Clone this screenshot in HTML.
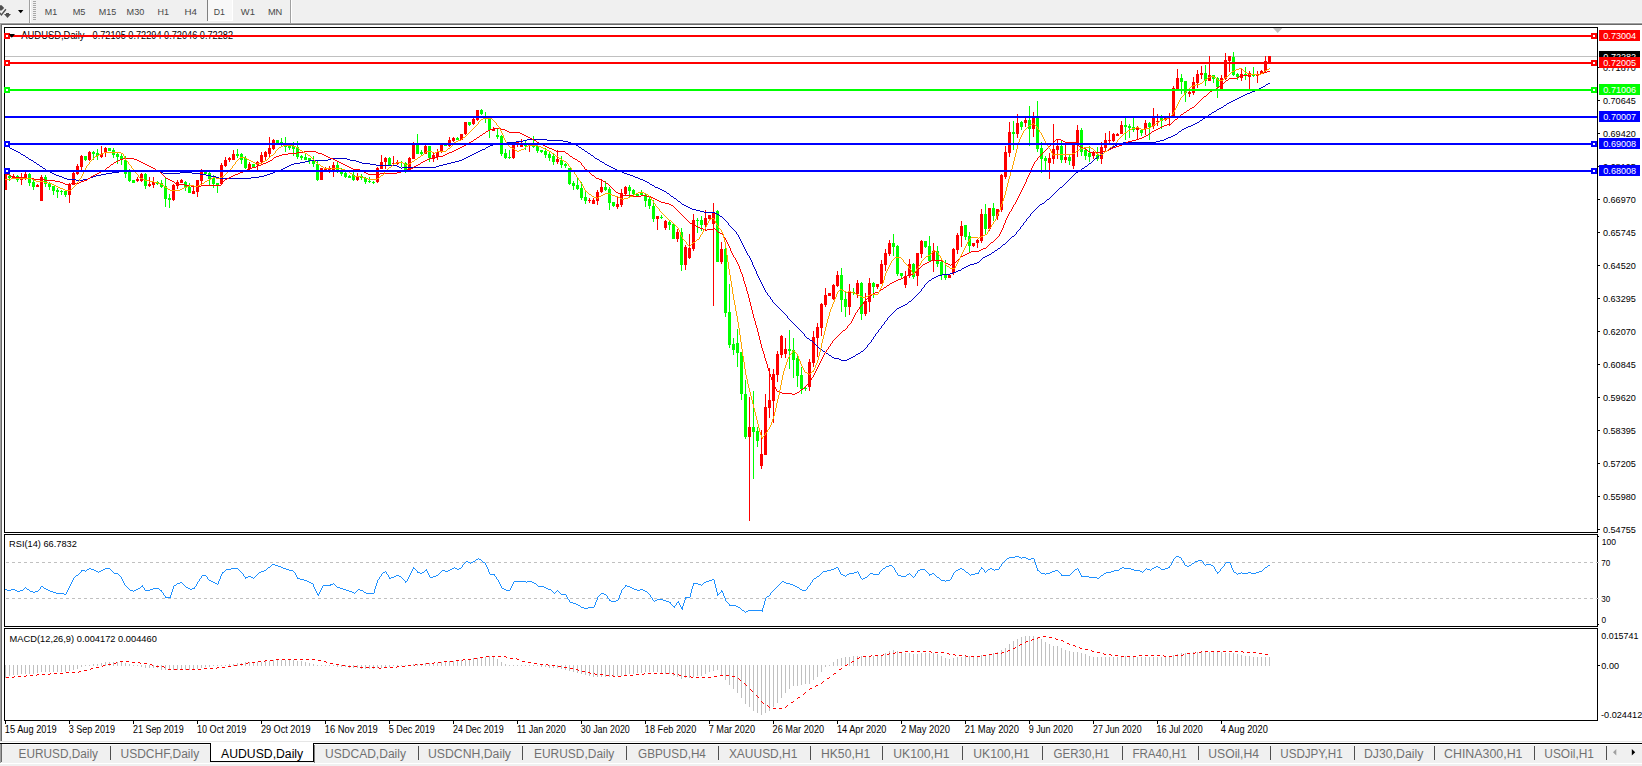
<!DOCTYPE html>
<html><head><meta charset="utf-8"><title>AUDUSD,Daily</title>
<style>html,body{margin:0;padding:0;background:#fff;overflow:hidden}svg{display:block}text{font-family:"Liberation Sans",sans-serif}</style></head>
<body>
<svg width="1642" height="766" viewBox="0 0 1642 766" shape-rendering="crispEdges" font-family="Liberation Sans, sans-serif">
<rect x="0" y="0" width="1642" height="766" fill="#ffffff"/>
<rect x="0" y="0" width="1642" height="23" fill="#f0f0f0"/>
<rect x="0" y="22" width="1642" height="1" fill="#f8f8f8"/>
<rect x="0" y="23" width="1642" height="1" fill="#a0a0a0"/>
<rect x="0" y="24" width="1642" height="1" fill="#696969"/>
<rect x="0" y="24" width="1" height="718" fill="#a0a0a0"/>
<rect x="1" y="25" width="1" height="717" fill="#696969"/>
<rect x="0" y="741" width="1642" height="1" fill="#e6e6e6"/>
<rect x="0" y="742" width="1642" height="1" fill="#ffffff"/>
<rect x="0" y="743" width="1642" height="1" fill="#000000"/>
<rect x="0" y="744" width="1642" height="1" fill="#fbfbfb"/>
<rect x="0" y="745" width="1642" height="18" fill="#f0f0f0"/>
<rect x="0" y="763" width="1642" height="1" fill="#ffffff"/>
<rect x="0" y="764" width="1642" height="2" fill="#f0f0f0"/>
<rect x="0" y="744" width="1" height="19" fill="#a0a0a0"/>
<rect x="1" y="744" width="1" height="18" fill="#696969"/>
<g fill="#505050" shape-rendering="auto">
<path d="M0 5.2 L1.6 5.2 L4.2 8.1 L1.6 10.4 L0 10.4 Z"/>
<path d="M-0.5 12.6 L1.4 14.9 L5.9 9.2" fill="none" stroke="#505050" stroke-width="1.4"/>
<path d="M4 14 L6 14 L6 13 L9 13 L9 14 L11 14 L7.5 18 Z"/>
</g>
<path d="M18 10 L23.4 10 L20.7 13.2 Z" fill="#000" shape-rendering="auto"/>
<rect x="29" y="0" width="1" height="23" fill="#a0a0a0"/>
<rect x="30" y="0" width="1" height="23" fill="#ffffff"/>
<rect x="33" y="1" width="3" height="1" fill="#a8a8a8"/>
<rect x="33" y="3" width="3" height="1" fill="#a8a8a8"/>
<rect x="33" y="5" width="3" height="1" fill="#a8a8a8"/>
<rect x="33" y="7" width="3" height="1" fill="#a8a8a8"/>
<rect x="33" y="9" width="3" height="1" fill="#a8a8a8"/>
<rect x="33" y="11" width="3" height="1" fill="#a8a8a8"/>
<rect x="33" y="13" width="3" height="1" fill="#a8a8a8"/>
<rect x="33" y="15" width="3" height="1" fill="#a8a8a8"/>
<rect x="33" y="17" width="3" height="1" fill="#a8a8a8"/>
<rect x="33" y="19" width="3" height="1" fill="#a8a8a8"/>
<rect x="208" y="0" width="25" height="21" fill="#f8f8f8"/>
<rect x="207" y="0" width="1" height="21" fill="#808080"/>
<rect x="208" y="20" width="25" height="1" fill="#ffffff"/>
<rect x="232" y="0" width="1" height="21" fill="#ffffff"/>
<rect x="290" y="0" width="1" height="23" fill="#a0a0a0"/>
<rect x="291" y="0" width="1" height="23" fill="#ffffff"/>
<text x="44.80" y="14.9" font-size="9.8" textLength="12.40" lengthAdjust="spacingAndGlyphs" fill="#484848">M1</text>
<text x="72.70" y="14.9" font-size="9.8" textLength="12.80" lengthAdjust="spacingAndGlyphs" fill="#484848">M5</text>
<text x="98.70" y="14.9" font-size="9.8" textLength="17.50" lengthAdjust="spacingAndGlyphs" fill="#484848">M15</text>
<text x="126.60" y="14.9" font-size="9.8" textLength="17.70" lengthAdjust="spacingAndGlyphs" fill="#484848">M30</text>
<text x="157.50" y="14.9" font-size="9.8" textLength="11.49" lengthAdjust="spacingAndGlyphs" fill="#484848">H1</text>
<text x="184.50" y="14.9" font-size="9.8" textLength="12.49" lengthAdjust="spacingAndGlyphs" fill="#484848">H4</text>
<text x="213.80" y="14.9" font-size="9.8" textLength="11.19" lengthAdjust="spacingAndGlyphs" fill="#484848">D1</text>
<text x="240.80" y="14.9" font-size="9.8" textLength="14.09" lengthAdjust="spacingAndGlyphs" fill="#484848">W1</text>
<text x="267.90" y="14.9" font-size="9.8" textLength="14.40" lengthAdjust="spacingAndGlyphs" fill="#484848">MN</text>
<g id="main">
<rect x="5" y="56" width="1592" height="1" fill="#c0c0c0"/>
<path d="M5 174h1v16h-1zM4 174h3v16h-3zM13 174h1v5h-1zM12 176h3v2h-3zM21 173h1v12h-1zM20 178h3v2h-3zM25 172h1v8h-1zM24 174h3v5h-3zM37 184h1v3h-1zM36 185h3v2h-3zM41 175h1v26h-1zM40 177h3v24h-3zM69 183h1v20h-1zM68 184h3v11h-3zM73 172h1v13h-1zM72 173h3v12h-3zM77 164h1v11h-1zM76 166h3v8h-3zM81 155h1v15h-1zM80 156h3v11h-3zM89 151h1v10h-1zM88 152h3v8h-3zM101 146h1v12h-1zM100 154h3v3h-3zM105 147h1v10h-1zM104 148h3v4h-3zM137 177h1v5h-1zM136 179h3v2h-3zM141 173h1v9h-1zM140 174h3v7h-3zM149 177h1v10h-1zM148 184h3v2h-3zM153 177h1v11h-1zM152 182h3v3h-3zM173 184h1v17h-1zM172 185h3v15h-3zM177 180h1v9h-1zM176 182h3v4h-3zM181 179h1v4h-1zM180 180h3v3h-3zM193 185h1v9h-1zM192 191h3v3h-3zM197 180h1v17h-1zM196 180h3v12h-3zM201 169h1v15h-1zM200 172h3v9h-3zM221 163h1v22h-1zM220 165h3v19h-3zM225 157h1v10h-1zM224 160h3v6h-3zM229 157h1v5h-1zM228 158h3v2h-3zM233 150h1v10h-1zM232 154h3v6h-3zM249 162h1v8h-1zM248 164h3v5h-3zM257 161h1v9h-1zM256 162h3v3h-3zM261 152h1v11h-1zM260 155h3v7h-3zM265 151h1v9h-1zM264 152h3v5h-3zM269 137h1v21h-1zM268 148h3v6h-3zM273 139h1v11h-1zM272 140h3v9h-3zM321 168h1v12h-1zM320 168h3v12h-3zM325 167h1v3h-1zM324 168h3v2h-3zM329 166h1v7h-1zM328 168h3v2h-3zM333 162h1v15h-1zM332 165h3v5h-3zM357 173h1v8h-1zM356 176h3v4h-3zM377 167h1v16h-1zM376 168h3v14h-3zM381 155h1v14h-1zM380 162h3v7h-3zM385 157h1v12h-1zM384 158h3v4h-3zM393 156h1v9h-1zM392 163h3v1h-3zM397 160h1v5h-1zM396 162h3v2h-3zM409 157h1v13h-1zM408 158h3v12h-3zM413 142h1v17h-1zM412 145h3v14h-3zM425 145h1v9h-1zM424 146h3v8h-3zM433 153h1v9h-1zM432 155h3v4h-3zM437 149h1v11h-1zM436 152h3v5h-3zM441 145h1v8h-1zM440 145h3v6h-3zM449 137h1v10h-1zM448 140h3v6h-3zM453 137h1v5h-1zM452 138h3v3h-3zM461 134h1v6h-1zM460 134h3v6h-3zM465 122h1v13h-1zM464 122h3v12h-3zM473 118h1v7h-1zM472 119h3v5h-3zM477 110h1v11h-1zM476 110h3v10h-3zM493 127h1v4h-1zM492 129h3v2h-3zM513 142h1v17h-1zM512 142h3v16h-3zM517 142h1v5h-1zM516 142h3v2h-3zM521 139h1v8h-1zM520 145h3v2h-3zM529 144h1v8h-1zM528 144h3v2h-3zM557 150h1v14h-1zM556 159h3v3h-3zM589 198h1v5h-1zM588 200h3v1h-3zM593 198h1v6h-1zM592 200h3v4h-3zM597 190h1v15h-1zM596 192h3v9h-3zM601 179h1v14h-1zM600 187h3v5h-3zM617 197h1v12h-1zM616 204h3v3h-3zM621 189h1v18h-1zM620 193h3v12h-3zM625 186h1v9h-1zM624 187h3v7h-3zM657 216h1v14h-1zM656 216h3v3h-3zM665 220h1v10h-1zM664 221h3v7h-3zM677 229h1v13h-1zM676 232h3v7h-3zM685 245h1v25h-1zM684 247h3v18h-3zM689 234h1v25h-1zM688 248h3v10h-3zM693 214h1v37h-1zM692 220h3v29h-3zM705 210h1v21h-1zM704 218h3v7h-3zM709 215h1v4h-1zM708 215h3v4h-3zM713 203h1v103h-1zM712 212h3v12h-3zM721 242h1v22h-1zM720 249h3v13h-3zM749 397h1v124h-1zM748 427h3v10h-3zM761 430h1v39h-1zM760 454h3v12h-3zM765 394h1v61h-1zM764 407h3v48h-3zM769 368h1v50h-1zM768 400h3v8h-3zM773 369h1v54h-1zM772 374h3v27h-3zM777 351h1v31h-1zM776 354h3v21h-3zM781 335h1v23h-1zM780 336h3v19h-3zM785 338h1v20h-1zM784 349h3v5h-3zM809 359h1v32h-1zM808 362h3v25h-3zM813 331h1v36h-1zM812 337h3v26h-3zM817 323h1v34h-1zM816 327h3v11h-3zM821 303h1v33h-1zM820 304h3v24h-3zM825 288h1v19h-1zM824 295h3v10h-3zM829 293h1v3h-1zM828 293h3v3h-3zM833 284h1v16h-1zM832 285h3v14h-3zM837 271h1v16h-1zM836 275h3v11h-3zM849 284h1v31h-1zM848 292h3v15h-3zM857 280h1v18h-1zM856 283h3v11h-3zM865 293h1v23h-1zM864 301h3v13h-3zM869 278h1v34h-1zM868 283h3v19h-3zM877 284h1v5h-1zM876 284h3v3h-3zM881 260h1v24h-1zM880 264h3v20h-3zM885 249h1v22h-1zM884 253h3v12h-3zM889 240h1v16h-1zM888 243h3v11h-3zM905 271h1v17h-1zM904 276h3v9h-3zM909 259h1v19h-1zM908 264h3v12h-3zM917 253h1v33h-1zM916 253h3v23h-3zM921 240h1v18h-1zM920 241h3v13h-3zM933 243h1v29h-1zM932 251h3v10h-3zM949 275h1v3h-1zM948 275h3v3h-3zM953 248h1v27h-1zM952 249h3v24h-3zM957 233h1v21h-1zM956 235h3v15h-3zM961 221h1v26h-1zM960 226h3v10h-3zM973 243h1v4h-1zM972 243h3v3h-3zM977 239h1v9h-1zM976 240h3v3h-3zM981 209h1v34h-1zM980 214h3v27h-3zM989 208h1v23h-1zM988 208h3v21h-3zM997 209h1v11h-1zM996 209h3v7h-3zM1001 174h1v38h-1zM1000 175h3v35h-3zM1005 146h1v33h-1zM1004 152h3v25h-3zM1009 122h1v35h-1zM1008 132h3v21h-3zM1017 114h1v24h-1zM1016 123h3v11h-3zM1025 117h1v10h-1zM1024 120h3v3h-3zM1033 112h1v25h-1zM1032 118h3v11h-3zM1049 153h1v26h-1zM1048 158h3v5h-3zM1053 124h1v40h-1zM1052 149h3v10h-3zM1057 139h1v20h-1zM1056 146h3v4h-3zM1065 142h1v21h-1zM1064 157h3v3h-3zM1073 142h1v27h-1zM1072 145h3v21h-3zM1077 125h1v32h-1zM1076 130h3v13h-3zM1093 151h1v8h-1zM1092 153h3v3h-3zM1101 142h1v22h-1zM1100 147h3v12h-3zM1105 133h1v18h-1zM1104 140h3v8h-3zM1109 131h1v12h-1zM1108 140h3v1h-3zM1113 133h1v9h-1zM1112 134h3v7h-3zM1117 133h1v3h-1zM1116 134h3v2h-3zM1121 121h1v13h-1zM1120 125h3v9h-3zM1137 126h1v14h-1zM1136 128h3v2h-3zM1145 120h1v15h-1zM1144 123h3v6h-3zM1153 108h1v21h-1zM1152 117h3v9h-3zM1157 114h1v12h-1zM1156 121h3v1h-3zM1165 118h1v3h-1zM1164 118h3v2h-3zM1169 113h1v13h-1zM1168 117h3v1h-3zM1173 86h1v30h-1zM1172 88h3v28h-3zM1177 69h1v20h-1zM1176 78h3v11h-3zM1189 91h1v6h-1zM1188 92h3v2h-3zM1193 77h1v18h-1zM1192 82h3v11h-3zM1197 70h1v18h-1zM1196 74h3v9h-3zM1201 66h1v13h-1zM1200 73h3v2h-3zM1209 56h1v25h-1zM1208 75h3v6h-3zM1221 75h1v14h-1zM1220 78h3v11h-3zM1225 53h1v27h-1zM1224 60h3v19h-3zM1229 56h1v16h-1zM1228 56h3v5h-3zM1241 69h1v12h-1zM1240 74h3v4h-3zM1249 71h1v18h-1zM1248 73h3v4h-3zM1257 71h1v12h-1zM1256 74h3v2h-3zM1261 70h1v4h-1zM1260 71h3v2h-3zM1265 56h1v16h-1zM1264 61h3v10h-3zM1269 56h1v7h-1zM1268 56h3v7h-3z" fill="#ff0000"/>
<path d="M9 174h1v7h-1zM8 176h3v2h-3zM17 175h1v7h-1zM16 176h3v4h-3zM29 173h1v13h-1zM28 174h3v9h-3zM33 180h1v10h-1zM32 182h3v5h-3zM45 175h1v12h-1zM44 177h3v7h-3zM49 182h1v8h-1zM48 184h3v3h-3zM53 186h1v9h-1zM52 186h3v5h-3zM57 188h1v10h-1zM56 190h3v2h-3zM61 190h1v5h-1zM60 191h3v1h-3zM65 190h1v7h-1zM64 191h3v4h-3zM85 156h1v5h-1zM84 156h3v4h-3zM93 151h1v9h-1zM92 152h3v2h-3zM97 149h1v11h-1zM96 153h3v3h-3zM109 148h1v3h-1zM108 148h3v3h-3zM113 148h1v10h-1zM112 150h3v5h-3zM117 152h1v12h-1zM116 154h3v3h-3zM121 153h1v12h-1zM120 156h3v4h-3zM125 156h1v22h-1zM124 160h3v14h-3zM129 169h1v13h-1zM128 172h3v9h-3zM133 180h1v3h-1zM132 180h3v3h-3zM145 173h1v16h-1zM144 174h3v12h-3zM157 181h1v4h-1zM156 182h3v2h-3zM161 180h1v8h-1zM160 183h3v4h-3zM165 178h1v29h-1zM164 186h3v13h-3zM169 194h1v14h-1zM168 198h3v2h-3zM185 181h1v10h-1zM184 182h3v5h-3zM189 183h1v10h-1zM188 187h3v6h-3zM205 171h1v3h-1zM204 172h3v2h-3zM209 172h1v13h-1zM208 173h3v6h-3zM213 175h1v13h-1zM212 178h3v6h-3zM217 183h1v10h-1zM216 183h3v2h-3zM237 149h1v9h-1zM236 154h3v2h-3zM241 153h1v11h-1zM240 154h3v6h-3zM245 156h1v13h-1zM244 158h3v10h-3zM253 164h1v3h-1zM252 164h3v3h-3zM277 140h1v3h-1zM276 140h3v3h-3zM281 138h1v8h-1zM280 142h3v1h-3zM285 137h1v15h-1zM284 145h3v2h-3zM289 145h1v5h-1zM288 146h3v2h-3zM293 142h1v14h-1zM292 146h3v3h-3zM297 141h1v18h-1zM296 147h3v10h-3zM301 155h1v5h-1zM300 156h3v2h-3zM305 154h1v6h-1zM304 157h3v3h-3zM309 158h1v6h-1zM308 158h3v3h-3zM313 156h1v11h-1zM312 161h3v3h-3zM317 161h1v20h-1zM316 164h3v16h-3zM337 162h1v11h-1zM336 165h3v5h-3zM341 168h1v8h-1zM340 172h3v2h-3zM345 172h1v6h-1zM344 173h3v4h-3zM349 175h1v3h-1zM348 176h3v2h-3zM353 172h1v9h-1zM352 175h3v5h-3zM361 174h1v6h-1zM360 176h3v2h-3zM365 177h1v7h-1zM364 178h3v4h-3zM369 177h1v6h-1zM368 181h3v1h-3zM373 181h1v3h-1zM372 182h3v1h-3zM389 157h1v9h-1zM388 158h3v7h-3zM401 161h1v6h-1zM400 162h3v1h-3zM405 162h1v11h-1zM404 163h3v7h-3zM417 134h1v20h-1zM416 145h3v9h-3zM421 150h1v5h-1zM420 152h3v2h-3zM429 146h1v16h-1zM428 146h3v12h-3zM445 144h1v2h-1zM444 145h3v1h-3zM457 137h1v3h-1zM456 138h3v2h-3zM469 122h1v4h-1zM468 122h3v3h-3zM481 109h1v6h-1zM480 110h3v4h-3zM485 112h1v11h-1zM484 116h3v2h-3zM489 118h1v20h-1zM488 118h3v12h-3zM497 129h1v10h-1zM496 135h3v2h-3zM501 135h1v21h-1zM500 136h3v18h-3zM505 149h1v10h-1zM504 153h3v5h-3zM509 150h1v9h-1zM508 157h3v1h-3zM525 141h1v9h-1zM524 145h3v1h-3zM533 136h1v12h-1zM532 145h3v2h-3zM537 145h1v8h-1zM536 146h3v5h-3zM541 150h1v3h-1zM540 150h3v2h-3zM545 148h1v10h-1zM544 151h3v4h-3zM549 151h1v10h-1zM548 154h3v4h-3zM553 154h1v11h-1zM552 156h3v6h-3zM561 156h1v12h-1zM560 160h3v5h-3zM565 163h1v5h-1zM564 164h3v2h-3zM569 168h1v17h-1zM568 168h3v16h-3zM573 181h1v9h-1zM572 183h3v3h-3zM577 178h1v12h-1zM576 185h3v4h-3zM581 182h1v18h-1zM580 188h3v10h-3zM585 192h1v12h-1zM584 197h3v4h-3zM605 181h1v10h-1zM604 187h3v3h-3zM609 187h1v23h-1zM608 189h3v14h-3zM613 202h1v5h-1zM612 202h3v4h-3zM629 185h1v13h-1zM628 187h3v4h-3zM633 189h1v7h-1zM632 190h3v4h-3zM637 193h1v4h-1zM636 194h3v2h-3zM641 190h1v5h-1zM640 193h3v2h-3zM645 193h1v14h-1zM644 195h3v6h-3zM649 196h1v13h-1zM648 199h3v7h-3zM653 200h1v22h-1zM652 206h3v13h-3zM661 215h1v4h-1zM660 217h3v1h-3zM669 221h1v9h-1zM668 222h3v3h-3zM673 223h1v16h-1zM672 224h3v15h-3zM681 228h1v43h-1zM680 232h3v33h-3zM697 218h1v15h-1zM696 220h3v1h-3zM701 216h1v15h-1zM700 220h3v5h-3zM717 210h1v52h-1zM716 211h3v51h-3zM725 247h1v70h-1zM724 249h3v64h-3zM729 284h1v64h-1zM728 312h3v33h-3zM733 338h1v17h-1zM732 344h3v6h-3zM737 329h1v38h-1zM736 343h3v10h-3zM741 352h1v48h-1zM740 352h3v42h-3zM745 380h1v59h-1zM744 394h3v43h-3zM753 391h1v88h-1zM752 427h3v5h-3zM757 427h1v20h-1zM756 431h3v10h-3zM789 330h1v39h-1zM788 349h3v2h-3zM793 338h1v40h-1zM792 350h3v10h-3zM797 356h1v31h-1zM796 358h3v18h-3zM801 367h1v27h-1zM800 375h3v14h-3zM805 387h1v4h-1zM804 388h3v1h-3zM841 268h1v44h-1zM840 275h3v25h-3zM845 292h1v25h-1zM844 299h3v8h-3zM853 288h1v7h-1zM852 292h3v1h-3zM861 282h1v38h-1zM860 283h3v31h-3zM873 282h1v16h-1zM872 283h3v4h-3zM893 234h1v22h-1zM892 243h3v4h-3zM897 245h1v31h-1zM896 246h3v28h-3zM901 273h1v5h-1zM900 273h3v3h-3zM913 263h1v16h-1zM912 264h3v13h-3zM925 241h1v7h-1zM924 241h3v6h-3zM929 236h1v25h-1zM928 246h3v15h-3zM937 246h1v21h-1zM936 251h3v13h-3zM941 261h1v19h-1zM940 262h3v13h-3zM945 260h1v20h-1zM944 275h3v3h-3zM965 225h1v15h-1zM964 225h3v12h-3zM969 232h1v20h-1zM968 236h3v10h-3zM985 204h1v30h-1zM984 214h3v15h-3zM993 203h1v18h-1zM992 208h3v8h-3zM1013 121h1v29h-1zM1012 132h3v2h-3zM1021 121h1v9h-1zM1020 122h3v5h-3zM1029 106h1v40h-1zM1028 120h3v9h-3zM1037 101h1v51h-1zM1036 118h3v31h-3zM1041 142h1v31h-1zM1040 148h3v11h-3zM1045 156h1v14h-1zM1044 158h3v3h-3zM1061 141h1v22h-1zM1060 146h3v14h-3zM1069 155h1v10h-1zM1068 157h3v4h-3zM1081 128h1v28h-1zM1080 130h3v22h-3zM1085 147h1v13h-1zM1084 150h3v6h-3zM1089 146h1v16h-1zM1088 153h3v4h-3zM1097 147h1v14h-1zM1096 155h3v4h-3zM1125 118h1v22h-1zM1124 125h3v2h-3zM1129 124h1v14h-1zM1128 126h3v2h-3zM1133 118h1v14h-1zM1132 127h3v3h-3zM1141 129h1v7h-1zM1140 130h3v3h-3zM1149 122h1v18h-1zM1148 123h3v4h-3zM1161 115h1v14h-1zM1160 118h3v3h-3zM1181 74h1v20h-1zM1180 78h3v4h-3zM1185 81h1v21h-1zM1184 81h3v12h-3zM1205 65h1v21h-1zM1204 73h3v8h-3zM1213 75h1v8h-1zM1212 75h3v4h-3zM1217 77h1v21h-1zM1216 78h3v9h-3zM1233 52h1v24h-1zM1232 57h3v18h-3zM1237 73h1v7h-1zM1236 74h3v3h-3zM1245 67h1v13h-1zM1244 74h3v2h-3zM1253 67h1v10h-1zM1252 74h3v2h-3z" fill="#00ff00"/>
<path d="M7 144h1v1h-1zM8 145h1v1h-1zM9 146h1v2h-1zM10 148h1v1h-1zM11 148h1v1h-1zM12 149h1v1h-1zM13 149h1v1h-1zM14 150h1v1h-1zM15 150h1v1h-1zM16 151h1v1h-1zM17 151h1v1h-1zM18 152h1v1h-1zM19 152h1v1h-1zM20 153h1v1h-1zM21 154h1v1h-1zM22 154h1v1h-1zM23 155h1v1h-1zM24 155h1v1h-1zM25 156h1v1h-1zM26 157h1v1h-1zM27 157h1v1h-1zM28 158h1v1h-1zM29 159h1v1h-1zM30 159h1v1h-1zM31 160h1v1h-1zM32 160h1v1h-1zM33 161h1v1h-1zM34 162h1v1h-1zM35 162h1v1h-1zM36 163h1v1h-1zM37 164h1v1h-1zM38 164h1v1h-1zM39 165h1v1h-1zM40 166h1v1h-1zM41 166h1v1h-1zM42 167h1v1h-1zM43 168h1v1h-1zM44 168h1v1h-1zM45 169h1v1h-1zM46 170h1v1h-1zM47 170h1v1h-1zM48 171h1v1h-1zM49 171h1v1h-1zM50 172h1v1h-1zM51 172h1v1h-1zM52 173h1v1h-1zM53 173h1v1h-1zM54 174h1v1h-1zM55 174h1v1h-1zM56 175h1v1h-1zM57 175h1v1h-1zM58 175h1v1h-1zM59 176h1v1h-1zM60 176h1v1h-1zM61 176h1v1h-1zM62 177h1v1h-1zM63 177h1v1h-1zM64 178h1v1h-1zM65 178h1v1h-1zM66 178h1v1h-1zM67 179h1v1h-1zM68 179h1v1h-1zM69 179h1v1h-1zM70 179h1v1h-1zM71 179h1v1h-1zM72 179h1v1h-1zM73 179h1v1h-1zM74 179h1v1h-1zM75 179h1v1h-1zM76 180h1v1h-1zM77 180h1v1h-1zM78 180h1v1h-1zM79 180h1v1h-1zM80 180h1v1h-1zM81 180h1v1h-1zM82 180h1v1h-1zM83 179h1v1h-1zM84 179h1v1h-1zM85 179h1v1h-1zM86 179h1v1h-1zM87 179h1v1h-1zM88 178h1v1h-1zM89 178h1v1h-1zM90 177h1v1h-1zM91 177h1v1h-1zM92 177h1v1h-1zM93 176h1v1h-1zM94 176h1v1h-1zM95 176h1v1h-1zM96 175h1v1h-1zM97 175h1v1h-1zM98 175h1v1h-1zM99 175h1v1h-1zM100 175h1v1h-1zM101 174h1v1h-1zM102 174h1v1h-1zM103 174h1v1h-1zM104 174h1v1h-1zM105 174h1v1h-1zM106 173h1v1h-1zM107 173h1v1h-1zM108 173h1v1h-1zM109 173h1v1h-1zM110 173h1v1h-1zM111 173h1v1h-1zM112 172h1v1h-1zM113 172h1v1h-1zM114 172h1v1h-1zM115 172h1v1h-1zM116 172h1v1h-1zM117 172h1v1h-1zM118 172h1v1h-1zM119 171h1v1h-1zM120 171h1v1h-1zM121 171h1v1h-1zM122 171h1v1h-1zM123 171h1v1h-1zM124 171h1v1h-1zM125 171h1v1h-1zM126 171h1v1h-1zM127 171h1v1h-1zM128 171h1v1h-1zM129 171h1v1h-1zM130 171h1v1h-1zM131 171h1v1h-1zM132 171h1v1h-1zM133 171h1v1h-1zM134 171h1v1h-1zM135 171h1v1h-1zM136 171h1v1h-1zM137 171h1v1h-1zM138 171h1v1h-1zM139 171h1v1h-1zM140 171h1v1h-1zM141 171h1v1h-1zM142 171h1v1h-1zM143 171h1v1h-1zM144 171h1v1h-1zM145 171h1v1h-1zM146 171h1v1h-1zM147 171h1v1h-1zM148 171h1v1h-1zM149 171h1v1h-1zM150 171h1v1h-1zM151 171h1v1h-1zM152 171h1v1h-1zM153 171h1v1h-1zM154 171h1v1h-1zM155 171h1v1h-1zM156 171h1v1h-1zM157 171h1v1h-1zM158 171h1v1h-1zM159 171h1v1h-1zM160 171h1v1h-1zM161 172h1v1h-1zM162 172h1v1h-1zM163 173h1v1h-1zM164 173h1v1h-1zM165 173h1v1h-1zM166 173h1v1h-1zM167 173h1v1h-1zM168 173h1v1h-1zM169 173h1v1h-1zM170 173h1v1h-1zM171 173h1v1h-1zM172 173h1v1h-1zM173 173h1v1h-1zM174 173h1v1h-1zM175 173h1v1h-1zM176 173h1v1h-1zM177 173h1v1h-1zM178 173h1v1h-1zM179 173h1v1h-1zM180 172h1v1h-1zM181 172h1v1h-1zM182 172h1v1h-1zM183 172h1v1h-1zM184 172h1v1h-1zM185 172h1v1h-1zM186 172h1v1h-1zM187 172h1v1h-1zM188 172h1v1h-1zM189 172h1v1h-1zM190 172h1v1h-1zM191 172h1v1h-1zM192 173h1v1h-1zM193 173h1v1h-1zM194 173h1v1h-1zM195 173h1v1h-1zM196 173h1v1h-1zM197 173h1v1h-1zM198 173h1v1h-1zM199 173h1v1h-1zM200 174h1v1h-1zM201 174h1v1h-1zM202 174h1v1h-1zM203 174h1v1h-1zM204 174h1v1h-1zM205 174h1v1h-1zM206 175h1v1h-1zM207 175h1v1h-1zM208 175h1v1h-1zM209 175h1v1h-1zM210 175h1v1h-1zM211 176h1v1h-1zM212 176h1v1h-1zM213 176h1v1h-1zM214 176h1v1h-1zM215 176h1v1h-1zM216 177h1v1h-1zM217 177h1v1h-1zM218 177h1v1h-1zM219 178h1v1h-1zM220 178h1v1h-1zM221 178h1v1h-1zM222 178h1v1h-1zM223 178h1v1h-1zM224 178h1v1h-1zM225 178h1v1h-1zM226 178h1v1h-1zM227 178h1v1h-1zM228 178h1v1h-1zM229 178h1v1h-1zM230 178h1v1h-1zM231 178h1v1h-1zM232 178h1v1h-1zM233 178h1v1h-1zM234 178h1v1h-1zM235 178h1v1h-1zM236 178h1v1h-1zM237 178h1v1h-1zM238 178h1v1h-1zM239 178h1v1h-1zM240 178h1v1h-1zM241 178h1v1h-1zM242 178h1v1h-1zM243 178h1v1h-1zM244 178h1v1h-1zM245 178h1v1h-1zM246 178h1v1h-1zM247 178h1v1h-1zM248 178h1v1h-1zM249 178h1v1h-1zM250 178h1v1h-1zM251 177h1v1h-1zM252 177h1v1h-1zM253 177h1v1h-1zM254 177h1v1h-1zM255 177h1v1h-1zM256 177h1v1h-1zM257 177h1v1h-1zM258 177h1v1h-1zM259 176h1v1h-1zM260 176h1v1h-1zM261 176h1v1h-1zM262 176h1v1h-1zM263 176h1v1h-1zM264 175h1v1h-1zM265 175h1v1h-1zM266 175h1v1h-1zM267 174h1v1h-1zM268 174h1v1h-1zM269 174h1v1h-1zM270 173h1v1h-1zM271 173h1v1h-1zM272 173h1v1h-1zM273 172h1v1h-1zM274 172h1v1h-1zM275 171h1v1h-1zM276 171h1v1h-1zM277 171h1v1h-1zM278 170h1v1h-1zM279 170h1v1h-1zM280 170h1v1h-1zM281 169h1v1h-1zM282 169h1v1h-1zM283 168h1v1h-1zM284 168h1v1h-1zM285 167h1v1h-1zM286 167h1v1h-1zM287 166h1v1h-1zM288 166h1v1h-1zM289 165h1v1h-1zM290 165h1v1h-1zM291 164h1v1h-1zM292 164h1v1h-1zM293 164h1v1h-1zM294 163h1v1h-1zM295 163h1v1h-1zM296 163h1v1h-1zM297 163h1v1h-1zM298 163h1v1h-1zM299 163h1v1h-1zM300 162h1v1h-1zM301 162h1v1h-1zM302 162h1v1h-1zM303 162h1v1h-1zM304 162h1v1h-1zM305 161h1v1h-1zM306 161h1v1h-1zM307 161h1v1h-1zM308 161h1v1h-1zM309 160h1v1h-1zM310 160h1v1h-1zM311 160h1v1h-1zM312 160h1v1h-1zM313 160h1v1h-1zM314 160h1v1h-1zM315 160h1v1h-1zM316 160h1v1h-1zM317 160h1v1h-1zM318 160h1v1h-1zM319 160h1v1h-1zM320 160h1v1h-1zM321 160h1v1h-1zM322 160h1v1h-1zM323 160h1v1h-1zM324 160h1v1h-1zM325 160h1v1h-1zM326 160h1v1h-1zM327 160h1v1h-1zM328 159h1v1h-1zM329 159h1v1h-1zM330 159h1v1h-1zM331 158h1v1h-1zM332 158h1v1h-1zM333 158h1v1h-1zM334 158h1v1h-1zM335 158h1v1h-1zM336 158h1v1h-1zM337 158h1v1h-1zM338 158h1v1h-1zM339 158h1v1h-1zM340 158h1v1h-1zM341 158h1v1h-1zM342 158h1v1h-1zM343 158h1v1h-1zM344 158h1v1h-1zM345 158h1v1h-1zM346 158h1v1h-1zM347 159h1v1h-1zM348 159h1v1h-1zM349 159h1v1h-1zM350 160h1v1h-1zM351 160h1v1h-1zM352 160h1v1h-1zM353 160h1v1h-1zM354 160h1v1h-1zM355 160h1v1h-1zM356 161h1v1h-1zM357 161h1v1h-1zM358 161h1v1h-1zM359 162h1v1h-1zM360 162h1v1h-1zM361 162h1v1h-1zM362 163h1v1h-1zM363 163h1v1h-1zM364 163h1v1h-1zM365 163h1v1h-1zM366 163h1v1h-1zM367 163h1v1h-1zM368 163h1v1h-1zM369 163h1v1h-1zM370 164h1v1h-1zM371 164h1v1h-1zM372 164h1v1h-1zM373 164h1v1h-1zM374 164h1v1h-1zM375 164h1v1h-1zM376 165h1v1h-1zM377 165h1v1h-1zM378 165h1v1h-1zM379 165h1v1h-1zM380 165h1v1h-1zM381 165h1v1h-1zM382 165h1v1h-1zM383 165h1v1h-1zM384 165h1v1h-1zM385 165h1v1h-1zM386 165h1v1h-1zM387 165h1v1h-1zM388 165h1v1h-1zM389 165h1v1h-1zM390 165h1v1h-1zM391 165h1v1h-1zM392 165h1v1h-1zM393 165h1v1h-1zM394 165h1v1h-1zM395 165h1v1h-1zM396 165h1v1h-1zM397 166h1v1h-1zM398 166h1v1h-1zM399 167h1v1h-1zM400 167h1v1h-1zM401 168h1v1h-1zM402 167h1v1h-1zM403 167h1v1h-1zM404 167h1v1h-1zM405 167h1v1h-1zM406 167h1v1h-1zM407 167h1v1h-1zM408 167h1v1h-1zM409 167h1v1h-1zM410 167h1v1h-1zM411 167h1v1h-1zM412 167h1v1h-1zM413 167h1v1h-1zM414 167h1v1h-1zM415 167h1v1h-1zM416 167h1v1h-1zM417 167h1v1h-1zM418 167h1v1h-1zM419 167h1v1h-1zM420 167h1v1h-1zM421 167h1v1h-1zM422 167h1v1h-1zM423 167h1v1h-1zM424 167h1v1h-1zM425 167h1v1h-1zM426 167h1v1h-1zM427 167h1v1h-1zM428 167h1v1h-1zM429 167h1v1h-1zM430 167h1v1h-1zM431 167h1v1h-1zM432 167h1v1h-1zM433 167h1v1h-1zM434 167h1v1h-1zM435 167h1v1h-1zM436 166h1v1h-1zM437 166h1v1h-1zM438 166h1v1h-1zM439 165h1v1h-1zM440 165h1v1h-1zM441 165h1v1h-1zM442 165h1v1h-1zM443 164h1v1h-1zM444 164h1v1h-1zM445 164h1v1h-1zM446 164h1v1h-1zM447 163h1v1h-1zM448 163h1v1h-1zM449 163h1v1h-1zM450 163h1v1h-1zM451 162h1v1h-1zM452 162h1v1h-1zM453 162h1v1h-1zM454 162h1v1h-1zM455 161h1v1h-1zM456 161h1v1h-1zM457 161h1v1h-1zM458 161h1v1h-1zM459 160h1v1h-1zM460 160h1v1h-1zM461 160h1v1h-1zM462 159h1v1h-1zM463 159h1v1h-1zM464 158h1v1h-1zM465 158h1v1h-1zM466 157h1v1h-1zM467 157h1v1h-1zM468 156h1v1h-1zM469 156h1v1h-1zM470 155h1v1h-1zM471 155h1v1h-1zM472 154h1v1h-1zM473 154h1v1h-1zM474 153h1v1h-1zM475 153h1v1h-1zM476 152h1v1h-1zM477 152h1v1h-1zM478 151h1v1h-1zM479 151h1v1h-1zM480 150h1v1h-1zM481 150h1v1h-1zM482 149h1v1h-1zM483 149h1v1h-1zM484 149h1v1h-1zM485 148h1v1h-1zM486 147h1v1h-1zM487 147h1v1h-1zM488 146h1v1h-1zM489 146h1v1h-1zM490 145h1v1h-1zM491 145h1v1h-1zM492 145h1v1h-1zM493 144h1v1h-1zM494 144h1v1h-1zM495 144h1v1h-1zM496 144h1v1h-1zM497 144h1v1h-1zM498 143h1v1h-1zM499 143h1v1h-1zM500 143h1v1h-1zM501 143h1v1h-1zM502 143h1v1h-1zM503 143h1v1h-1zM504 143h1v1h-1zM505 143h1v1h-1zM506 142h1v1h-1zM507 142h1v1h-1zM508 142h1v1h-1zM509 142h1v1h-1zM510 142h1v1h-1zM511 142h1v1h-1zM512 142h1v1h-1zM513 142h1v1h-1zM514 142h1v1h-1zM515 142h1v1h-1zM516 141h1v1h-1zM517 141h1v1h-1zM518 141h1v1h-1zM519 141h1v1h-1zM520 141h1v1h-1zM521 141h1v1h-1zM522 141h1v1h-1zM523 140h1v1h-1zM524 140h1v1h-1zM525 140h1v1h-1zM526 140h1v1h-1zM527 139h1v1h-1zM528 139h1v1h-1zM529 139h1v1h-1zM530 139h1v1h-1zM531 139h1v1h-1zM532 139h1v1h-1zM533 139h1v1h-1zM534 139h1v1h-1zM535 139h1v1h-1zM536 139h1v1h-1zM537 139h1v1h-1zM538 139h1v1h-1zM539 139h1v1h-1zM540 139h1v1h-1zM541 139h1v1h-1zM542 139h1v1h-1zM543 139h1v1h-1zM544 139h1v1h-1zM545 139h1v1h-1zM546 139h1v1h-1zM547 140h1v1h-1zM548 140h1v1h-1zM549 140h1v1h-1zM550 140h1v1h-1zM551 140h1v1h-1zM552 140h1v1h-1zM553 140h1v1h-1zM554 140h1v1h-1zM555 140h1v1h-1zM556 140h1v1h-1zM557 140h1v1h-1zM558 140h1v1h-1zM559 140h1v1h-1zM560 140h1v1h-1zM561 140h1v1h-1zM562 140h1v1h-1zM563 141h1v1h-1zM564 141h1v1h-1zM565 141h1v1h-1zM566 141h1v1h-1zM567 141h1v1h-1zM568 142h1v1h-1zM569 142h1v1h-1zM570 142h1v1h-1zM571 143h1v1h-1zM572 143h1v1h-1zM573 143h1v1h-1zM574 144h1v1h-1zM575 144h1v1h-1zM576 145h1v1h-1zM577 145h1v1h-1zM578 146h1v1h-1zM579 147h1v1h-1zM580 147h1v1h-1zM581 148h1v1h-1zM582 149h1v1h-1zM583 149h1v1h-1zM584 150h1v1h-1zM585 151h1v1h-1zM586 151h1v1h-1zM587 152h1v1h-1zM588 153h1v1h-1zM589 153h1v1h-1zM590 154h1v1h-1zM591 155h1v1h-1zM592 155h1v1h-1zM593 156h1v1h-1zM594 157h1v1h-1zM595 158h1v1h-1zM596 158h1v1h-1zM597 159h1v1h-1zM598 159h1v1h-1zM599 160h1v1h-1zM600 161h1v1h-1zM601 161h1v1h-1zM602 162h1v1h-1zM603 162h1v1h-1zM604 163h1v1h-1zM605 164h1v1h-1zM606 164h1v1h-1zM607 165h1v1h-1zM608 165h1v1h-1zM609 166h1v1h-1zM610 166h1v1h-1zM611 167h1v1h-1zM612 167h1v1h-1zM613 168h1v1h-1zM614 168h1v1h-1zM615 169h1v1h-1zM616 169h1v1h-1zM617 170h1v1h-1zM618 170h1v1h-1zM619 171h1v1h-1zM620 171h1v1h-1zM621 171h1v1h-1zM622 172h1v1h-1zM623 172h1v1h-1zM624 173h1v1h-1zM625 173h1v1h-1zM626 173h1v1h-1zM627 174h1v1h-1zM628 174h1v1h-1zM629 174h1v1h-1zM630 175h1v1h-1zM631 175h1v1h-1zM632 175h1v1h-1zM633 176h1v1h-1zM634 176h1v1h-1zM635 177h1v1h-1zM636 177h1v1h-1zM637 177h1v1h-1zM638 178h1v1h-1zM639 178h1v1h-1zM640 179h1v1h-1zM641 179h1v1h-1zM642 179h1v1h-1zM643 180h1v1h-1zM644 180h1v1h-1zM645 181h1v1h-1zM646 181h1v1h-1zM647 182h1v1h-1zM648 182h1v1h-1zM649 183h1v1h-1zM650 184h1v1h-1zM651 184h1v1h-1zM652 185h1v1h-1zM653 185h1v1h-1zM654 186h1v1h-1zM655 187h1v1h-1zM656 187h1v1h-1zM657 187h1v1h-1zM658 188h1v1h-1zM659 188h1v1h-1zM660 189h1v1h-1zM661 189h1v1h-1zM662 190h1v1h-1zM663 190h1v1h-1zM664 191h1v1h-1zM665 191h1v1h-1zM666 192h1v1h-1zM667 193h1v1h-1zM668 193h1v1h-1zM669 194h1v1h-1zM670 195h1v1h-1zM671 196h1v1h-1zM672 196h1v1h-1zM673 197h1v1h-1zM674 198h1v1h-1zM675 198h1v1h-1zM676 199h1v1h-1zM677 200h1v1h-1zM678 201h1v1h-1zM679 201h1v1h-1zM680 202h1v1h-1zM681 203h1v1h-1zM682 204h1v1h-1zM683 204h1v1h-1zM684 205h1v1h-1zM685 205h1v1h-1zM686 206h1v1h-1zM687 206h1v1h-1zM688 207h1v1h-1zM689 207h1v1h-1zM690 208h1v1h-1zM691 208h1v1h-1zM692 209h1v1h-1zM693 209h1v1h-1zM694 209h1v1h-1zM695 209h1v1h-1zM696 210h1v1h-1zM697 210h1v1h-1zM698 210h1v1h-1zM699 210h1v1h-1zM700 211h1v1h-1zM701 211h1v1h-1zM702 211h1v1h-1zM703 211h1v1h-1zM704 212h1v1h-1zM705 212h1v1h-1zM706 212h1v1h-1zM707 212h1v1h-1zM708 212h1v1h-1zM709 212h1v1h-1zM710 212h1v1h-1zM711 212h1v1h-1zM712 212h1v1h-1zM713 212h1v1h-1zM714 212h1v1h-1zM715 213h1v1h-1zM716 213h1v1h-1zM717 214h1v1h-1zM718 214h1v1h-1zM719 215h1v1h-1zM720 216h1v1h-1zM721 216h1v1h-1zM722 217h1v1h-1zM723 218h1v1h-1zM724 219h1v1h-1zM725 220h1v1h-1zM726 221h1v1h-1zM727 222h1v1h-1zM728 223h1v2h-1zM729 225h1v1h-1zM730 226h1v1h-1zM731 227h1v1h-1zM732 228h1v1h-1zM733 229h1v1h-1zM734 230h1v1h-1zM735 231h1v1h-1zM736 232h1v2h-1zM737 234h1v1h-1zM738 235h1v2h-1zM739 237h1v2h-1zM740 239h1v2h-1zM741 241h1v2h-1zM742 243h1v2h-1zM743 245h1v2h-1zM744 247h1v2h-1zM745 249h1v2h-1zM746 251h1v2h-1zM747 253h1v2h-1zM748 255h1v1h-1zM749 256h1v2h-1zM750 258h1v2h-1zM751 260h1v2h-1zM752 262h1v3h-1zM753 265h1v2h-1zM754 267h1v2h-1zM755 269h1v2h-1zM756 271h1v3h-1zM757 274h1v2h-1zM758 276h1v2h-1zM759 278h1v2h-1zM760 280h1v2h-1zM761 282h1v2h-1zM762 284h1v2h-1zM763 286h1v2h-1zM764 288h1v2h-1zM765 290h1v2h-1zM766 292h1v1h-1zM767 293h1v2h-1zM768 295h1v1h-1zM769 296h1v1h-1zM770 297h1v2h-1zM771 299h1v1h-1zM772 300h1v2h-1zM773 302h1v1h-1zM774 303h1v1h-1zM775 304h1v1h-1zM776 305h1v1h-1zM777 306h1v1h-1zM778 307h1v1h-1zM779 308h1v1h-1zM780 309h1v1h-1zM781 310h1v1h-1zM782 311h1v1h-1zM783 312h1v1h-1zM784 313h1v1h-1zM785 314h1v1h-1zM786 315h1v1h-1zM787 316h1v2h-1zM788 318h1v1h-1zM789 319h1v1h-1zM790 320h1v1h-1zM791 321h1v1h-1zM792 322h1v1h-1zM793 323h1v1h-1zM794 324h1v1h-1zM795 325h1v1h-1zM796 326h1v1h-1zM797 327h1v1h-1zM798 328h1v1h-1zM799 329h1v1h-1zM800 330h1v1h-1zM801 331h1v1h-1zM802 332h1v1h-1zM803 333h1v1h-1zM804 334h1v2h-1zM805 336h1v1h-1zM806 337h1v1h-1zM807 338h1v1h-1zM808 338h1v1h-1zM809 339h1v1h-1zM810 340h1v1h-1zM811 340h1v1h-1zM812 341h1v1h-1zM813 342h1v1h-1zM814 343h1v1h-1zM815 344h1v1h-1zM816 345h1v1h-1zM817 346h1v1h-1zM818 347h1v1h-1zM819 348h1v1h-1zM820 349h1v1h-1zM821 349h1v1h-1zM822 350h1v1h-1zM823 351h1v1h-1zM824 351h1v1h-1zM825 352h1v1h-1zM826 353h1v1h-1zM827 353h1v1h-1zM828 354h1v1h-1zM829 355h1v1h-1zM830 355h1v1h-1zM831 356h1v1h-1zM832 357h1v1h-1zM833 357h1v1h-1zM834 358h1v1h-1zM835 358h1v1h-1zM836 358h1v1h-1zM837 358h1v1h-1zM838 358h1v1h-1zM839 359h1v1h-1zM840 359h1v1h-1zM841 360h1v1h-1zM842 360h1v1h-1zM843 360h1v1h-1zM844 360h1v1h-1zM845 360h1v1h-1zM846 360h1v1h-1zM847 359h1v1h-1zM848 359h1v1h-1zM849 358h1v1h-1zM850 358h1v1h-1zM851 357h1v1h-1zM852 357h1v1h-1zM853 356h1v1h-1zM854 356h1v1h-1zM855 355h1v1h-1zM856 354h1v1h-1zM857 354h1v1h-1zM858 353h1v1h-1zM859 353h1v1h-1zM860 352h1v1h-1zM861 351h1v1h-1zM862 351h1v1h-1zM863 350h1v1h-1zM864 349h1v1h-1zM865 348h1v1h-1zM866 347h1v1h-1zM867 345h1v2h-1zM868 344h1v1h-1zM869 343h1v1h-1zM870 342h1v1h-1zM871 340h1v2h-1zM872 339h1v1h-1zM873 337h1v2h-1zM874 336h1v1h-1zM875 334h1v2h-1zM876 333h1v1h-1zM877 332h1v1h-1zM878 330h1v2h-1zM879 329h1v1h-1zM880 328h1v1h-1zM881 326h1v2h-1zM882 325h1v1h-1zM883 324h1v1h-1zM884 322h1v2h-1zM885 321h1v1h-1zM886 320h1v1h-1zM887 318h1v2h-1zM888 317h1v1h-1zM889 316h1v1h-1zM890 315h1v1h-1zM891 314h1v1h-1zM892 313h1v1h-1zM893 312h1v1h-1zM894 311h1v1h-1zM895 310h1v1h-1zM896 309h1v1h-1zM897 308h1v1h-1zM898 308h1v1h-1zM899 307h1v1h-1zM900 307h1v1h-1zM901 306h1v1h-1zM902 306h1v1h-1zM903 305h1v1h-1zM904 305h1v1h-1zM905 304h1v1h-1zM906 304h1v1h-1zM907 303h1v1h-1zM908 302h1v1h-1zM909 301h1v1h-1zM910 301h1v1h-1zM911 300h1v1h-1zM912 299h1v1h-1zM913 298h1v1h-1zM914 297h1v1h-1zM915 296h1v1h-1zM916 295h1v1h-1zM917 294h1v1h-1zM918 293h1v1h-1zM919 292h1v1h-1zM920 291h1v1h-1zM921 289h1v2h-1zM922 288h1v1h-1zM923 287h1v1h-1zM924 285h1v2h-1zM925 284h1v1h-1zM926 283h1v1h-1zM927 282h1v1h-1zM928 281h1v1h-1zM929 280h1v1h-1zM930 280h1v1h-1zM931 279h1v1h-1zM932 278h1v1h-1zM933 278h1v1h-1zM934 277h1v1h-1zM935 277h1v1h-1zM936 276h1v1h-1zM937 276h1v1h-1zM938 275h1v1h-1zM939 275h1v1h-1zM940 275h1v1h-1zM941 275h1v1h-1zM942 274h1v1h-1zM943 274h1v1h-1zM944 274h1v1h-1zM945 274h1v1h-1zM946 274h1v1h-1zM947 274h1v1h-1zM948 274h1v1h-1zM949 274h1v1h-1zM950 273h1v1h-1zM951 273h1v1h-1zM952 273h1v1h-1zM953 272h1v1h-1zM954 272h1v1h-1zM955 272h1v1h-1zM956 271h1v1h-1zM957 271h1v1h-1zM958 270h1v1h-1zM959 270h1v1h-1zM960 270h1v1h-1zM961 269h1v1h-1zM962 268h1v1h-1zM963 268h1v1h-1zM964 267h1v1h-1zM965 267h1v1h-1zM966 266h1v1h-1zM967 266h1v1h-1zM968 265h1v1h-1zM969 265h1v1h-1zM970 264h1v1h-1zM971 264h1v1h-1zM972 264h1v1h-1zM973 264h1v1h-1zM974 263h1v1h-1zM975 263h1v1h-1zM976 263h1v1h-1zM977 262h1v1h-1zM978 262h1v1h-1zM979 261h1v1h-1zM980 260h1v1h-1zM981 259h1v1h-1zM982 258h1v1h-1zM983 257h1v1h-1zM984 257h1v1h-1zM985 256h1v1h-1zM986 256h1v1h-1zM987 255h1v1h-1zM988 255h1v1h-1zM989 254h1v1h-1zM990 254h1v1h-1zM991 253h1v1h-1zM992 252h1v1h-1zM993 252h1v1h-1zM994 251h1v1h-1zM995 250h1v1h-1zM996 250h1v1h-1zM997 249h1v1h-1zM998 248h1v1h-1zM999 248h1v1h-1zM1000 247h1v1h-1zM1001 246h1v1h-1zM1002 245h1v1h-1zM1003 244h1v1h-1zM1004 244h1v1h-1zM1005 243h1v1h-1zM1006 242h1v1h-1zM1007 241h1v1h-1zM1008 240h1v1h-1zM1009 239h1v1h-1zM1010 238h1v1h-1zM1011 237h1v1h-1zM1012 236h1v1h-1zM1013 236h1v1h-1zM1014 235h1v1h-1zM1015 234h1v1h-1zM1016 232h1v2h-1zM1017 231h1v1h-1zM1018 230h1v1h-1zM1019 229h1v1h-1zM1020 227h1v2h-1zM1021 226h1v1h-1zM1022 225h1v1h-1zM1023 223h1v2h-1zM1024 222h1v1h-1zM1025 221h1v1h-1zM1026 219h1v2h-1zM1027 218h1v1h-1zM1028 217h1v1h-1zM1029 216h1v1h-1zM1030 214h1v2h-1zM1031 213h1v1h-1zM1032 212h1v1h-1zM1033 211h1v1h-1zM1034 210h1v1h-1zM1035 209h1v1h-1zM1036 208h1v1h-1zM1037 207h1v1h-1zM1038 206h1v1h-1zM1039 205h1v1h-1zM1040 204h1v1h-1zM1041 204h1v1h-1zM1042 203h1v1h-1zM1043 203h1v1h-1zM1044 202h1v1h-1zM1045 201h1v1h-1zM1046 200h1v1h-1zM1047 199h1v1h-1zM1048 199h1v1h-1zM1049 198h1v1h-1zM1050 197h1v1h-1zM1051 196h1v1h-1zM1052 195h1v1h-1zM1053 194h1v1h-1zM1054 193h1v1h-1zM1055 192h1v1h-1zM1056 191h1v1h-1zM1057 190h1v1h-1zM1058 189h1v1h-1zM1059 188h1v1h-1zM1060 187h1v1h-1zM1061 187h1v1h-1zM1062 186h1v1h-1zM1063 185h1v1h-1zM1064 184h1v1h-1zM1065 183h1v1h-1zM1066 182h1v1h-1zM1067 181h1v1h-1zM1068 180h1v1h-1zM1069 179h1v1h-1zM1070 178h1v1h-1zM1071 177h1v1h-1zM1072 176h1v1h-1zM1073 175h1v1h-1zM1074 174h1v1h-1zM1075 173h1v1h-1zM1076 172h1v1h-1zM1077 172h1v1h-1zM1078 171h1v1h-1zM1079 170h1v1h-1zM1080 170h1v1h-1zM1081 169h1v1h-1zM1082 168h1v1h-1zM1083 168h1v1h-1zM1084 167h1v1h-1zM1085 166h1v1h-1zM1086 166h1v1h-1zM1087 165h1v1h-1zM1088 164h1v1h-1zM1089 163h1v1h-1zM1090 163h1v1h-1zM1091 162h1v1h-1zM1092 161h1v1h-1zM1093 160h1v1h-1zM1094 159h1v1h-1zM1095 158h1v1h-1zM1096 158h1v1h-1zM1097 157h1v1h-1zM1098 156h1v1h-1zM1099 155h1v1h-1zM1100 155h1v1h-1zM1101 154h1v1h-1zM1102 153h1v1h-1zM1103 153h1v1h-1zM1104 152h1v1h-1zM1105 151h1v1h-1zM1106 151h1v1h-1zM1107 150h1v1h-1zM1108 149h1v1h-1zM1109 149h1v1h-1zM1110 148h1v1h-1zM1111 148h1v1h-1zM1112 147h1v1h-1zM1113 146h1v1h-1zM1114 146h1v1h-1zM1115 145h1v1h-1zM1116 145h1v1h-1zM1117 144h1v1h-1zM1118 144h1v1h-1zM1119 144h1v1h-1zM1120 143h1v1h-1zM1121 143h1v1h-1zM1122 143h1v1h-1zM1123 142h1v1h-1zM1124 142h1v1h-1zM1125 142h1v1h-1zM1126 142h1v1h-1zM1127 142h1v1h-1zM1128 142h1v1h-1zM1129 142h1v1h-1zM1130 142h1v1h-1zM1131 142h1v1h-1zM1132 142h1v1h-1zM1133 142h1v1h-1zM1134 142h1v1h-1zM1135 142h1v1h-1zM1136 142h1v1h-1zM1137 142h1v1h-1zM1138 142h1v1h-1zM1139 142h1v1h-1zM1140 142h1v1h-1zM1141 142h1v1h-1zM1142 142h1v1h-1zM1143 142h1v1h-1zM1144 142h1v1h-1zM1145 142h1v1h-1zM1146 142h1v1h-1zM1147 142h1v1h-1zM1148 142h1v1h-1zM1149 142h1v1h-1zM1150 142h1v1h-1zM1151 142h1v1h-1zM1152 142h1v1h-1zM1153 142h1v1h-1zM1154 142h1v1h-1zM1155 142h1v1h-1zM1156 141h1v1h-1zM1157 141h1v1h-1zM1158 141h1v1h-1zM1159 141h1v1h-1zM1160 140h1v1h-1zM1161 140h1v1h-1zM1162 140h1v1h-1zM1163 140h1v1h-1zM1164 139h1v1h-1zM1165 139h1v1h-1zM1166 138h1v1h-1zM1167 138h1v1h-1zM1168 137h1v1h-1zM1169 137h1v1h-1zM1170 137h1v1h-1zM1171 136h1v1h-1zM1172 136h1v1h-1zM1173 135h1v1h-1zM1174 135h1v1h-1zM1175 134h1v1h-1zM1176 134h1v1h-1zM1177 133h1v1h-1zM1178 132h1v1h-1zM1179 131h1v1h-1zM1180 131h1v1h-1zM1181 130h1v1h-1zM1182 129h1v1h-1zM1183 129h1v1h-1zM1184 128h1v1h-1zM1185 128h1v1h-1zM1186 127h1v1h-1zM1187 127h1v1h-1zM1188 126h1v1h-1zM1189 126h1v1h-1zM1190 126h1v1h-1zM1191 125h1v1h-1zM1192 125h1v1h-1zM1193 124h1v1h-1zM1194 124h1v1h-1zM1195 123h1v1h-1zM1196 123h1v1h-1zM1197 122h1v1h-1zM1198 122h1v1h-1zM1199 121h1v1h-1zM1200 120h1v1h-1zM1201 120h1v1h-1zM1202 119h1v1h-1zM1203 118h1v1h-1zM1204 118h1v1h-1zM1205 117h1v1h-1zM1206 116h1v1h-1zM1207 116h1v1h-1zM1208 115h1v1h-1zM1209 114h1v1h-1zM1210 114h1v1h-1zM1211 113h1v1h-1zM1212 112h1v1h-1zM1213 112h1v1h-1zM1214 111h1v1h-1zM1215 111h1v1h-1zM1216 110h1v1h-1zM1217 109h1v1h-1zM1218 109h1v1h-1zM1219 108h1v1h-1zM1220 108h1v1h-1zM1221 107h1v1h-1zM1222 107h1v1h-1zM1223 106h1v1h-1zM1224 105h1v1h-1zM1225 105h1v1h-1zM1226 104h1v1h-1zM1227 103h1v1h-1zM1228 103h1v1h-1zM1229 102h1v1h-1zM1230 102h1v1h-1zM1231 101h1v1h-1zM1232 101h1v1h-1zM1233 100h1v1h-1zM1234 100h1v1h-1zM1235 99h1v1h-1zM1236 99h1v1h-1zM1237 98h1v1h-1zM1238 98h1v1h-1zM1239 97h1v1h-1zM1240 97h1v1h-1zM1241 96h1v1h-1zM1242 96h1v1h-1zM1243 95h1v1h-1zM1244 95h1v1h-1zM1245 94h1v1h-1zM1246 94h1v1h-1zM1247 93h1v1h-1zM1248 93h1v1h-1zM1249 93h1v1h-1zM1250 92h1v1h-1zM1251 92h1v1h-1zM1252 91h1v1h-1zM1253 91h1v1h-1zM1254 91h1v1h-1zM1255 90h1v1h-1zM1256 90h1v1h-1zM1257 89h1v1h-1zM1258 89h1v1h-1zM1259 88h1v1h-1zM1260 88h1v1h-1zM1261 87h1v1h-1zM1262 87h1v1h-1zM1263 86h1v1h-1zM1264 86h1v1h-1zM1265 85h1v1h-1zM1266 84h1v1h-1zM1267 84h1v1h-1zM1268 83h1v1h-1zM1269 83h1v1h-1z" fill="#0000c8"/>
<path d="M5 173h1v1h-1zM6 173h1v1h-1zM7 174h1v1h-1zM8 174h1v1h-1zM9 175h1v1h-1zM10 175h1v1h-1zM11 176h1v1h-1zM12 176h1v1h-1zM13 177h1v1h-1zM14 177h1v1h-1zM15 177h1v1h-1zM16 177h1v1h-1zM17 177h1v1h-1zM18 177h1v1h-1zM19 177h1v1h-1zM20 177h1v1h-1zM21 177h1v1h-1zM22 177h1v1h-1zM23 177h1v1h-1zM24 177h1v1h-1zM25 178h1v1h-1zM26 178h1v1h-1zM27 178h1v1h-1zM28 178h1v1h-1zM29 178h1v1h-1zM30 178h1v1h-1zM31 178h1v1h-1zM32 178h1v1h-1zM33 178h1v1h-1zM34 179h1v1h-1zM35 179h1v1h-1zM36 179h1v1h-1zM37 179h1v1h-1zM38 179h1v1h-1zM39 179h1v1h-1zM40 179h1v1h-1zM41 179h1v1h-1zM42 179h1v1h-1zM43 179h1v1h-1zM44 179h1v1h-1zM45 180h1v1h-1zM46 180h1v1h-1zM47 180h1v1h-1zM48 180h1v1h-1zM49 180h1v1h-1zM50 180h1v1h-1zM51 180h1v1h-1zM52 180h1v1h-1zM53 180h1v1h-1zM54 180h1v1h-1zM55 181h1v1h-1zM56 181h1v1h-1zM57 181h1v1h-1zM58 181h1v1h-1zM59 181h1v1h-1zM60 182h1v1h-1zM61 182h1v1h-1zM62 182h1v1h-1zM63 183h1v1h-1zM64 183h1v1h-1zM65 184h1v1h-1zM66 184h1v1h-1zM67 184h1v1h-1zM68 184h1v1h-1zM69 184h1v1h-1zM70 184h1v1h-1zM71 183h1v1h-1zM72 183h1v1h-1zM73 183h1v1h-1zM74 183h1v1h-1zM75 183h1v1h-1zM76 183h1v1h-1zM77 183h1v1h-1zM78 183h1v1h-1zM79 182h1v1h-1zM80 182h1v1h-1zM81 181h1v1h-1zM82 181h1v1h-1zM83 181h1v1h-1zM84 180h1v1h-1zM85 180h1v1h-1zM86 180h1v1h-1zM87 179h1v1h-1zM88 178h1v1h-1zM89 178h1v1h-1zM90 177h1v1h-1zM91 176h1v1h-1zM92 176h1v1h-1zM93 175h1v1h-1zM94 175h1v1h-1zM95 174h1v1h-1zM96 174h1v1h-1zM97 173h1v1h-1zM98 173h1v1h-1zM99 172h1v1h-1zM100 172h1v1h-1zM101 171h1v1h-1zM102 171h1v1h-1zM103 170h1v1h-1zM104 170h1v1h-1zM105 169h1v1h-1zM106 168h1v1h-1zM107 167h1v1h-1zM108 167h1v1h-1zM109 166h1v1h-1zM110 165h1v1h-1zM111 164h1v1h-1zM112 164h1v1h-1zM113 163h1v1h-1zM114 162h1v1h-1zM115 162h1v1h-1zM116 161h1v1h-1zM117 161h1v1h-1zM118 160h1v1h-1zM119 160h1v1h-1zM120 159h1v1h-1zM121 159h1v1h-1zM122 159h1v1h-1zM123 158h1v1h-1zM124 158h1v1h-1zM125 158h1v1h-1zM126 158h1v1h-1zM127 158h1v1h-1zM128 158h1v1h-1zM129 158h1v1h-1zM130 158h1v1h-1zM131 158h1v1h-1zM132 158h1v1h-1zM133 158h1v1h-1zM134 159h1v1h-1zM135 159h1v1h-1zM136 159h1v1h-1zM137 160h1v1h-1zM138 160h1v1h-1zM139 161h1v1h-1zM140 161h1v1h-1zM141 162h1v1h-1zM142 162h1v1h-1zM143 163h1v1h-1zM144 163h1v1h-1zM145 164h1v1h-1zM146 164h1v1h-1zM147 165h1v1h-1zM148 165h1v1h-1zM149 166h1v1h-1zM150 166h1v1h-1zM151 167h1v1h-1zM152 167h1v1h-1zM153 168h1v1h-1zM154 168h1v1h-1zM155 169h1v1h-1zM156 170h1v1h-1zM157 170h1v1h-1zM158 171h1v1h-1zM159 171h1v1h-1zM160 172h1v1h-1zM161 173h1v1h-1zM162 174h1v1h-1zM163 175h1v1h-1zM164 176h1v1h-1zM165 177h1v1h-1zM166 178h1v1h-1zM167 178h1v1h-1zM168 179h1v1h-1zM169 179h1v1h-1zM170 180h1v1h-1zM171 180h1v1h-1zM172 181h1v1h-1zM173 181h1v1h-1zM174 182h1v1h-1zM175 183h1v1h-1zM176 183h1v1h-1zM177 184h1v1h-1zM178 184h1v1h-1zM179 184h1v1h-1zM180 184h1v1h-1zM181 184h1v1h-1zM182 184h1v1h-1zM183 184h1v1h-1zM184 184h1v1h-1zM185 185h1v1h-1zM186 185h1v1h-1zM187 185h1v1h-1zM188 185h1v1h-1zM189 185h1v1h-1zM190 185h1v1h-1zM191 186h1v1h-1zM192 186h1v1h-1zM193 186h1v1h-1zM194 186h1v1h-1zM195 186h1v1h-1zM196 186h1v1h-1zM197 186h1v1h-1zM198 186h1v1h-1zM199 186h1v1h-1zM200 186h1v1h-1zM201 185h1v1h-1zM202 185h1v1h-1zM203 185h1v1h-1zM204 185h1v1h-1zM205 185h1v1h-1zM206 185h1v1h-1zM207 185h1v1h-1zM208 185h1v1h-1zM209 185h1v1h-1zM210 185h1v1h-1zM211 185h1v1h-1zM212 185h1v1h-1zM213 185h1v1h-1zM214 185h1v1h-1zM215 185h1v1h-1zM216 185h1v1h-1zM217 185h1v1h-1zM218 185h1v1h-1zM219 185h1v1h-1zM220 185h1v1h-1zM221 184h1v1h-1zM222 182h1v2h-1zM223 181h1v1h-1zM224 180h1v1h-1zM225 179h1v1h-1zM226 179h1v1h-1zM227 178h1v1h-1zM228 178h1v1h-1zM229 177h1v1h-1zM230 177h1v1h-1zM231 176h1v1h-1zM232 176h1v1h-1zM233 175h1v1h-1zM234 175h1v1h-1zM235 174h1v1h-1zM236 174h1v1h-1zM237 174h1v1h-1zM238 173h1v1h-1zM239 173h1v1h-1zM240 172h1v1h-1zM241 172h1v1h-1zM242 172h1v1h-1zM243 171h1v1h-1zM244 171h1v1h-1zM245 170h1v1h-1zM246 170h1v1h-1zM247 169h1v1h-1zM248 169h1v1h-1zM249 168h1v1h-1zM250 168h1v1h-1zM251 168h1v1h-1zM252 167h1v1h-1zM253 167h1v1h-1zM254 167h1v1h-1zM255 167h1v1h-1zM256 166h1v1h-1zM257 166h1v1h-1zM258 165h1v1h-1zM259 165h1v1h-1zM260 165h1v1h-1zM261 164h1v1h-1zM262 164h1v1h-1zM263 163h1v1h-1zM264 163h1v1h-1zM265 163h1v1h-1zM266 162h1v1h-1zM267 162h1v1h-1zM268 161h1v1h-1zM269 161h1v1h-1zM270 160h1v1h-1zM271 160h1v1h-1zM272 159h1v1h-1zM273 158h1v1h-1zM274 157h1v1h-1zM275 157h1v1h-1zM276 156h1v1h-1zM277 156h1v1h-1zM278 156h1v1h-1zM279 155h1v1h-1zM280 155h1v1h-1zM281 155h1v1h-1zM282 154h1v1h-1zM283 154h1v1h-1zM284 154h1v1h-1zM285 154h1v1h-1zM286 154h1v1h-1zM287 154h1v1h-1zM288 153h1v1h-1zM289 153h1v1h-1zM290 153h1v1h-1zM291 153h1v1h-1zM292 153h1v1h-1zM293 153h1v1h-1zM294 153h1v1h-1zM295 153h1v1h-1zM296 153h1v1h-1zM297 152h1v1h-1zM298 152h1v1h-1zM299 152h1v1h-1zM300 152h1v1h-1zM301 152h1v1h-1zM302 152h1v1h-1zM303 152h1v1h-1zM304 151h1v1h-1zM305 151h1v1h-1zM306 151h1v1h-1zM307 151h1v1h-1zM308 151h1v1h-1zM309 151h1v1h-1zM310 151h1v1h-1zM311 151h1v1h-1zM312 151h1v1h-1zM313 151h1v1h-1zM314 151h1v1h-1zM315 151h1v1h-1zM316 152h1v1h-1zM317 152h1v1h-1zM318 153h1v1h-1zM319 153h1v1h-1zM320 153h1v1h-1zM321 153h1v1h-1zM322 154h1v1h-1zM323 154h1v1h-1zM324 155h1v1h-1zM325 155h1v1h-1zM326 156h1v1h-1zM327 156h1v1h-1zM328 157h1v1h-1zM329 157h1v1h-1zM330 158h1v1h-1zM331 158h1v1h-1zM332 158h1v1h-1zM333 159h1v1h-1zM334 159h1v1h-1zM335 160h1v1h-1zM336 160h1v1h-1zM337 161h1v1h-1zM338 161h1v1h-1zM339 162h1v1h-1zM340 162h1v1h-1zM341 163h1v1h-1zM342 163h1v1h-1zM343 164h1v1h-1zM344 164h1v1h-1zM345 165h1v1h-1zM346 165h1v1h-1zM347 166h1v1h-1zM348 166h1v1h-1zM349 167h1v1h-1zM350 167h1v1h-1zM351 168h1v1h-1zM352 168h1v1h-1zM353 169h1v1h-1zM354 169h1v1h-1zM355 169h1v1h-1zM356 169h1v1h-1zM357 169h1v1h-1zM358 169h1v1h-1zM359 169h1v1h-1zM360 170h1v1h-1zM361 170h1v1h-1zM362 171h1v1h-1zM363 171h1v1h-1zM364 172h1v1h-1zM365 172h1v1h-1zM366 173h1v1h-1zM367 173h1v1h-1zM368 174h1v1h-1zM369 174h1v1h-1zM370 174h1v1h-1zM371 174h1v1h-1zM372 174h1v1h-1zM373 174h1v1h-1zM374 174h1v1h-1zM375 174h1v1h-1zM376 174h1v1h-1zM377 174h1v1h-1zM378 174h1v1h-1zM379 174h1v1h-1zM380 173h1v1h-1zM381 173h1v1h-1zM382 173h1v1h-1zM383 173h1v1h-1zM384 173h1v1h-1zM385 173h1v1h-1zM386 173h1v1h-1zM387 173h1v1h-1zM388 173h1v1h-1zM389 173h1v1h-1zM390 173h1v1h-1zM391 173h1v1h-1zM392 173h1v1h-1zM393 173h1v1h-1zM394 173h1v1h-1zM395 173h1v1h-1zM396 173h1v1h-1zM397 172h1v1h-1zM398 172h1v1h-1zM399 172h1v1h-1zM400 172h1v1h-1zM401 171h1v1h-1zM402 171h1v1h-1zM403 171h1v1h-1zM404 170h1v1h-1zM405 170h1v1h-1zM406 170h1v1h-1zM407 169h1v1h-1zM408 169h1v1h-1zM409 169h1v1h-1zM410 168h1v1h-1zM411 168h1v1h-1zM412 168h1v1h-1zM413 167h1v1h-1zM414 166h1v1h-1zM415 166h1v1h-1zM416 165h1v1h-1zM417 165h1v1h-1zM418 164h1v1h-1zM419 164h1v1h-1zM420 163h1v1h-1zM421 162h1v1h-1zM422 162h1v1h-1zM423 161h1v1h-1zM424 161h1v1h-1zM425 160h1v1h-1zM426 160h1v1h-1zM427 159h1v1h-1zM428 159h1v1h-1zM429 158h1v1h-1zM430 158h1v1h-1zM431 158h1v1h-1zM432 158h1v1h-1zM433 157h1v1h-1zM434 157h1v1h-1zM435 157h1v1h-1zM436 157h1v1h-1zM437 157h1v1h-1zM438 156h1v1h-1zM439 156h1v1h-1zM440 156h1v1h-1zM441 156h1v1h-1zM442 156h1v1h-1zM443 155h1v1h-1zM444 155h1v1h-1zM445 154h1v1h-1zM446 154h1v1h-1zM447 153h1v1h-1zM448 153h1v1h-1zM449 152h1v1h-1zM450 152h1v1h-1zM451 152h1v1h-1zM452 151h1v1h-1zM453 151h1v1h-1zM454 150h1v1h-1zM455 150h1v1h-1zM456 149h1v1h-1zM457 149h1v1h-1zM458 148h1v1h-1zM459 148h1v1h-1zM460 147h1v1h-1zM461 147h1v1h-1zM462 146h1v1h-1zM463 146h1v1h-1zM464 145h1v1h-1zM465 145h1v1h-1zM466 144h1v1h-1zM467 143h1v1h-1zM468 143h1v1h-1zM469 142h1v1h-1zM470 142h1v1h-1zM471 141h1v1h-1zM472 141h1v1h-1zM473 140h1v1h-1zM474 139h1v1h-1zM475 139h1v1h-1zM476 138h1v1h-1zM477 137h1v1h-1zM478 137h1v1h-1zM479 136h1v1h-1zM480 135h1v1h-1zM481 135h1v1h-1zM482 134h1v1h-1zM483 133h1v1h-1zM484 133h1v1h-1zM485 132h1v1h-1zM486 131h1v1h-1zM487 131h1v1h-1zM488 130h1v1h-1zM489 130h1v1h-1zM490 129h1v1h-1zM491 129h1v1h-1zM492 129h1v1h-1zM493 128h1v1h-1zM494 128h1v1h-1zM495 128h1v1h-1zM496 128h1v1h-1zM497 128h1v1h-1zM498 128h1v1h-1zM499 128h1v1h-1zM500 128h1v1h-1zM501 129h1v1h-1zM502 129h1v1h-1zM503 129h1v1h-1zM504 129h1v1h-1zM505 130h1v1h-1zM506 130h1v1h-1zM507 131h1v1h-1zM508 131h1v1h-1zM509 132h1v1h-1zM510 132h1v1h-1zM511 132h1v1h-1zM512 132h1v1h-1zM513 132h1v1h-1zM514 132h1v1h-1zM515 132h1v1h-1zM516 132h1v1h-1zM517 132h1v1h-1zM518 132h1v1h-1zM519 132h1v1h-1zM520 133h1v1h-1zM521 133h1v1h-1zM522 134h1v1h-1zM523 134h1v1h-1zM524 135h1v1h-1zM525 135h1v1h-1zM526 136h1v1h-1zM527 136h1v1h-1zM528 137h1v1h-1zM529 137h1v1h-1zM530 138h1v1h-1zM531 138h1v1h-1zM532 139h1v1h-1zM533 139h1v1h-1zM534 140h1v1h-1zM535 140h1v1h-1zM536 141h1v1h-1zM537 142h1v1h-1zM538 142h1v1h-1zM539 143h1v1h-1zM540 143h1v1h-1zM541 144h1v1h-1zM542 144h1v1h-1zM543 145h1v1h-1zM544 145h1v1h-1zM545 146h1v1h-1zM546 146h1v1h-1zM547 147h1v1h-1zM548 147h1v1h-1zM549 148h1v1h-1zM550 148h1v1h-1zM551 148h1v1h-1zM552 149h1v1h-1zM553 149h1v1h-1zM554 150h1v1h-1zM555 150h1v1h-1zM556 151h1v1h-1zM557 151h1v1h-1zM558 151h1v1h-1zM559 151h1v1h-1zM560 151h1v1h-1zM561 151h1v1h-1zM562 151h1v1h-1zM563 151h1v1h-1zM564 151h1v1h-1zM565 152h1v1h-1zM566 153h1v1h-1zM567 153h1v1h-1zM568 154h1v1h-1zM569 155h1v1h-1zM570 156h1v1h-1zM571 156h1v1h-1zM572 157h1v1h-1zM573 158h1v1h-1zM574 158h1v1h-1zM575 159h1v1h-1zM576 159h1v1h-1zM577 160h1v1h-1zM578 161h1v1h-1zM579 161h1v1h-1zM580 162h1v1h-1zM581 163h1v2h-1zM582 165h1v1h-1zM583 166h1v1h-1zM584 167h1v2h-1zM585 169h1v1h-1zM586 169h1v1h-1zM587 170h1v1h-1zM588 171h1v1h-1zM589 172h1v1h-1zM590 173h1v1h-1zM591 174h1v1h-1zM592 175h1v1h-1zM593 175h1v1h-1zM594 176h1v1h-1zM595 177h1v1h-1zM596 178h1v1h-1zM597 178h1v1h-1zM598 178h1v1h-1zM599 179h1v1h-1zM600 179h1v1h-1zM601 180h1v1h-1zM602 180h1v1h-1zM603 181h1v1h-1zM604 181h1v1h-1zM605 182h1v1h-1zM606 183h1v1h-1zM607 183h1v1h-1zM608 184h1v1h-1zM609 185h1v1h-1zM610 186h1v1h-1zM611 187h1v1h-1zM612 188h1v1h-1zM613 189h1v1h-1zM614 190h1v1h-1zM615 191h1v1h-1zM616 192h1v1h-1zM617 192h1v1h-1zM618 193h1v1h-1zM619 193h1v1h-1zM620 194h1v1h-1zM621 194h1v1h-1zM622 195h1v1h-1zM623 195h1v1h-1zM624 195h1v1h-1zM625 195h1v1h-1zM626 195h1v1h-1zM627 195h1v1h-1zM628 195h1v1h-1zM629 195h1v1h-1zM630 195h1v1h-1zM631 195h1v1h-1zM632 195h1v1h-1zM633 196h1v1h-1zM634 196h1v1h-1zM635 196h1v1h-1zM636 196h1v1h-1zM637 196h1v1h-1zM638 196h1v1h-1zM639 196h1v1h-1zM640 196h1v1h-1zM641 195h1v1h-1zM642 195h1v1h-1zM643 195h1v1h-1zM644 195h1v1h-1zM645 195h1v1h-1zM646 196h1v1h-1zM647 196h1v1h-1zM648 196h1v1h-1zM649 196h1v1h-1zM650 196h1v1h-1zM651 197h1v1h-1zM652 197h1v1h-1zM653 198h1v1h-1zM654 198h1v1h-1zM655 199h1v1h-1zM656 199h1v1h-1zM657 200h1v1h-1zM658 200h1v1h-1zM659 201h1v1h-1zM660 201h1v1h-1zM661 202h1v1h-1zM662 202h1v1h-1zM663 202h1v1h-1zM664 202h1v1h-1zM665 203h1v1h-1zM666 203h1v1h-1zM667 203h1v1h-1zM668 203h1v1h-1zM669 204h1v1h-1zM670 204h1v1h-1zM671 205h1v1h-1zM672 205h1v1h-1zM673 206h1v1h-1zM674 207h1v1h-1zM675 208h1v1h-1zM676 209h1v1h-1zM677 210h1v1h-1zM678 211h1v1h-1zM679 212h1v1h-1zM680 213h1v1h-1zM681 214h1v1h-1zM682 215h1v1h-1zM683 216h1v1h-1zM684 217h1v1h-1zM685 218h1v1h-1zM686 219h1v1h-1zM687 220h1v1h-1zM688 221h1v1h-1zM689 222h1v1h-1zM690 223h1v1h-1zM691 223h1v1h-1zM692 224h1v1h-1zM693 224h1v1h-1zM694 225h1v1h-1zM695 225h1v1h-1zM696 226h1v1h-1zM697 226h1v1h-1zM698 227h1v1h-1zM699 227h1v1h-1zM700 228h1v1h-1zM701 228h1v1h-1zM702 228h1v1h-1zM703 229h1v1h-1zM704 229h1v1h-1zM705 229h1v1h-1zM706 230h1v1h-1zM707 229h1v1h-1zM708 229h1v1h-1zM709 229h1v1h-1zM710 229h1v1h-1zM711 229h1v1h-1zM712 229h1v1h-1zM713 228h1v1h-1zM714 228h1v1h-1zM715 229h1v1h-1zM716 230h1v1h-1zM717 231h1v1h-1zM718 232h1v1h-1zM719 232h1v1h-1zM720 233h1v1h-1zM721 233h1v1h-1zM722 234h1v1h-1zM723 235h1v2h-1zM724 237h1v1h-1zM725 238h1v2h-1zM726 240h1v2h-1zM727 242h1v2h-1zM728 244h1v2h-1zM729 246h1v2h-1zM730 248h1v3h-1zM731 251h1v2h-1zM732 253h1v2h-1zM733 255h1v2h-1zM734 257h1v1h-1zM735 258h1v2h-1zM736 260h1v2h-1zM737 262h1v2h-1zM738 264h1v2h-1zM739 266h1v3h-1zM740 269h1v3h-1zM741 272h1v2h-1zM742 274h1v3h-1zM743 277h1v4h-1zM744 281h1v3h-1zM745 284h1v3h-1zM746 287h1v4h-1zM747 291h1v3h-1zM748 294h1v4h-1zM749 298h1v4h-1zM750 302h1v4h-1zM751 306h1v4h-1zM752 310h1v4h-1zM753 314h1v4h-1zM754 318h1v3h-1zM755 321h1v4h-1zM756 325h1v3h-1zM757 328h1v4h-1zM758 332h1v4h-1zM759 336h1v4h-1zM760 340h1v4h-1zM761 344h1v4h-1zM762 348h1v3h-1zM763 351h1v3h-1zM764 354h1v4h-1zM765 358h1v3h-1zM766 361h1v3h-1zM767 364h1v4h-1zM768 368h1v3h-1zM769 371h1v3h-1zM770 374h1v3h-1zM771 377h1v3h-1zM772 380h1v3h-1zM773 383h1v2h-1zM774 385h1v2h-1zM775 387h1v2h-1zM776 389h1v2h-1zM777 391h1v1h-1zM778 391h1v1h-1zM779 391h1v1h-1zM780 392h1v1h-1zM781 392h1v1h-1zM782 393h1v1h-1zM783 393h1v1h-1zM784 393h1v1h-1zM785 393h1v1h-1zM786 393h1v1h-1zM787 393h1v1h-1zM788 393h1v1h-1zM789 393h1v1h-1zM790 393h1v1h-1zM791 393h1v1h-1zM792 394h1v1h-1zM793 394h1v1h-1zM794 394h1v1h-1zM795 393h1v1h-1zM796 393h1v1h-1zM797 392h1v1h-1zM798 392h1v1h-1zM799 391h1v1h-1zM800 390h1v1h-1zM801 389h1v1h-1zM802 389h1v1h-1zM803 388h1v1h-1zM804 387h1v1h-1zM805 386h1v1h-1zM806 385h1v1h-1zM807 384h1v1h-1zM808 384h1v1h-1zM809 382h1v2h-1zM810 380h1v2h-1zM811 378h1v2h-1zM812 377h1v1h-1zM813 375h1v2h-1zM814 373h1v2h-1zM815 371h1v2h-1zM816 369h1v2h-1zM817 367h1v2h-1zM818 365h1v2h-1zM819 363h1v2h-1zM820 361h1v2h-1zM821 359h1v2h-1zM822 357h1v2h-1zM823 355h1v2h-1zM824 353h1v2h-1zM825 352h1v1h-1zM826 350h1v2h-1zM827 349h1v1h-1zM828 347h1v2h-1zM829 346h1v1h-1zM830 344h1v2h-1zM831 343h1v1h-1zM832 341h1v2h-1zM833 340h1v1h-1zM834 339h1v1h-1zM835 338h1v1h-1zM836 337h1v1h-1zM837 336h1v1h-1zM838 335h1v1h-1zM839 334h1v1h-1zM840 333h1v1h-1zM841 332h1v1h-1zM842 331h1v1h-1zM843 330h1v1h-1zM844 330h1v1h-1zM845 329h1v1h-1zM846 328h1v1h-1zM847 326h1v2h-1zM848 325h1v1h-1zM849 324h1v1h-1zM850 323h1v1h-1zM851 321h1v2h-1zM852 319h1v2h-1zM853 317h1v2h-1zM854 315h1v2h-1zM855 313h1v2h-1zM856 312h1v1h-1zM857 310h1v2h-1zM858 309h1v1h-1zM859 307h1v2h-1zM860 306h1v1h-1zM861 305h1v1h-1zM862 304h1v1h-1zM863 302h1v2h-1zM864 301h1v1h-1zM865 300h1v1h-1zM866 299h1v1h-1zM867 298h1v1h-1zM868 297h1v1h-1zM869 296h1v1h-1zM870 295h1v1h-1zM871 295h1v1h-1zM872 294h1v1h-1zM873 293h1v1h-1zM874 293h1v1h-1zM875 292h1v1h-1zM876 292h1v1h-1zM877 292h1v1h-1zM878 292h1v1h-1zM879 291h1v1h-1zM880 290h1v1h-1zM881 289h1v1h-1zM882 289h1v1h-1zM883 288h1v1h-1zM884 287h1v1h-1zM885 287h1v1h-1zM886 286h1v1h-1zM887 285h1v1h-1zM888 285h1v1h-1zM889 284h1v1h-1zM890 283h1v1h-1zM891 283h1v1h-1zM892 282h1v1h-1zM893 282h1v1h-1zM894 281h1v1h-1zM895 281h1v1h-1zM896 280h1v1h-1zM897 280h1v1h-1zM898 279h1v1h-1zM899 279h1v1h-1zM900 279h1v1h-1zM901 278h1v1h-1zM902 278h1v1h-1zM903 277h1v1h-1zM904 277h1v1h-1zM905 276h1v1h-1zM906 276h1v1h-1zM907 275h1v1h-1zM908 275h1v1h-1zM909 275h1v1h-1zM910 274h1v1h-1zM911 274h1v1h-1zM912 274h1v1h-1zM913 274h1v1h-1zM914 273h1v1h-1zM915 272h1v1h-1zM916 271h1v1h-1zM917 270h1v1h-1zM918 269h1v1h-1zM919 268h1v1h-1zM920 267h1v1h-1zM921 266h1v1h-1zM922 265h1v1h-1zM923 264h1v1h-1zM924 264h1v1h-1zM925 263h1v1h-1zM926 263h1v1h-1zM927 262h1v1h-1zM928 262h1v1h-1zM929 261h1v1h-1zM930 261h1v1h-1zM931 260h1v1h-1zM932 260h1v1h-1zM933 260h1v1h-1zM934 260h1v1h-1zM935 260h1v1h-1zM936 260h1v1h-1zM937 260h1v1h-1zM938 260h1v1h-1zM939 260h1v1h-1zM940 260h1v1h-1zM941 260h1v1h-1zM942 261h1v1h-1zM943 261h1v1h-1zM944 262h1v1h-1zM945 263h1v1h-1zM946 263h1v1h-1zM947 263h1v1h-1zM948 264h1v1h-1zM949 264h1v1h-1zM950 265h1v1h-1zM951 264h1v1h-1zM952 264h1v1h-1zM953 263h1v1h-1zM954 263h1v1h-1zM955 262h1v1h-1zM956 261h1v1h-1zM957 260h1v1h-1zM958 259h1v1h-1zM959 258h1v1h-1zM960 257h1v1h-1zM961 256h1v1h-1zM962 256h1v1h-1zM963 255h1v1h-1zM964 255h1v1h-1zM965 254h1v1h-1zM966 254h1v1h-1zM967 253h1v1h-1zM968 253h1v1h-1zM969 252h1v1h-1zM970 252h1v1h-1zM971 251h1v1h-1zM972 251h1v1h-1zM973 251h1v1h-1zM974 251h1v1h-1zM975 251h1v1h-1zM976 251h1v1h-1zM977 251h1v1h-1zM978 251h1v1h-1zM979 250h1v1h-1zM980 250h1v1h-1zM981 249h1v1h-1zM982 249h1v1h-1zM983 248h1v1h-1zM984 248h1v1h-1zM985 248h1v1h-1zM986 247h1v1h-1zM987 246h1v1h-1zM988 245h1v1h-1zM989 244h1v1h-1zM990 243h1v1h-1zM991 242h1v1h-1zM992 242h1v1h-1zM993 241h1v1h-1zM994 240h1v1h-1zM995 239h1v1h-1zM996 238h1v1h-1zM997 237h1v1h-1zM998 236h1v1h-1zM999 234h1v2h-1zM1000 232h1v2h-1zM1001 230h1v2h-1zM1002 228h1v2h-1zM1003 225h1v3h-1zM1004 223h1v2h-1zM1005 220h1v3h-1zM1006 218h1v2h-1zM1007 216h1v2h-1zM1008 214h1v2h-1zM1009 212h1v2h-1zM1010 211h1v1h-1zM1011 209h1v2h-1zM1012 207h1v2h-1zM1013 205h1v2h-1zM1014 204h1v1h-1zM1015 202h1v2h-1zM1016 200h1v2h-1zM1017 198h1v2h-1zM1018 196h1v2h-1zM1019 194h1v2h-1zM1020 192h1v2h-1zM1021 190h1v2h-1zM1022 188h1v2h-1zM1023 186h1v2h-1zM1024 184h1v2h-1zM1025 182h1v2h-1zM1026 179h1v3h-1zM1027 177h1v2h-1zM1028 175h1v2h-1zM1029 173h1v2h-1zM1030 170h1v3h-1zM1031 168h1v2h-1zM1032 166h1v2h-1zM1033 164h1v2h-1zM1034 162h1v2h-1zM1035 161h1v1h-1zM1036 160h1v1h-1zM1037 158h1v2h-1zM1038 157h1v1h-1zM1039 156h1v1h-1zM1040 155h1v1h-1zM1041 154h1v1h-1zM1042 153h1v1h-1zM1043 152h1v1h-1zM1044 151h1v1h-1zM1045 150h1v1h-1zM1046 149h1v1h-1zM1047 148h1v1h-1zM1048 147h1v1h-1zM1049 146h1v1h-1zM1050 145h1v1h-1zM1051 144h1v1h-1zM1052 143h1v1h-1zM1053 142h1v1h-1zM1054 141h1v1h-1zM1055 140h1v1h-1zM1056 139h1v1h-1zM1057 139h1v1h-1zM1058 139h1v1h-1zM1059 139h1v1h-1zM1060 139h1v1h-1zM1061 140h1v1h-1zM1062 140h1v1h-1zM1063 141h1v1h-1zM1064 141h1v1h-1zM1065 142h1v1h-1zM1066 142h1v1h-1zM1067 142h1v1h-1zM1068 142h1v1h-1zM1069 142h1v1h-1zM1070 142h1v1h-1zM1071 142h1v1h-1zM1072 142h1v1h-1zM1073 142h1v1h-1zM1074 142h1v1h-1zM1075 142h1v1h-1zM1076 143h1v1h-1zM1077 144h1v1h-1zM1078 145h1v1h-1zM1079 146h1v1h-1zM1080 146h1v1h-1zM1081 147h1v1h-1zM1082 147h1v1h-1zM1083 148h1v1h-1zM1084 148h1v1h-1zM1085 149h1v1h-1zM1086 149h1v1h-1zM1087 150h1v1h-1zM1088 151h1v1h-1zM1089 151h1v1h-1zM1090 152h1v1h-1zM1091 152h1v1h-1zM1092 152h1v1h-1zM1093 152h1v1h-1zM1094 152h1v1h-1zM1095 152h1v1h-1zM1096 152h1v1h-1zM1097 152h1v1h-1zM1098 152h1v1h-1zM1099 152h1v1h-1zM1100 152h1v1h-1zM1101 152h1v1h-1zM1102 152h1v1h-1zM1103 151h1v1h-1zM1104 151h1v1h-1zM1105 151h1v1h-1zM1106 151h1v1h-1zM1107 150h1v1h-1zM1108 150h1v1h-1zM1109 149h1v1h-1zM1110 149h1v1h-1zM1111 148h1v1h-1zM1112 148h1v1h-1zM1113 147h1v1h-1zM1114 147h1v1h-1zM1115 147h1v1h-1zM1116 146h1v1h-1zM1117 146h1v1h-1zM1118 146h1v1h-1zM1119 145h1v1h-1zM1120 145h1v1h-1zM1121 145h1v1h-1zM1122 144h1v1h-1zM1123 144h1v1h-1zM1124 143h1v1h-1zM1125 143h1v1h-1zM1126 142h1v1h-1zM1127 142h1v1h-1zM1128 141h1v1h-1zM1129 141h1v1h-1zM1130 141h1v1h-1zM1131 141h1v1h-1zM1132 140h1v1h-1zM1133 140h1v1h-1zM1134 140h1v1h-1zM1135 140h1v1h-1zM1136 139h1v1h-1zM1137 139h1v1h-1zM1138 139h1v1h-1zM1139 138h1v1h-1zM1140 138h1v1h-1zM1141 138h1v1h-1zM1142 137h1v1h-1zM1143 137h1v1h-1zM1144 136h1v1h-1zM1145 136h1v1h-1zM1146 135h1v1h-1zM1147 135h1v1h-1zM1148 134h1v1h-1zM1149 133h1v1h-1zM1150 133h1v1h-1zM1151 132h1v1h-1zM1152 131h1v1h-1zM1153 131h1v1h-1zM1154 130h1v1h-1zM1155 130h1v1h-1zM1156 129h1v1h-1zM1157 129h1v1h-1zM1158 128h1v1h-1zM1159 128h1v1h-1zM1160 127h1v1h-1zM1161 127h1v1h-1zM1162 126h1v1h-1zM1163 126h1v1h-1zM1164 125h1v1h-1zM1165 125h1v1h-1zM1166 125h1v1h-1zM1167 124h1v1h-1zM1168 124h1v1h-1zM1169 124h1v1h-1zM1170 124h1v1h-1zM1171 123h1v1h-1zM1172 122h1v1h-1zM1173 121h1v1h-1zM1174 120h1v1h-1zM1175 119h1v1h-1zM1176 119h1v1h-1zM1177 118h1v1h-1zM1178 117h1v1h-1zM1179 116h1v1h-1zM1180 115h1v1h-1zM1181 114h1v1h-1zM1182 114h1v1h-1zM1183 113h1v1h-1zM1184 112h1v1h-1zM1185 112h1v1h-1zM1186 111h1v1h-1zM1187 110h1v1h-1zM1188 110h1v1h-1zM1189 109h1v1h-1zM1190 108h1v1h-1zM1191 108h1v1h-1zM1192 107h1v1h-1zM1193 107h1v1h-1zM1194 106h1v1h-1zM1195 105h1v1h-1zM1196 104h1v1h-1zM1197 103h1v1h-1zM1198 102h1v1h-1zM1199 101h1v1h-1zM1200 100h1v1h-1zM1201 99h1v1h-1zM1202 98h1v1h-1zM1203 97h1v1h-1zM1204 96h1v1h-1zM1205 96h1v1h-1zM1206 95h1v1h-1zM1207 94h1v1h-1zM1208 93h1v1h-1zM1209 92h1v1h-1zM1210 91h1v1h-1zM1211 91h1v1h-1zM1212 90h1v1h-1zM1213 90h1v1h-1zM1214 89h1v1h-1zM1215 89h1v1h-1zM1216 88h1v1h-1zM1217 87h1v1h-1zM1218 87h1v1h-1zM1219 86h1v1h-1zM1220 85h1v1h-1zM1221 84h1v1h-1zM1222 83h1v1h-1zM1223 83h1v1h-1zM1224 82h1v1h-1zM1225 81h1v1h-1zM1226 80h1v1h-1zM1227 80h1v1h-1zM1228 79h1v1h-1zM1229 78h1v1h-1zM1230 78h1v1h-1zM1231 78h1v1h-1zM1232 78h1v1h-1zM1233 78h1v1h-1zM1234 78h1v1h-1zM1235 78h1v1h-1zM1236 78h1v1h-1zM1237 77h1v1h-1zM1238 77h1v1h-1zM1239 76h1v1h-1zM1240 76h1v1h-1zM1241 75h1v1h-1zM1242 75h1v1h-1zM1243 75h1v1h-1zM1244 75h1v1h-1zM1245 75h1v1h-1zM1246 75h1v1h-1zM1247 75h1v1h-1zM1248 75h1v1h-1zM1249 75h1v1h-1zM1250 75h1v1h-1zM1251 74h1v1h-1zM1252 74h1v1h-1zM1253 74h1v1h-1zM1254 74h1v1h-1zM1255 74h1v1h-1zM1256 74h1v1h-1zM1257 74h1v1h-1zM1258 74h1v1h-1zM1259 74h1v1h-1zM1260 73h1v1h-1zM1261 73h1v1h-1zM1262 73h1v1h-1zM1263 73h1v1h-1zM1264 72h1v1h-1zM1265 72h1v1h-1zM1266 72h1v1h-1zM1267 71h1v1h-1zM1268 71h1v1h-1zM1269 71h1v1h-1z" fill="#ff0000"/>
<path d="M5 179h1v1h-1zM6 179h1v1h-1zM7 179h1v1h-1zM8 179h1v1h-1zM9 179h1v1h-1zM10 179h1v1h-1zM11 178h1v1h-1zM12 178h1v1h-1zM13 178h1v1h-1zM14 178h1v1h-1zM15 178h1v1h-1zM16 178h1v1h-1zM17 178h1v1h-1zM18 178h1v1h-1zM19 178h1v1h-1zM20 178h1v1h-1zM21 178h1v1h-1zM22 178h1v1h-1zM23 178h1v1h-1zM24 178h1v1h-1zM25 178h1v1h-1zM26 178h1v1h-1zM27 178h1v1h-1zM28 178h1v1h-1zM29 178h1v1h-1zM30 178h1v1h-1zM31 178h1v1h-1zM32 179h1v1h-1zM33 179h1v1h-1zM34 180h1v1h-1zM35 180h1v1h-1zM36 181h1v1h-1zM37 181h1v1h-1zM38 181h1v1h-1zM39 181h1v1h-1zM40 181h1v1h-1zM41 181h1v1h-1zM42 181h1v1h-1zM43 181h1v1h-1zM44 182h1v1h-1zM45 182h1v1h-1zM46 182h1v1h-1zM47 182h1v1h-1zM48 183h1v1h-1zM49 183h1v1h-1zM50 183h1v1h-1zM51 183h1v1h-1zM52 184h1v1h-1zM53 184h1v1h-1zM54 185h1v1h-1zM55 185h1v1h-1zM56 186h1v1h-1zM57 186h1v1h-1zM58 187h1v1h-1zM59 187h1v1h-1zM60 188h1v1h-1zM61 188h1v1h-1zM62 188h1v1h-1zM63 189h1v1h-1zM64 189h1v1h-1zM65 190h1v1h-1zM66 190h1v1h-1zM67 190h1v1h-1zM68 190h1v1h-1zM69 190h1v1h-1zM70 190h1v1h-1zM71 189h1v1h-1zM72 188h1v1h-1zM73 187h1v1h-1zM74 186h1v1h-1zM75 185h1v1h-1zM76 183h1v2h-1zM77 182h1v1h-1zM78 181h1v1h-1zM79 179h1v2h-1zM80 178h1v1h-1zM81 176h1v2h-1zM82 174h1v2h-1zM83 172h1v2h-1zM84 170h1v2h-1zM85 168h1v2h-1zM86 166h1v2h-1zM87 165h1v1h-1zM88 164h1v1h-1zM89 162h1v2h-1zM90 161h1v1h-1zM91 160h1v1h-1zM92 159h1v1h-1zM93 158h1v1h-1zM94 157h1v1h-1zM95 156h1v1h-1zM96 156h1v1h-1zM97 155h1v1h-1zM98 155h1v1h-1zM99 154h1v1h-1zM100 154h1v1h-1zM101 154h1v1h-1zM102 153h1v1h-1zM103 153h1v1h-1zM104 152h1v1h-1zM105 152h1v1h-1zM106 152h1v1h-1zM107 152h1v1h-1zM108 152h1v1h-1zM109 152h1v1h-1zM110 152h1v1h-1zM111 152h1v1h-1zM112 152h1v1h-1zM113 152h1v1h-1zM114 152h1v1h-1zM115 152h1v1h-1zM116 152h1v1h-1zM117 152h1v1h-1zM118 152h1v1h-1zM119 152h1v1h-1zM120 152h1v1h-1zM121 153h1v1h-1zM122 153h1v1h-1zM123 154h1v2h-1zM124 156h1v2h-1zM125 158h1v2h-1zM126 160h1v1h-1zM127 161h1v1h-1zM128 162h1v2h-1zM129 164h1v1h-1zM130 165h1v1h-1zM131 166h1v2h-1zM132 168h1v1h-1zM133 169h1v1h-1zM134 170h1v1h-1zM135 171h1v2h-1zM136 173h1v1h-1zM137 174h1v1h-1zM138 175h1v2h-1zM139 177h1v1h-1zM140 178h1v1h-1zM141 178h1v1h-1zM142 178h1v1h-1zM143 179h1v1h-1zM144 179h1v1h-1zM145 180h1v1h-1zM146 180h1v1h-1zM147 180h1v1h-1zM148 180h1v1h-1zM149 181h1v1h-1zM150 181h1v1h-1zM151 181h1v1h-1zM152 181h1v1h-1zM153 181h1v1h-1zM154 182h1v1h-1zM155 182h1v1h-1zM156 182h1v1h-1zM157 182h1v1h-1zM158 183h1v1h-1zM159 183h1v1h-1zM160 183h1v1h-1zM161 184h1v1h-1zM162 184h1v1h-1zM163 185h1v1h-1zM164 186h1v1h-1zM165 187h1v1h-1zM166 187h1v1h-1zM167 188h1v1h-1zM168 189h1v1h-1zM169 189h1v1h-1zM170 190h1v1h-1zM171 190h1v1h-1zM172 190h1v1h-1zM173 190h1v1h-1zM174 190h1v1h-1zM175 190h1v1h-1zM176 190h1v1h-1zM177 190h1v1h-1zM178 190h1v1h-1zM179 190h1v1h-1zM180 189h1v1h-1zM181 189h1v1h-1zM182 188h1v1h-1zM183 188h1v1h-1zM184 187h1v1h-1zM185 187h1v1h-1zM186 187h1v1h-1zM187 186h1v1h-1zM188 186h1v1h-1zM189 185h1v1h-1zM190 185h1v1h-1zM191 185h1v1h-1zM192 185h1v1h-1zM193 185h1v1h-1zM194 186h1v1h-1zM195 186h1v1h-1zM196 186h1v1h-1zM197 186h1v1h-1zM198 185h1v1h-1zM199 185h1v1h-1zM200 184h1v1h-1zM201 184h1v1h-1zM202 183h1v1h-1zM203 183h1v1h-1zM204 182h1v1h-1zM205 181h1v1h-1zM206 181h1v1h-1zM207 180h1v1h-1zM208 180h1v1h-1zM209 179h1v1h-1zM210 179h1v1h-1zM211 178h1v1h-1zM212 178h1v1h-1zM213 177h1v1h-1zM214 177h1v1h-1zM215 177h1v1h-1zM216 178h1v1h-1zM217 178h1v1h-1zM218 178h1v1h-1zM219 178h1v1h-1zM220 177h1v1h-1zM221 177h1v1h-1zM222 176h1v1h-1zM223 176h1v1h-1zM224 175h1v1h-1zM225 174h1v1h-1zM226 173h1v1h-1zM227 172h1v1h-1zM228 171h1v1h-1zM229 170h1v1h-1zM230 169h1v1h-1zM231 168h1v1h-1zM232 166h1v2h-1zM233 165h1v1h-1zM234 164h1v1h-1zM235 162h1v2h-1zM236 161h1v1h-1zM237 160h1v1h-1zM238 159h1v1h-1zM239 158h1v1h-1zM240 157h1v1h-1zM241 157h1v1h-1zM242 157h1v1h-1zM243 157h1v1h-1zM244 157h1v1h-1zM245 158h1v1h-1zM246 158h1v1h-1zM247 159h1v1h-1zM248 159h1v1h-1zM249 160h1v1h-1zM250 160h1v1h-1zM251 161h1v1h-1zM252 161h1v1h-1zM253 162h1v1h-1zM254 162h1v1h-1zM255 163h1v1h-1zM256 164h1v1h-1zM257 163h1v1h-1zM258 163h1v1h-1zM259 163h1v1h-1zM260 163h1v1h-1zM261 163h1v1h-1zM262 162h1v1h-1zM263 161h1v1h-1zM264 161h1v1h-1zM265 160h1v1h-1zM266 160h1v1h-1zM267 159h1v1h-1zM268 158h1v1h-1zM269 157h1v1h-1zM270 156h1v1h-1zM271 155h1v1h-1zM272 155h1v1h-1zM273 154h1v1h-1zM274 153h1v1h-1zM275 151h1v2h-1zM276 150h1v1h-1zM277 149h1v1h-1zM278 148h1v1h-1zM279 147h1v1h-1zM280 147h1v1h-1zM281 146h1v1h-1zM282 146h1v1h-1zM283 145h1v1h-1zM284 145h1v1h-1zM285 145h1v1h-1zM286 145h1v1h-1zM287 145h1v1h-1zM288 145h1v1h-1zM289 145h1v1h-1zM290 145h1v1h-1zM291 145h1v1h-1zM292 145h1v1h-1zM293 146h1v1h-1zM294 146h1v1h-1zM295 146h1v1h-1zM296 147h1v1h-1zM297 147h1v1h-1zM298 148h1v1h-1zM299 149h1v1h-1zM300 150h1v1h-1zM301 150h1v1h-1zM302 151h1v1h-1zM303 152h1v1h-1zM304 152h1v1h-1zM305 153h1v1h-1zM306 153h1v1h-1zM307 154h1v1h-1zM308 155h1v1h-1zM309 155h1v1h-1zM310 156h1v1h-1zM311 157h1v1h-1zM312 158h1v1h-1zM313 159h1v1h-1zM314 160h1v1h-1zM315 161h1v1h-1zM316 162h1v1h-1zM317 163h1v1h-1zM318 164h1v1h-1zM319 164h1v1h-1zM320 165h1v1h-1zM321 166h1v1h-1zM322 166h1v1h-1zM323 167h1v1h-1zM324 168h1v1h-1zM325 168h1v1h-1zM326 168h1v1h-1zM327 168h1v1h-1zM328 168h1v1h-1zM329 168h1v1h-1zM330 169h1v1h-1zM331 168h1v1h-1zM332 168h1v1h-1zM333 168h1v1h-1zM334 168h1v1h-1zM335 168h1v1h-1zM336 168h1v1h-1zM337 168h1v1h-1zM338 168h1v1h-1zM339 168h1v1h-1zM340 168h1v1h-1zM341 169h1v1h-1zM342 169h1v1h-1zM343 169h1v1h-1zM344 169h1v1h-1zM345 170h1v1h-1zM346 170h1v1h-1zM347 171h1v1h-1zM348 171h1v1h-1zM349 172h1v1h-1zM350 173h1v1h-1zM351 173h1v1h-1zM352 174h1v1h-1zM353 175h1v1h-1zM354 176h1v1h-1zM355 176h1v1h-1zM356 176h1v1h-1zM357 176h1v1h-1zM358 176h1v1h-1zM359 176h1v1h-1zM360 176h1v1h-1zM361 176h1v1h-1zM362 177h1v1h-1zM363 177h1v1h-1zM364 177h1v1h-1zM365 178h1v1h-1zM366 178h1v1h-1zM367 178h1v1h-1zM368 179h1v1h-1zM369 179h1v1h-1zM370 179h1v1h-1zM371 179h1v1h-1zM372 179h1v1h-1zM373 179h1v1h-1zM374 179h1v1h-1zM375 179h1v1h-1zM376 179h1v1h-1zM377 178h1v1h-1zM378 178h1v1h-1zM379 177h1v1h-1zM380 176h1v1h-1zM381 175h1v1h-1zM382 175h1v1h-1zM383 174h1v1h-1zM384 172h1v2h-1zM385 171h1v1h-1zM386 170h1v1h-1zM387 169h1v1h-1zM388 168h1v1h-1zM389 167h1v1h-1zM390 167h1v1h-1zM391 166h1v1h-1zM392 165h1v1h-1zM393 164h1v1h-1zM394 163h1v1h-1zM395 163h1v1h-1zM396 163h1v1h-1zM397 162h1v1h-1zM398 162h1v1h-1zM399 162h1v1h-1zM400 162h1v1h-1zM401 162h1v1h-1zM402 162h1v1h-1zM403 163h1v1h-1zM404 163h1v1h-1zM405 164h1v1h-1zM406 165h1v1h-1zM407 164h1v1h-1zM408 164h1v1h-1zM409 163h1v1h-1zM410 163h1v1h-1zM411 162h1v1h-1zM412 161h1v1h-1zM413 161h1v1h-1zM414 160h1v1h-1zM415 159h1v1h-1zM416 159h1v1h-1zM417 158h1v1h-1zM418 157h1v1h-1zM419 157h1v1h-1zM420 156h1v1h-1zM421 155h1v1h-1zM422 155h1v1h-1zM423 154h1v1h-1zM424 153h1v1h-1zM425 152h1v1h-1zM426 151h1v1h-1zM427 151h1v1h-1zM428 151h1v1h-1zM429 151h1v1h-1zM430 151h1v1h-1zM431 151h1v1h-1zM432 152h1v1h-1zM433 152h1v1h-1zM434 153h1v1h-1zM435 152h1v1h-1zM436 152h1v1h-1zM437 151h1v1h-1zM438 151h1v1h-1zM439 151h1v1h-1zM440 151h1v1h-1zM441 151h1v1h-1zM442 151h1v1h-1zM443 151h1v1h-1zM444 151h1v1h-1zM445 151h1v1h-1zM446 150h1v1h-1zM447 149h1v1h-1zM448 148h1v1h-1zM449 148h1v1h-1zM450 147h1v1h-1zM451 146h1v1h-1zM452 144h1v2h-1zM453 143h1v1h-1zM454 142h1v1h-1zM455 142h1v1h-1zM456 141h1v1h-1zM457 141h1v1h-1zM458 140h1v1h-1zM459 140h1v1h-1zM460 140h1v1h-1zM461 139h1v1h-1zM462 138h1v1h-1zM463 137h1v1h-1zM464 137h1v1h-1zM465 136h1v1h-1zM466 135h1v1h-1zM467 134h1v1h-1zM468 133h1v1h-1zM469 132h1v1h-1zM470 131h1v1h-1zM471 130h1v1h-1zM472 129h1v1h-1zM473 128h1v1h-1zM474 127h1v1h-1zM475 126h1v1h-1zM476 125h1v1h-1zM477 124h1v1h-1zM478 122h1v2h-1zM479 121h1v1h-1zM480 120h1v1h-1zM481 119h1v1h-1zM482 119h1v1h-1zM483 118h1v1h-1zM484 118h1v1h-1zM485 118h1v1h-1zM486 118h1v1h-1zM487 118h1v1h-1zM488 118h1v1h-1zM489 118h1v1h-1zM490 118h1v1h-1zM491 118h1v1h-1zM492 119h1v1h-1zM493 120h1v1h-1zM494 121h1v1h-1zM495 122h1v1h-1zM496 123h1v2h-1zM497 125h1v1h-1zM498 126h1v1h-1zM499 127h1v2h-1zM500 129h1v2h-1zM501 131h1v2h-1zM502 133h1v2h-1zM503 135h1v3h-1zM504 138h1v2h-1zM505 140h1v2h-1zM506 142h1v1h-1zM507 143h1v1h-1zM508 144h1v2h-1zM509 146h1v1h-1zM510 147h1v1h-1zM511 147h1v1h-1zM512 148h1v1h-1zM513 148h1v1h-1zM514 149h1v1h-1zM515 150h1v1h-1zM516 150h1v1h-1zM517 151h1v1h-1zM518 151h1v1h-1zM519 150h1v1h-1zM520 150h1v1h-1zM521 149h1v1h-1zM522 149h1v1h-1zM523 149h1v1h-1zM524 148h1v1h-1zM525 147h1v1h-1zM526 146h1v1h-1zM527 146h1v1h-1zM528 145h1v1h-1zM529 145h1v1h-1zM530 145h1v1h-1zM531 145h1v1h-1zM532 145h1v1h-1zM533 145h1v1h-1zM534 145h1v1h-1zM535 145h1v1h-1zM536 145h1v1h-1zM537 145h1v1h-1zM538 146h1v1h-1zM539 146h1v1h-1zM540 146h1v1h-1zM541 147h1v1h-1zM542 147h1v1h-1zM543 148h1v1h-1zM544 148h1v1h-1zM545 149h1v1h-1zM546 149h1v1h-1zM547 150h1v1h-1zM548 150h1v1h-1zM549 151h1v1h-1zM550 151h1v1h-1zM551 152h1v1h-1zM552 153h1v1h-1zM553 153h1v1h-1zM554 154h1v1h-1zM555 155h1v1h-1zM556 156h1v1h-1zM557 156h1v1h-1zM558 157h1v1h-1zM559 158h1v1h-1zM560 158h1v1h-1zM561 159h1v1h-1zM562 160h1v1h-1zM563 160h1v1h-1zM564 161h1v1h-1zM565 161h1v1h-1zM566 162h1v1h-1zM567 163h1v1h-1zM568 164h1v2h-1zM569 166h1v1h-1zM570 167h1v1h-1zM571 168h1v2h-1zM572 170h1v1h-1zM573 171h1v1h-1zM574 172h1v2h-1zM575 174h1v1h-1zM576 175h1v2h-1zM577 177h1v1h-1zM578 178h1v2h-1zM579 180h1v1h-1zM580 181h1v2h-1zM581 183h1v1h-1zM582 184h1v2h-1zM583 186h1v2h-1zM584 188h1v2h-1zM585 190h1v2h-1zM586 191h1v1h-1zM587 192h1v1h-1zM588 193h1v1h-1zM589 194h1v1h-1zM590 194h1v1h-1zM591 195h1v1h-1zM592 196h1v1h-1zM593 196h1v1h-1zM594 197h1v1h-1zM595 197h1v1h-1zM596 197h1v1h-1zM597 198h1v1h-1zM598 197h1v1h-1zM599 196h1v1h-1zM600 196h1v1h-1zM601 195h1v1h-1zM602 195h1v1h-1zM603 194h1v1h-1zM604 194h1v1h-1zM605 193h1v1h-1zM606 193h1v1h-1zM607 193h1v1h-1zM608 193h1v1h-1zM609 193h1v1h-1zM610 194h1v1h-1zM611 194h1v1h-1zM612 195h1v1h-1zM613 195h1v1h-1zM614 195h1v1h-1zM615 196h1v1h-1zM616 196h1v1h-1zM617 196h1v1h-1zM618 197h1v1h-1zM619 197h1v1h-1zM620 198h1v1h-1zM621 198h1v1h-1zM622 199h1v1h-1zM623 199h1v1h-1zM624 198h1v1h-1zM625 198h1v1h-1zM626 198h1v1h-1zM627 198h1v1h-1zM628 197h1v1h-1zM629 197h1v1h-1zM630 196h1v1h-1zM631 196h1v1h-1zM632 196h1v1h-1zM633 195h1v1h-1zM634 194h1v1h-1zM635 194h1v1h-1zM636 193h1v1h-1zM637 193h1v1h-1zM638 192h1v1h-1zM639 192h1v1h-1zM640 192h1v1h-1zM641 192h1v1h-1zM642 192h1v1h-1zM643 192h1v1h-1zM644 193h1v1h-1zM645 193h1v1h-1zM646 194h1v1h-1zM647 194h1v1h-1zM648 195h1v1h-1zM649 196h1v1h-1zM650 197h1v1h-1zM651 198h1v2h-1zM652 200h1v1h-1zM653 201h1v2h-1zM654 203h1v1h-1zM655 204h1v2h-1zM656 206h1v1h-1zM657 207h1v1h-1zM658 208h1v1h-1zM659 209h1v2h-1zM660 211h1v1h-1zM661 212h1v1h-1zM662 213h1v1h-1zM663 214h1v1h-1zM664 215h1v1h-1zM665 216h1v1h-1zM666 217h1v1h-1zM667 218h1v1h-1zM668 219h1v1h-1zM669 220h1v1h-1zM670 220h1v1h-1zM671 221h1v1h-1zM672 222h1v1h-1zM673 223h1v1h-1zM674 224h1v1h-1zM675 225h1v1h-1zM676 226h1v1h-1zM677 227h1v1h-1zM678 228h1v2h-1zM679 230h1v2h-1zM680 232h1v3h-1zM681 235h1v2h-1zM682 237h1v2h-1zM683 239h1v1h-1zM684 240h1v1h-1zM685 241h1v1h-1zM686 242h1v2h-1zM687 244h1v1h-1zM688 245h1v1h-1zM689 246h1v1h-1zM690 245h1v1h-1zM691 244h1v1h-1zM692 243h1v1h-1zM693 242h1v1h-1zM694 242h1v1h-1zM695 241h1v1h-1zM696 240h1v1h-1zM697 239h1v1h-1zM698 239h1v1h-1zM699 237h1v2h-1zM700 235h1v2h-1zM701 234h1v1h-1zM702 232h1v2h-1zM703 230h1v2h-1zM704 229h1v1h-1zM705 227h1v2h-1zM706 225h1v2h-1zM707 223h1v2h-1zM708 221h1v2h-1zM709 219h1v2h-1zM710 219h1v1h-1zM711 218h1v1h-1zM712 218h1v1h-1zM713 218h1v1h-1zM714 219h1v2h-1zM715 221h1v2h-1zM716 223h1v2h-1zM717 225h1v1h-1zM718 226h1v2h-1zM719 228h1v1h-1zM720 229h1v1h-1zM721 230h1v2h-1zM722 232h1v2h-1zM723 234h1v4h-1zM724 238h1v4h-1zM725 242h1v6h-1zM726 248h1v7h-1zM727 255h1v7h-1zM728 262h1v7h-1zM729 269h1v6h-1zM730 275h1v6h-1zM731 281h1v6h-1zM732 287h1v7h-1zM733 294h1v6h-1zM734 300h1v5h-1zM735 305h1v6h-1zM736 311h1v5h-1zM737 316h1v6h-1zM738 322h1v6h-1zM739 328h1v7h-1zM740 335h1v7h-1zM741 342h1v7h-1zM742 349h1v7h-1zM743 356h1v6h-1zM744 362h1v7h-1zM745 369h1v6h-1zM746 375h1v4h-1zM747 379h1v5h-1zM748 384h1v4h-1zM749 388h1v4h-1zM750 392h1v4h-1zM751 396h1v4h-1zM752 400h1v4h-1zM753 404h1v4h-1zM754 408h1v4h-1zM755 412h1v4h-1zM756 416h1v4h-1zM757 420h1v4h-1zM758 424h1v4h-1zM759 428h1v4h-1zM760 432h1v3h-1zM761 435h1v3h-1zM762 437h1v2h-1zM763 436h1v1h-1zM764 435h1v1h-1zM765 433h1v2h-1zM766 432h1v1h-1zM767 430h1v2h-1zM768 429h1v1h-1zM769 427h1v2h-1zM770 425h1v2h-1zM771 422h1v3h-1zM772 419h1v3h-1zM773 416h1v3h-1zM774 412h1v4h-1zM775 408h1v4h-1zM776 403h1v5h-1zM777 399h1v4h-1zM778 395h1v4h-1zM779 390h1v5h-1zM780 385h1v5h-1zM781 380h1v5h-1zM782 375h1v5h-1zM783 371h1v4h-1zM784 368h1v3h-1zM785 365h1v3h-1zM786 362h1v3h-1zM787 359h1v3h-1zM788 357h1v2h-1zM789 355h1v2h-1zM790 354h1v1h-1zM791 353h1v1h-1zM792 351h1v2h-1zM793 350h1v1h-1zM794 351h1v1h-1zM795 352h1v1h-1zM796 353h1v1h-1zM797 354h1v2h-1zM798 356h1v3h-1zM799 359h1v2h-1zM800 361h1v3h-1zM801 364h1v2h-1zM802 366h1v2h-1zM803 368h1v2h-1zM804 370h1v2h-1zM805 372h1v1h-1zM806 372h1v1h-1zM807 373h1v1h-1zM808 373h1v1h-1zM809 374h1v1h-1zM810 373h1v1h-1zM811 372h1v1h-1zM812 371h1v1h-1zM813 370h1v2h-1zM814 368h1v2h-1zM815 365h1v3h-1zM816 363h1v2h-1zM817 360h1v3h-1zM818 356h1v4h-1zM819 352h1v4h-1zM820 348h1v4h-1zM821 343h1v5h-1zM822 339h1v4h-1zM823 335h1v4h-1zM824 331h1v4h-1zM825 327h1v4h-1zM826 323h1v4h-1zM827 319h1v4h-1zM828 316h1v3h-1zM829 312h1v4h-1zM830 309h1v3h-1zM831 307h1v2h-1zM832 304h1v3h-1zM833 302h1v2h-1zM834 299h1v3h-1zM835 297h1v2h-1zM836 294h1v3h-1zM837 292h1v2h-1zM838 291h1v1h-1zM839 290h1v1h-1zM840 289h1v1h-1zM841 289h1v1h-1zM842 290h1v1h-1zM843 290h1v1h-1zM844 291h1v1h-1zM845 291h1v1h-1zM846 292h1v1h-1zM847 292h1v1h-1zM848 291h1v1h-1zM849 291h1v1h-1zM850 291h1v1h-1zM851 292h1v1h-1zM852 292h1v1h-1zM853 292h1v1h-1zM854 293h1v1h-1zM855 293h1v1h-1zM856 294h1v1h-1zM857 294h1v1h-1zM858 295h1v1h-1zM859 295h1v1h-1zM860 296h1v1h-1zM861 296h1v1h-1zM862 297h1v1h-1zM863 297h1v1h-1zM864 297h1v1h-1zM865 297h1v1h-1zM866 296h1v1h-1zM867 296h1v1h-1zM868 295h1v1h-1zM869 295h1v1h-1zM870 294h1v1h-1zM871 294h1v1h-1zM872 294h1v1h-1zM873 294h1v1h-1zM874 294h1v1h-1zM875 294h1v1h-1zM876 294h1v1h-1zM877 294h1v1h-1zM878 292h1v2h-1zM879 290h1v2h-1zM880 288h1v2h-1zM881 286h1v2h-1zM882 283h1v3h-1zM883 280h1v3h-1zM884 276h1v4h-1zM885 273h1v3h-1zM886 271h1v2h-1zM887 269h1v2h-1zM888 267h1v2h-1zM889 265h1v2h-1zM890 263h1v2h-1zM891 261h1v2h-1zM892 260h1v1h-1zM893 259h1v1h-1zM894 258h1v1h-1zM895 257h1v1h-1zM896 257h1v1h-1zM897 257h1v1h-1zM898 257h1v1h-1zM899 257h1v1h-1zM900 257h1v1h-1zM901 258h1v1h-1zM902 259h1v1h-1zM903 260h1v2h-1zM904 262h1v1h-1zM905 263h1v1h-1zM906 264h1v1h-1zM907 265h1v1h-1zM908 266h1v2h-1zM909 268h1v1h-1zM910 269h1v1h-1zM911 270h1v2h-1zM912 272h1v2h-1zM913 274h1v1h-1zM914 272h1v2h-1zM915 271h1v1h-1zM916 269h1v2h-1zM917 268h1v1h-1zM918 266h1v2h-1zM919 265h1v1h-1zM920 263h1v2h-1zM921 261h1v2h-1zM922 260h1v1h-1zM923 259h1v1h-1zM924 258h1v1h-1zM925 257h1v1h-1zM926 256h1v1h-1zM927 256h1v1h-1zM928 255h1v1h-1zM929 255h1v1h-1zM930 254h1v1h-1zM931 253h1v1h-1zM932 252h1v1h-1zM933 251h1v1h-1zM934 250h1v1h-1zM935 251h1v1h-1zM936 251h1v1h-1zM937 252h1v1h-1zM938 253h1v2h-1zM939 255h1v1h-1zM940 256h1v2h-1zM941 258h1v2h-1zM942 260h1v1h-1zM943 261h1v1h-1zM944 262h1v1h-1zM945 263h1v2h-1zM946 265h1v1h-1zM947 266h1v1h-1zM948 266h1v1h-1zM949 267h1v1h-1zM950 268h1v1h-1zM951 268h1v1h-1zM952 268h1v1h-1zM953 268h1v1h-1zM954 268h1v1h-1zM955 266h1v2h-1zM956 264h1v2h-1zM957 262h1v2h-1zM958 260h1v2h-1zM959 258h1v2h-1zM960 256h1v2h-1zM961 254h1v2h-1zM962 252h1v2h-1zM963 250h1v2h-1zM964 248h1v2h-1zM965 246h1v2h-1zM966 244h1v2h-1zM967 242h1v2h-1zM968 241h1v1h-1zM969 239h1v2h-1zM970 238h1v1h-1zM971 237h1v1h-1zM972 237h1v1h-1zM973 237h1v1h-1zM974 237h1v1h-1zM975 237h1v1h-1zM976 237h1v1h-1zM977 237h1v1h-1zM978 238h1v1h-1zM979 237h1v1h-1zM980 237h1v1h-1zM981 236h1v1h-1zM982 236h1v1h-1zM983 235h1v1h-1zM984 235h1v1h-1zM985 234h1v1h-1zM986 234h1v1h-1zM987 232h1v2h-1zM988 230h1v2h-1zM989 228h1v2h-1zM990 227h1v1h-1zM991 225h1v2h-1zM992 224h1v1h-1zM993 222h1v2h-1zM994 221h1v1h-1zM995 219h1v2h-1zM996 216h1v3h-1zM997 214h1v2h-1zM998 212h1v2h-1zM999 210h1v2h-1zM1000 207h1v3h-1zM1001 204h1v3h-1zM1002 201h1v3h-1zM1003 198h1v3h-1zM1004 195h1v3h-1zM1005 191h1v4h-1zM1006 187h1v4h-1zM1007 183h1v4h-1zM1008 179h1v4h-1zM1009 176h1v3h-1zM1010 172h1v4h-1zM1011 169h1v3h-1zM1012 165h1v4h-1zM1013 161h1v4h-1zM1014 157h1v4h-1zM1015 153h1v4h-1zM1016 149h1v4h-1zM1017 145h1v4h-1zM1018 142h1v3h-1zM1019 139h1v3h-1zM1020 137h1v2h-1zM1021 135h1v2h-1zM1022 133h1v2h-1zM1023 131h1v2h-1zM1024 130h1v1h-1zM1025 129h1v1h-1zM1026 128h1v1h-1zM1027 127h1v1h-1zM1028 126h1v1h-1zM1029 125h1v1h-1zM1030 125h1v1h-1zM1031 124h1v1h-1zM1032 124h1v1h-1zM1033 123h1v1h-1zM1034 124h1v1h-1zM1035 125h1v1h-1zM1036 126h1v1h-1zM1037 127h1v2h-1zM1038 129h1v1h-1zM1039 130h1v2h-1zM1040 132h1v1h-1zM1041 133h1v2h-1zM1042 135h1v2h-1zM1043 137h1v2h-1zM1044 139h1v2h-1zM1045 141h1v2h-1zM1046 143h1v1h-1zM1047 144h1v2h-1zM1048 146h1v2h-1zM1049 148h1v1h-1zM1050 149h1v2h-1zM1051 151h1v2h-1zM1052 153h1v2h-1zM1053 155h1v1h-1zM1054 154h1v1h-1zM1055 154h1v1h-1zM1056 154h1v1h-1zM1057 154h1v1h-1zM1058 154h1v1h-1zM1059 154h1v1h-1zM1060 154h1v1h-1zM1061 154h1v1h-1zM1062 154h1v1h-1zM1063 154h1v1h-1zM1064 154h1v1h-1zM1065 154h1v1h-1zM1066 154h1v1h-1zM1067 154h1v1h-1zM1068 154h1v1h-1zM1069 154h1v1h-1zM1070 154h1v1h-1zM1071 154h1v1h-1zM1072 153h1v1h-1zM1073 153h1v1h-1zM1074 153h1v1h-1zM1075 152h1v1h-1zM1076 151h1v1h-1zM1077 150h1v1h-1zM1078 150h1v1h-1zM1079 149h1v1h-1zM1080 149h1v1h-1zM1081 148h1v1h-1zM1082 148h1v1h-1zM1083 148h1v1h-1zM1084 147h1v1h-1zM1085 147h1v1h-1zM1086 147h1v1h-1zM1087 147h1v1h-1zM1088 147h1v1h-1zM1089 147h1v1h-1zM1090 147h1v1h-1zM1091 148h1v1h-1zM1092 148h1v1h-1zM1093 149h1v1h-1zM1094 150h1v1h-1zM1095 151h1v2h-1zM1096 153h1v1h-1zM1097 153h1v1h-1zM1098 154h1v1h-1zM1099 155h1v1h-1zM1100 154h1v1h-1zM1101 154h1v1h-1zM1102 154h1v1h-1zM1103 153h1v1h-1zM1104 152h1v1h-1zM1105 151h1v1h-1zM1106 151h1v1h-1zM1107 150h1v1h-1zM1108 149h1v1h-1zM1109 148h1v1h-1zM1110 147h1v1h-1zM1111 147h1v1h-1zM1112 146h1v1h-1zM1113 145h1v1h-1zM1114 144h1v1h-1zM1115 143h1v1h-1zM1116 142h1v1h-1zM1117 140h1v2h-1zM1118 139h1v1h-1zM1119 138h1v1h-1zM1120 137h1v1h-1zM1121 136h1v1h-1zM1122 135h1v1h-1zM1123 134h1v1h-1zM1124 133h1v1h-1zM1125 132h1v1h-1zM1126 132h1v1h-1zM1127 131h1v1h-1zM1128 130h1v1h-1zM1129 130h1v1h-1zM1130 129h1v1h-1zM1131 129h1v1h-1zM1132 128h1v1h-1zM1133 128h1v1h-1zM1134 128h1v1h-1zM1135 128h1v1h-1zM1136 127h1v1h-1zM1137 127h1v1h-1zM1138 127h1v1h-1zM1139 128h1v1h-1zM1140 128h1v1h-1zM1141 129h1v1h-1zM1142 129h1v1h-1zM1143 129h1v1h-1zM1144 129h1v1h-1zM1145 128h1v1h-1zM1146 128h1v1h-1zM1147 128h1v1h-1zM1148 128h1v1h-1zM1149 128h1v1h-1zM1150 127h1v1h-1zM1151 126h1v1h-1zM1152 126h1v1h-1zM1153 125h1v1h-1zM1154 124h1v1h-1zM1155 124h1v1h-1zM1156 123h1v1h-1zM1157 122h1v1h-1zM1158 122h1v1h-1zM1159 121h1v1h-1zM1160 120h1v1h-1zM1161 120h1v1h-1zM1162 119h1v1h-1zM1163 119h1v1h-1zM1164 119h1v1h-1zM1165 119h1v1h-1zM1166 118h1v1h-1zM1167 118h1v1h-1zM1168 118h1v1h-1zM1169 117h1v1h-1zM1170 116h1v1h-1zM1171 115h1v1h-1zM1172 114h1v1h-1zM1173 112h1v2h-1zM1174 110h1v2h-1zM1175 108h1v2h-1zM1176 106h1v2h-1zM1177 104h1v2h-1zM1178 102h1v2h-1zM1179 100h1v2h-1zM1180 98h1v2h-1zM1181 97h1v1h-1zM1182 96h1v1h-1zM1183 95h1v1h-1zM1184 93h1v2h-1zM1185 92h1v1h-1zM1186 91h1v1h-1zM1187 90h1v1h-1zM1188 89h1v1h-1zM1189 88h1v1h-1zM1190 87h1v1h-1zM1191 86h1v1h-1zM1192 86h1v1h-1zM1193 85h1v1h-1zM1194 85h1v1h-1zM1195 85h1v1h-1zM1196 84h1v1h-1zM1197 84h1v1h-1zM1198 84h1v1h-1zM1199 84h1v1h-1zM1200 83h1v1h-1zM1201 83h1v1h-1zM1202 82h1v1h-1zM1203 81h1v1h-1zM1204 80h1v1h-1zM1205 79h1v1h-1zM1206 79h1v1h-1zM1207 78h1v1h-1zM1208 77h1v1h-1zM1209 77h1v1h-1zM1210 76h1v1h-1zM1211 76h1v1h-1zM1212 76h1v1h-1zM1213 76h1v1h-1zM1214 77h1v1h-1zM1215 77h1v1h-1zM1216 78h1v1h-1zM1217 79h1v1h-1zM1218 80h1v1h-1zM1219 80h1v1h-1zM1220 80h1v1h-1zM1221 80h1v1h-1zM1222 80h1v1h-1zM1223 79h1v1h-1zM1224 78h1v1h-1zM1225 77h1v1h-1zM1226 77h1v1h-1zM1227 76h1v1h-1zM1228 75h1v1h-1zM1229 74h1v1h-1zM1230 73h1v1h-1zM1231 72h1v1h-1zM1232 71h1v1h-1zM1233 71h1v1h-1zM1234 70h1v1h-1zM1235 70h1v1h-1zM1236 69h1v1h-1zM1237 69h1v1h-1zM1238 69h1v1h-1zM1239 68h1v1h-1zM1240 68h1v1h-1zM1241 68h1v1h-1zM1242 69h1v1h-1zM1243 70h1v1h-1zM1244 71h1v1h-1zM1245 72h1v1h-1zM1246 72h1v1h-1zM1247 73h1v1h-1zM1248 73h1v1h-1zM1249 74h1v1h-1zM1250 74h1v1h-1zM1251 74h1v1h-1zM1252 74h1v1h-1zM1253 74h1v1h-1zM1254 74h1v1h-1zM1255 74h1v1h-1zM1256 74h1v1h-1zM1257 74h1v1h-1zM1258 75h1v1h-1zM1259 74h1v1h-1zM1260 74h1v1h-1zM1261 73h1v1h-1zM1262 73h1v1h-1zM1263 72h1v1h-1zM1264 71h1v1h-1zM1265 70h1v1h-1zM1266 70h1v1h-1zM1267 69h1v1h-1zM1268 69h1v1h-1zM1269 68h1v1h-1z" fill="#ffa500"/>
<text x="21.30" y="39.1" font-size="10" textLength="63.20" lengthAdjust="spacingAndGlyphs" fill="#000">AUDUSD,Daily</text>
<text x="92.60" y="39.1" font-size="10" textLength="140.40" lengthAdjust="spacingAndGlyphs" fill="#000">0.72105 0.72294 0.72046 0.72282</text>
<rect x="5" y="35" width="1592" height="2" fill="#ff0000"/>
<rect x="4" y="33" width="6" height="6" fill="#ff0000"/>
<rect x="6" y="35" width="2" height="2" fill="#ffffff"/>
<rect x="1591" y="33" width="6" height="6" fill="#ff0000"/>
<rect x="1593" y="35" width="2" height="2" fill="#ffffff"/>
<rect x="5" y="62" width="1592" height="2" fill="#ff0000"/>
<rect x="4" y="60" width="6" height="6" fill="#ff0000"/>
<rect x="6" y="62" width="2" height="2" fill="#ffffff"/>
<rect x="1591" y="60" width="6" height="6" fill="#ff0000"/>
<rect x="1593" y="62" width="2" height="2" fill="#ffffff"/>
<rect x="5" y="89" width="1592" height="2" fill="#00ff00"/>
<rect x="4" y="87" width="6" height="6" fill="#00ff00"/>
<rect x="6" y="89" width="2" height="2" fill="#ffffff"/>
<rect x="1591" y="87" width="6" height="6" fill="#00ff00"/>
<rect x="1593" y="89" width="2" height="2" fill="#ffffff"/>
<rect x="5" y="116" width="1592" height="2" fill="#0000ff"/>
<rect x="5" y="143" width="1592" height="2" fill="#0000ff"/>
<rect x="4" y="141" width="6" height="6" fill="#0000ff"/>
<rect x="6" y="143" width="2" height="2" fill="#ffffff"/>
<rect x="1591" y="141" width="6" height="6" fill="#0000ff"/>
<rect x="1593" y="143" width="2" height="2" fill="#ffffff"/>
<rect x="5" y="170" width="1592" height="2" fill="#0000ff"/>
<rect x="4" y="168" width="6" height="6" fill="#0000ff"/>
<rect x="6" y="170" width="2" height="2" fill="#ffffff"/>
<rect x="1591" y="168" width="6" height="6" fill="#0000ff"/>
<rect x="1593" y="170" width="2" height="2" fill="#ffffff"/>
<path d="M1273 28 L1282.4 28 L1277.7 33 Z" fill="#c0c0c0" shape-rendering="auto"/>
</g>
<rect x="4" y="27" width="1594" height="1" fill="#000"/>
<rect x="4" y="532" width="1594" height="1" fill="#000"/>
<rect x="4" y="27" width="1" height="506" fill="#000"/>
<rect x="1597" y="27" width="1" height="506" fill="#000"/>
<rect x="4" y="534" width="1594" height="1" fill="#000"/>
<rect x="4" y="626" width="1594" height="1" fill="#000"/>
<rect x="4" y="534" width="1" height="93" fill="#000"/>
<rect x="1597" y="534" width="1" height="93" fill="#000"/>
<rect x="4" y="628" width="1594" height="1" fill="#000"/>
<rect x="4" y="720" width="1594" height="1" fill="#000"/>
<rect x="4" y="628" width="1" height="93" fill="#000"/>
<rect x="1597" y="628" width="1" height="93" fill="#000"/>
<rect x="4" y="33" width="6" height="6" fill="#ff0000"/>
<rect x="6" y="35" width="2" height="2" fill="#ffffff"/>
<rect x="4" y="60" width="6" height="6" fill="#ff0000"/>
<rect x="6" y="62" width="2" height="2" fill="#ffffff"/>
<rect x="4" y="87" width="6" height="6" fill="#00ff00"/>
<rect x="6" y="89" width="2" height="2" fill="#ffffff"/>
<rect x="4" y="141" width="6" height="6" fill="#0000ff"/>
<rect x="6" y="143" width="2" height="2" fill="#ffffff"/>
<rect x="4" y="168" width="6" height="6" fill="#0000ff"/>
<rect x="6" y="170" width="2" height="2" fill="#ffffff"/>
<path d="M8.6 34 L15 34 L11.8 37.8 Z" fill="#000" shape-rendering="auto"/>
<rect x="1598" y="67" width="2" height="1" fill="#000"/>
<text x="1603.00" y="70.8" font-size="9.7" textLength="32.80" lengthAdjust="spacingAndGlyphs" fill="#000">0.71870</text>
<rect x="1598" y="100" width="2" height="1" fill="#000"/>
<text x="1603.00" y="103.8" font-size="9.7" textLength="32.80" lengthAdjust="spacingAndGlyphs" fill="#000">0.70645</text>
<rect x="1598" y="133" width="2" height="1" fill="#000"/>
<text x="1603.00" y="136.8" font-size="9.7" textLength="32.80" lengthAdjust="spacingAndGlyphs" fill="#000">0.69420</text>
<rect x="1598" y="166" width="2" height="1" fill="#000"/>
<text x="1603.00" y="169.9" font-size="9.7" textLength="32.80" lengthAdjust="spacingAndGlyphs" fill="#000">0.68195</text>
<rect x="1598" y="199" width="2" height="1" fill="#000"/>
<text x="1603.00" y="202.9" font-size="9.7" textLength="32.80" lengthAdjust="spacingAndGlyphs" fill="#000">0.66970</text>
<rect x="1598" y="232" width="2" height="1" fill="#000"/>
<text x="1603.00" y="236" font-size="9.7" textLength="32.80" lengthAdjust="spacingAndGlyphs" fill="#000">0.65745</text>
<rect x="1598" y="265" width="2" height="1" fill="#000"/>
<text x="1603.00" y="269" font-size="9.7" textLength="32.80" lengthAdjust="spacingAndGlyphs" fill="#000">0.64520</text>
<rect x="1598" y="298" width="2" height="1" fill="#000"/>
<text x="1603.00" y="302" font-size="9.7" textLength="32.80" lengthAdjust="spacingAndGlyphs" fill="#000">0.63295</text>
<rect x="1598" y="331" width="2" height="1" fill="#000"/>
<text x="1603.00" y="335.1" font-size="9.7" textLength="32.80" lengthAdjust="spacingAndGlyphs" fill="#000">0.62070</text>
<rect x="1598" y="364" width="2" height="1" fill="#000"/>
<text x="1603.00" y="368.1" font-size="9.7" textLength="32.80" lengthAdjust="spacingAndGlyphs" fill="#000">0.60845</text>
<rect x="1598" y="397" width="2" height="1" fill="#000"/>
<text x="1603.00" y="401.2" font-size="9.7" textLength="32.80" lengthAdjust="spacingAndGlyphs" fill="#000">0.59620</text>
<rect x="1598" y="430" width="2" height="1" fill="#000"/>
<text x="1603.00" y="434.2" font-size="9.7" textLength="32.80" lengthAdjust="spacingAndGlyphs" fill="#000">0.58395</text>
<rect x="1598" y="463" width="2" height="1" fill="#000"/>
<text x="1603.00" y="467.2" font-size="9.7" textLength="32.80" lengthAdjust="spacingAndGlyphs" fill="#000">0.57205</text>
<rect x="1598" y="496" width="2" height="1" fill="#000"/>
<text x="1603.00" y="500.3" font-size="9.7" textLength="32.80" lengthAdjust="spacingAndGlyphs" fill="#000">0.55980</text>
<rect x="1598" y="529" width="2" height="1" fill="#000"/>
<text x="1603.00" y="533.3" font-size="9.7" textLength="32.80" lengthAdjust="spacingAndGlyphs" fill="#000">0.54755</text>
<rect x="1599" y="51" width="41" height="11" fill="#000"/>
<text x="1603.30" y="60.2" font-size="9.7" textLength="32.90" lengthAdjust="spacingAndGlyphs" fill="#fff">0.72282</text>
<rect x="1599" y="30" width="41" height="11" fill="#ff0000"/>
<text x="1603.30" y="39.2" font-size="9.7" textLength="32.90" lengthAdjust="spacingAndGlyphs" fill="#fff">0.73004</text>
<rect x="1599" y="57" width="41" height="11" fill="#ff0000"/>
<text x="1603.30" y="66.2" font-size="9.7" textLength="32.90" lengthAdjust="spacingAndGlyphs" fill="#fff">0.72005</text>
<rect x="1599" y="84" width="41" height="11" fill="#00ff00"/>
<text x="1603.30" y="93.2" font-size="9.7" textLength="32.90" lengthAdjust="spacingAndGlyphs" fill="#fff">0.71006</text>
<rect x="1599" y="111" width="41" height="11" fill="#0000ff"/>
<text x="1603.30" y="120.2" font-size="9.7" textLength="32.90" lengthAdjust="spacingAndGlyphs" fill="#fff">0.70007</text>
<rect x="1599" y="138" width="41" height="11" fill="#0000ff"/>
<text x="1603.30" y="147.2" font-size="9.7" textLength="32.90" lengthAdjust="spacingAndGlyphs" fill="#fff">0.69008</text>
<rect x="1599" y="165" width="41" height="11" fill="#0000ff"/>
<text x="1603.30" y="174.2" font-size="9.7" textLength="32.90" lengthAdjust="spacingAndGlyphs" fill="#fff">0.68008</text>
<path d="M6 562h3M12 562h3M18 562h3M24 562h3M30 562h3M36 562h3M42 562h3M48 562h3M54 562h3M60 562h3M66 562h3M72 562h3M78 562h3M84 562h3M90 562h3M96 562h3M102 562h3M108 562h3M114 562h3M120 562h3M126 562h3M132 562h3M138 562h3M144 562h3M150 562h3M156 562h3M162 562h3M168 562h3M174 562h3M180 562h3M186 562h3M192 562h3M198 562h3M204 562h3M210 562h3M216 562h3M222 562h3M228 562h3M234 562h3M240 562h3M246 562h3M252 562h3M258 562h3M264 562h3M270 562h3M276 562h3M282 562h3M288 562h3M294 562h3M300 562h3M306 562h3M312 562h3M318 562h3M324 562h3M330 562h3M336 562h3M342 562h3M348 562h3M354 562h3M360 562h3M366 562h3M372 562h3M378 562h3M384 562h3M390 562h3M396 562h3M402 562h3M408 562h3M414 562h3M420 562h3M426 562h3M432 562h3M438 562h3M444 562h3M450 562h3M456 562h3M462 562h3M468 562h3M474 562h3M480 562h3M486 562h3M492 562h3M498 562h3M504 562h3M510 562h3M516 562h3M522 562h3M528 562h3M534 562h3M540 562h3M546 562h3M552 562h3M558 562h3M564 562h3M570 562h3M576 562h3M582 562h3M588 562h3M594 562h3M600 562h3M606 562h3M612 562h3M618 562h3M624 562h3M630 562h3M636 562h3M642 562h3M648 562h3M654 562h3M660 562h3M666 562h3M672 562h3M678 562h3M684 562h3M690 562h3M696 562h3M702 562h3M708 562h3M714 562h3M720 562h3M726 562h3M732 562h3M738 562h3M744 562h3M750 562h3M756 562h3M762 562h3M768 562h3M774 562h3M780 562h3M786 562h3M792 562h3M798 562h3M804 562h3M810 562h3M816 562h3M822 562h3M828 562h3M834 562h3M840 562h3M846 562h3M852 562h3M858 562h3M864 562h3M870 562h3M876 562h3M882 562h3M888 562h3M894 562h3M900 562h3M906 562h3M912 562h3M918 562h3M924 562h3M930 562h3M936 562h3M942 562h3M948 562h3M954 562h3M960 562h3M966 562h3M972 562h3M978 562h3M984 562h3M990 562h3M996 562h3M1002 562h3M1008 562h3M1014 562h3M1020 562h3M1026 562h3M1032 562h3M1038 562h3M1044 562h3M1050 562h3M1056 562h3M1062 562h3M1068 562h3M1074 562h3M1080 562h3M1086 562h3M1092 562h3M1098 562h3M1104 562h3M1110 562h3M1116 562h3M1122 562h3M1128 562h3M1134 562h3M1140 562h3M1146 562h3M1152 562h3M1158 562h3M1164 562h3M1170 562h3M1176 562h3M1182 562h3M1188 562h3M1194 562h3M1200 562h3M1206 562h3M1212 562h3M1218 562h3M1224 562h3M1230 562h3M1236 562h3M1242 562h3M1248 562h3M1254 562h3M1260 562h3M1266 562h3M1272 562h3M1278 562h3M1284 562h3M1290 562h3M1296 562h3M1302 562h3M1308 562h3M1314 562h3M1320 562h3M1326 562h3M1332 562h3M1338 562h3M1344 562h3M1350 562h3M1356 562h3M1362 562h3M1368 562h3M1374 562h3M1380 562h3M1386 562h3M1392 562h3M1398 562h3M1404 562h3M1410 562h3M1416 562h3M1422 562h3M1428 562h3M1434 562h3M1440 562h3M1446 562h3M1452 562h3M1458 562h3M1464 562h3M1470 562h3M1476 562h3M1482 562h3M1488 562h3M1494 562h3M1500 562h3M1506 562h3M1512 562h3M1518 562h3M1524 562h3M1530 562h3M1536 562h3M1542 562h3M1548 562h3M1554 562h3M1560 562h3M1566 562h3M1572 562h3M1578 562h3M1584 562h3M1590 562h3M1596 562h3" stroke="#c0c0c0" stroke-width="1" fill="none" transform="translate(0,0.5)"/>
<path d="M6 598h3M12 598h3M18 598h3M24 598h3M30 598h3M36 598h3M42 598h3M48 598h3M54 598h3M60 598h3M66 598h3M72 598h3M78 598h3M84 598h3M90 598h3M96 598h3M102 598h3M108 598h3M114 598h3M120 598h3M126 598h3M132 598h3M138 598h3M144 598h3M150 598h3M156 598h3M162 598h3M168 598h3M174 598h3M180 598h3M186 598h3M192 598h3M198 598h3M204 598h3M210 598h3M216 598h3M222 598h3M228 598h3M234 598h3M240 598h3M246 598h3M252 598h3M258 598h3M264 598h3M270 598h3M276 598h3M282 598h3M288 598h3M294 598h3M300 598h3M306 598h3M312 598h3M318 598h3M324 598h3M330 598h3M336 598h3M342 598h3M348 598h3M354 598h3M360 598h3M366 598h3M372 598h3M378 598h3M384 598h3M390 598h3M396 598h3M402 598h3M408 598h3M414 598h3M420 598h3M426 598h3M432 598h3M438 598h3M444 598h3M450 598h3M456 598h3M462 598h3M468 598h3M474 598h3M480 598h3M486 598h3M492 598h3M498 598h3M504 598h3M510 598h3M516 598h3M522 598h3M528 598h3M534 598h3M540 598h3M546 598h3M552 598h3M558 598h3M564 598h3M570 598h3M576 598h3M582 598h3M588 598h3M594 598h3M600 598h3M606 598h3M612 598h3M618 598h3M624 598h3M630 598h3M636 598h3M642 598h3M648 598h3M654 598h3M660 598h3M666 598h3M672 598h3M678 598h3M684 598h3M690 598h3M696 598h3M702 598h3M708 598h3M714 598h3M720 598h3M726 598h3M732 598h3M738 598h3M744 598h3M750 598h3M756 598h3M762 598h3M768 598h3M774 598h3M780 598h3M786 598h3M792 598h3M798 598h3M804 598h3M810 598h3M816 598h3M822 598h3M828 598h3M834 598h3M840 598h3M846 598h3M852 598h3M858 598h3M864 598h3M870 598h3M876 598h3M882 598h3M888 598h3M894 598h3M900 598h3M906 598h3M912 598h3M918 598h3M924 598h3M930 598h3M936 598h3M942 598h3M948 598h3M954 598h3M960 598h3M966 598h3M972 598h3M978 598h3M984 598h3M990 598h3M996 598h3M1002 598h3M1008 598h3M1014 598h3M1020 598h3M1026 598h3M1032 598h3M1038 598h3M1044 598h3M1050 598h3M1056 598h3M1062 598h3M1068 598h3M1074 598h3M1080 598h3M1086 598h3M1092 598h3M1098 598h3M1104 598h3M1110 598h3M1116 598h3M1122 598h3M1128 598h3M1134 598h3M1140 598h3M1146 598h3M1152 598h3M1158 598h3M1164 598h3M1170 598h3M1176 598h3M1182 598h3M1188 598h3M1194 598h3M1200 598h3M1206 598h3M1212 598h3M1218 598h3M1224 598h3M1230 598h3M1236 598h3M1242 598h3M1248 598h3M1254 598h3M1260 598h3M1266 598h3M1272 598h3M1278 598h3M1284 598h3M1290 598h3M1296 598h3M1302 598h3M1308 598h3M1314 598h3M1320 598h3M1326 598h3M1332 598h3M1338 598h3M1344 598h3M1350 598h3M1356 598h3M1362 598h3M1368 598h3M1374 598h3M1380 598h3M1386 598h3M1392 598h3M1398 598h3M1404 598h3M1410 598h3M1416 598h3M1422 598h3M1428 598h3M1434 598h3M1440 598h3M1446 598h3M1452 598h3M1458 598h3M1464 598h3M1470 598h3M1476 598h3M1482 598h3M1488 598h3M1494 598h3M1500 598h3M1506 598h3M1512 598h3M1518 598h3M1524 598h3M1530 598h3M1536 598h3M1542 598h3M1548 598h3M1554 598h3M1560 598h3M1566 598h3M1572 598h3M1578 598h3M1584 598h3M1590 598h3M1596 598h3" stroke="#c0c0c0" stroke-width="1" fill="none" transform="translate(0,0.5)"/>
<path d="M5 589h1v1h-1zM6 589h1v1h-1zM7 590h1v1h-1zM8 590h1v1h-1zM9 590h1v1h-1zM10 590h1v1h-1zM11 589h1v1h-1zM12 589h1v1h-1zM13 589h1v1h-1zM14 589h1v1h-1zM15 590h1v1h-1zM16 590h1v1h-1zM17 591h1v1h-1zM18 591h1v1h-1zM19 591h1v1h-1zM20 590h1v1h-1zM21 590h1v1h-1zM22 590h1v1h-1zM23 589h1v1h-1zM24 588h1v1h-1zM25 587h1v1h-1zM26 588h1v1h-1zM27 589h1v1h-1zM28 589h1v1h-1zM29 590h1v1h-1zM30 591h1v1h-1zM31 591h1v1h-1zM32 591h1v1h-1zM33 592h1v1h-1zM34 592h1v1h-1zM35 591h1v1h-1zM36 591h1v1h-1zM37 591h1v1h-1zM38 590h1v1h-1zM39 589h1v1h-1zM40 587h1v2h-1zM41 586h1v1h-1zM42 586h1v1h-1zM43 587h1v1h-1zM44 588h1v1h-1zM45 588h1v1h-1zM46 589h1v1h-1zM47 589h1v1h-1zM48 590h1v1h-1zM49 590h1v1h-1zM50 591h1v1h-1zM51 591h1v1h-1zM52 591h1v1h-1zM53 592h1v1h-1zM54 592h1v1h-1zM55 592h1v1h-1zM56 593h1v1h-1zM57 593h1v1h-1zM58 593h1v1h-1zM59 593h1v1h-1zM60 593h1v1h-1zM61 593h1v1h-1zM62 593h1v1h-1zM63 593h1v1h-1zM64 594h1v1h-1zM65 594h1v1h-1zM66 592h1v2h-1zM67 590h1v2h-1zM68 588h1v2h-1zM69 586h1v2h-1zM70 584h1v2h-1zM71 582h1v2h-1zM72 580h1v2h-1zM73 578h1v2h-1zM74 577h1v1h-1zM75 576h1v1h-1zM76 575h1v1h-1zM77 575h1v1h-1zM78 574h1v1h-1zM79 573h1v1h-1zM80 572h1v1h-1zM81 570h1v2h-1zM82 570h1v1h-1zM83 570h1v1h-1zM84 570h1v1h-1zM85 571h1v1h-1zM86 570h1v1h-1zM87 569h1v1h-1zM88 569h1v1h-1zM89 568h1v1h-1zM90 568h1v1h-1zM91 569h1v1h-1zM92 569h1v1h-1zM93 569h1v1h-1zM94 570h1v1h-1zM95 570h1v1h-1zM96 571h1v1h-1zM97 571h1v1h-1zM98 572h1v1h-1zM99 571h1v1h-1zM100 571h1v1h-1zM101 570h1v1h-1zM102 570h1v1h-1zM103 569h1v1h-1zM104 569h1v1h-1zM105 568h1v1h-1zM106 568h1v1h-1zM107 568h1v1h-1zM108 568h1v1h-1zM109 568h1v1h-1zM110 569h1v1h-1zM111 570h1v1h-1zM112 571h1v1h-1zM113 572h1v1h-1zM114 573h1v1h-1zM115 573h1v1h-1zM116 573h1v1h-1zM117 573h1v1h-1zM118 574h1v1h-1zM119 575h1v1h-1zM120 576h1v1h-1zM121 577h1v2h-1zM122 579h1v2h-1zM123 581h1v2h-1zM124 583h1v2h-1zM125 585h1v1h-1zM126 586h1v1h-1zM127 587h1v1h-1zM128 588h1v1h-1zM129 589h1v1h-1zM130 590h1v1h-1zM131 590h1v1h-1zM132 590h1v1h-1zM133 591h1v1h-1zM134 590h1v1h-1zM135 590h1v1h-1zM136 589h1v1h-1zM137 589h1v1h-1zM138 588h1v1h-1zM139 588h1v1h-1zM140 587h1v1h-1zM141 586h1v1h-1zM142 585h1v2h-1zM143 587h1v1h-1zM144 588h1v2h-1zM145 590h1v1h-1zM146 590h1v1h-1zM147 590h1v1h-1zM148 590h1v1h-1zM149 590h1v1h-1zM150 589h1v1h-1zM151 589h1v1h-1zM152 589h1v1h-1zM153 588h1v1h-1zM154 588h1v1h-1zM155 588h1v1h-1zM156 588h1v1h-1zM157 588h1v1h-1zM158 588h1v1h-1zM159 589h1v1h-1zM160 590h1v1h-1zM161 590h1v2h-1zM162 592h1v1h-1zM163 593h1v2h-1zM164 595h1v1h-1zM165 596h1v2h-1zM166 597h1v1h-1zM167 597h1v1h-1zM168 597h1v1h-1zM169 597h1v1h-1zM170 595h1v3h-1zM171 592h1v3h-1zM172 589h1v3h-1zM173 586h1v3h-1zM174 585h1v1h-1zM175 585h1v1h-1zM176 584h1v1h-1zM177 583h1v1h-1zM178 583h1v1h-1zM179 583h1v1h-1zM180 582h1v1h-1zM181 582h1v1h-1zM182 583h1v1h-1zM183 584h1v1h-1zM184 585h1v1h-1zM185 586h1v1h-1zM186 587h1v1h-1zM187 587h1v1h-1zM188 588h1v1h-1zM189 588h1v1h-1zM190 589h1v1h-1zM191 589h1v1h-1zM192 588h1v1h-1zM193 588h1v1h-1zM194 587h1v2h-1zM195 586h1v1h-1zM196 584h1v2h-1zM197 582h1v2h-1zM198 581h1v1h-1zM199 579h1v2h-1zM200 578h1v1h-1zM201 576h1v2h-1zM202 575h1v1h-1zM203 575h1v1h-1zM204 575h1v1h-1zM205 575h1v1h-1zM206 576h1v1h-1zM207 577h1v2h-1zM208 579h1v1h-1zM209 580h1v1h-1zM210 580h1v1h-1zM211 581h1v1h-1zM212 581h1v1h-1zM213 582h1v1h-1zM214 582h1v1h-1zM215 583h1v1h-1zM216 583h1v1h-1zM217 584h1v1h-1zM218 581h1v3h-1zM219 579h1v2h-1zM220 576h1v3h-1zM221 574h1v2h-1zM222 572h1v2h-1zM223 572h1v1h-1zM224 571h1v1h-1zM225 570h1v1h-1zM226 569h1v1h-1zM227 569h1v1h-1zM228 569h1v1h-1zM229 569h1v1h-1zM230 569h1v1h-1zM231 568h1v1h-1zM232 568h1v1h-1zM233 568h1v1h-1zM234 568h1v1h-1zM235 568h1v1h-1zM236 568h1v1h-1zM237 568h1v1h-1zM238 569h1v1h-1zM239 570h1v1h-1zM240 571h1v1h-1zM241 572h1v1h-1zM242 573h1v1h-1zM243 574h1v2h-1zM244 576h1v1h-1zM245 577h1v2h-1zM246 577h1v1h-1zM247 577h1v1h-1zM248 576h1v1h-1zM249 576h1v1h-1zM250 576h1v1h-1zM251 577h1v1h-1zM252 577h1v1h-1zM253 578h1v1h-1zM254 577h1v1h-1zM255 576h1v1h-1zM256 575h1v1h-1zM257 574h1v1h-1zM258 573h1v1h-1zM259 572h1v1h-1zM260 572h1v1h-1zM261 571h1v1h-1zM262 571h1v1h-1zM263 571h1v1h-1zM264 570h1v1h-1zM265 570h1v1h-1zM266 569h1v1h-1zM267 568h1v1h-1zM268 567h1v1h-1zM269 567h1v1h-1zM270 566h1v1h-1zM271 565h1v1h-1zM272 564h1v1h-1zM273 564h1v1h-1zM274 564h1v1h-1zM275 565h1v1h-1zM276 565h1v1h-1zM277 565h1v1h-1zM278 566h1v1h-1zM279 566h1v1h-1zM280 566h1v1h-1zM281 567h1v1h-1zM282 567h1v1h-1zM283 568h1v1h-1zM284 568h1v1h-1zM285 568h1v1h-1zM286 569h1v1h-1zM287 569h1v1h-1zM288 569h1v1h-1zM289 570h1v1h-1zM290 570h1v1h-1zM291 570h1v1h-1zM292 570h1v1h-1zM293 571h1v1h-1zM294 572h1v1h-1zM295 573h1v2h-1zM296 575h1v2h-1zM297 577h1v2h-1zM298 578h1v1h-1zM299 578h1v1h-1zM300 579h1v1h-1zM301 579h1v1h-1zM302 579h1v1h-1zM303 579h1v1h-1zM304 580h1v1h-1zM305 580h1v1h-1zM306 580h1v1h-1zM307 581h1v1h-1zM308 581h1v1h-1zM309 582h1v1h-1zM310 582h1v1h-1zM311 583h1v1h-1zM312 583h1v1h-1zM313 584h1v3h-1zM314 587h1v2h-1zM315 589h1v2h-1zM316 591h1v2h-1zM317 593h1v2h-1zM318 594h1v2h-1zM319 592h1v2h-1zM320 590h1v2h-1zM321 588h1v2h-1zM322 586h1v2h-1zM323 585h1v1h-1zM324 585h1v1h-1zM325 585h1v1h-1zM326 585h1v1h-1zM327 585h1v1h-1zM328 585h1v1h-1zM329 585h1v1h-1zM330 584h1v2h-1zM331 584h1v1h-1zM332 584h1v1h-1zM333 583h1v1h-1zM334 584h1v1h-1zM335 585h1v1h-1zM336 586h1v1h-1zM337 587h1v1h-1zM338 587h1v1h-1zM339 587h1v1h-1zM340 588h1v1h-1zM341 588h1v1h-1zM342 588h1v1h-1zM343 589h1v1h-1zM344 589h1v1h-1zM345 589h1v1h-1zM346 590h1v1h-1zM347 590h1v1h-1zM348 590h1v1h-1zM349 591h1v1h-1zM350 591h1v1h-1zM351 591h1v1h-1zM352 592h1v1h-1zM353 592h1v1h-1zM354 593h1v1h-1zM355 592h1v1h-1zM356 591h1v1h-1zM357 590h1v1h-1zM358 589h1v1h-1zM359 589h1v1h-1zM360 590h1v1h-1zM361 590h1v1h-1zM362 590h1v1h-1zM363 591h1v1h-1zM364 592h1v1h-1zM365 592h1v1h-1zM366 593h1v1h-1zM367 593h1v1h-1zM368 593h1v1h-1zM369 593h1v1h-1zM370 593h1v1h-1zM371 593h1v1h-1zM372 593h1v1h-1zM373 593h1v1h-1zM374 589h1v4h-1zM375 586h1v3h-1zM376 583h1v3h-1zM377 580h1v3h-1zM378 579h1v1h-1zM379 577h1v2h-1zM380 576h1v1h-1zM381 574h1v2h-1zM382 573h1v1h-1zM383 572h1v1h-1zM384 572h1v1h-1zM385 571h1v1h-1zM386 572h1v2h-1zM387 574h1v1h-1zM388 575h1v2h-1zM389 577h1v2h-1zM390 578h1v1h-1zM391 577h1v1h-1zM392 577h1v1h-1zM393 577h1v1h-1zM394 576h1v1h-1zM395 576h1v1h-1zM396 575h1v1h-1zM397 575h1v1h-1zM398 575h1v1h-1zM399 576h1v1h-1zM400 576h1v1h-1zM401 577h1v1h-1zM402 578h1v1h-1zM403 579h1v1h-1zM404 580h1v1h-1zM405 581h1v2h-1zM406 581h1v1h-1zM407 579h1v2h-1zM408 577h1v2h-1zM409 575h1v2h-1zM410 573h1v2h-1zM411 571h1v2h-1zM412 569h1v2h-1zM413 567h1v2h-1zM414 568h1v1h-1zM415 569h1v1h-1zM416 570h1v1h-1zM417 571h1v2h-1zM418 572h1v1h-1zM419 572h1v1h-1zM420 573h1v1h-1zM421 573h1v1h-1zM422 572h1v1h-1zM423 572h1v1h-1zM424 571h1v1h-1zM425 570h1v1h-1zM426 569h1v2h-1zM427 571h1v2h-1zM428 573h1v2h-1zM429 575h1v2h-1zM430 577h1v1h-1zM431 577h1v1h-1zM432 577h1v1h-1zM433 576h1v1h-1zM434 576h1v1h-1zM435 576h1v1h-1zM436 575h1v1h-1zM437 575h1v1h-1zM438 574h1v1h-1zM439 573h1v1h-1zM440 572h1v1h-1zM441 571h1v1h-1zM442 570h1v1h-1zM443 570h1v1h-1zM444 570h1v1h-1zM445 571h1v1h-1zM446 571h1v1h-1zM447 571h1v1h-1zM448 570h1v1h-1zM449 570h1v1h-1zM450 569h1v1h-1zM451 569h1v1h-1zM452 568h1v1h-1zM453 568h1v1h-1zM454 567h1v1h-1zM455 568h1v1h-1zM456 568h1v1h-1zM457 569h1v1h-1zM458 569h1v1h-1zM459 568h1v1h-1zM460 568h1v1h-1zM461 567h1v1h-1zM462 565h1v2h-1zM463 564h1v1h-1zM464 563h1v1h-1zM465 562h1v1h-1zM466 561h1v1h-1zM467 561h1v1h-1zM468 562h1v1h-1zM469 562h1v1h-1zM470 563h1v1h-1zM471 562h1v1h-1zM472 562h1v1h-1zM473 561h1v1h-1zM474 561h1v1h-1zM475 560h1v1h-1zM476 559h1v1h-1zM477 559h1v1h-1zM478 558h1v1h-1zM479 559h1v1h-1zM480 559h1v1h-1zM481 560h1v1h-1zM482 561h1v1h-1zM483 562h1v1h-1zM484 562h1v1h-1zM485 563h1v2h-1zM486 565h1v2h-1zM487 567h1v2h-1zM488 569h1v3h-1zM489 572h1v2h-1zM490 574h1v1h-1zM491 574h1v1h-1zM492 574h1v1h-1zM493 574h1v1h-1zM494 574h1v2h-1zM495 576h1v1h-1zM496 577h1v2h-1zM497 579h1v1h-1zM498 580h1v2h-1zM499 582h1v2h-1zM500 584h1v2h-1zM501 586h1v2h-1zM502 588h1v1h-1zM503 588h1v1h-1zM504 589h1v1h-1zM505 589h1v1h-1zM506 590h1v1h-1zM507 590h1v1h-1zM508 590h1v1h-1zM509 590h1v1h-1zM510 588h1v2h-1zM511 586h1v2h-1zM512 584h1v2h-1zM513 582h1v2h-1zM514 581h1v1h-1zM515 581h1v1h-1zM516 581h1v1h-1zM517 581h1v1h-1zM518 581h1v1h-1zM519 581h1v1h-1zM520 581h1v1h-1zM521 581h1v1h-1zM522 581h1v1h-1zM523 581h1v1h-1zM524 581h1v1h-1zM525 581h1v1h-1zM526 582h1v1h-1zM527 581h1v1h-1zM528 581h1v1h-1zM529 581h1v1h-1zM530 581h1v1h-1zM531 581h1v1h-1zM532 582h1v1h-1zM533 582h1v1h-1zM534 583h1v1h-1zM535 583h1v1h-1zM536 584h1v1h-1zM537 585h1v1h-1zM538 586h1v1h-1zM539 586h1v1h-1zM540 586h1v1h-1zM541 586h1v1h-1zM542 586h1v1h-1zM543 586h1v1h-1zM544 587h1v1h-1zM545 587h1v1h-1zM546 588h1v1h-1zM547 588h1v1h-1zM548 589h1v1h-1zM549 589h1v1h-1zM550 589h1v1h-1zM551 590h1v1h-1zM552 591h1v1h-1zM553 592h1v1h-1zM554 593h1v1h-1zM555 592h1v1h-1zM556 591h1v1h-1zM557 590h1v1h-1zM558 591h1v1h-1zM559 592h1v1h-1zM560 593h1v1h-1zM561 594h1v1h-1zM562 594h1v1h-1zM563 594h1v1h-1zM564 594h1v1h-1zM565 594h1v1h-1zM566 595h1v2h-1zM567 597h1v2h-1zM568 599h1v1h-1zM569 600h1v2h-1zM570 602h1v1h-1zM571 602h1v1h-1zM572 602h1v1h-1zM573 603h1v1h-1zM574 603h1v1h-1zM575 603h1v1h-1zM576 604h1v1h-1zM577 604h1v1h-1zM578 605h1v1h-1zM579 605h1v1h-1zM580 606h1v1h-1zM581 607h1v1h-1zM582 607h1v1h-1zM583 607h1v1h-1zM584 608h1v1h-1zM585 608h1v1h-1zM586 608h1v1h-1zM587 608h1v1h-1zM588 607h1v1h-1zM589 607h1v1h-1zM590 607h1v1h-1zM591 607h1v1h-1zM592 607h1v1h-1zM593 607h1v1h-1zM594 605h1v2h-1zM595 602h1v3h-1zM596 600h1v2h-1zM597 597h1v3h-1zM598 596h1v1h-1zM599 595h1v1h-1zM600 594h1v1h-1zM601 593h1v1h-1zM602 593h1v1h-1zM603 593h1v1h-1zM604 594h1v1h-1zM605 594h1v1h-1zM606 595h1v1h-1zM607 596h1v2h-1zM608 598h1v1h-1zM609 599h1v2h-1zM610 600h1v1h-1zM611 601h1v1h-1zM612 601h1v1h-1zM613 601h1v1h-1zM614 601h1v1h-1zM615 601h1v1h-1zM616 600h1v1h-1zM617 600h1v1h-1zM618 598h1v2h-1zM619 595h1v3h-1zM620 593h1v2h-1zM621 590h1v3h-1zM622 589h1v1h-1zM623 588h1v1h-1zM624 587h1v1h-1zM625 585h1v2h-1zM626 585h1v1h-1zM627 586h1v1h-1zM628 586h1v1h-1zM629 586h1v1h-1zM630 587h1v1h-1zM631 587h1v1h-1zM632 588h1v1h-1zM633 588h1v1h-1zM634 589h1v1h-1zM635 589h1v1h-1zM636 589h1v1h-1zM637 590h1v1h-1zM638 590h1v1h-1zM639 590h1v1h-1zM640 589h1v1h-1zM641 589h1v1h-1zM642 589h1v1h-1zM643 590h1v1h-1zM644 590h1v1h-1zM645 591h1v1h-1zM646 591h1v1h-1zM647 592h1v1h-1zM648 593h1v1h-1zM649 594h1v1h-1zM650 595h1v2h-1zM651 597h1v1h-1zM652 598h1v2h-1zM653 600h1v1h-1zM654 601h1v1h-1zM655 600h1v1h-1zM656 600h1v1h-1zM657 599h1v1h-1zM658 599h1v1h-1zM659 599h1v1h-1zM660 599h1v1h-1zM661 599h1v1h-1zM662 599h1v1h-1zM663 600h1v1h-1zM664 600h1v1h-1zM665 600h1v1h-1zM666 601h1v1h-1zM667 601h1v1h-1zM668 601h1v1h-1zM669 602h1v1h-1zM670 602h1v2h-1zM671 604h1v1h-1zM672 605h1v1h-1zM673 606h1v1h-1zM674 606h1v2h-1zM675 605h1v1h-1zM676 603h1v2h-1zM677 602h1v1h-1zM678 601h1v2h-1zM679 603h1v2h-1zM680 605h1v2h-1zM681 607h1v2h-1zM682 606h1v4h-1zM683 603h1v3h-1zM684 600h1v3h-1zM685 597h1v3h-1zM686 597h1v1h-1zM687 597h1v1h-1zM688 597h1v1h-1zM689 597h1v1h-1zM690 593h1v4h-1zM691 589h1v4h-1zM692 586h1v3h-1zM693 583h1v3h-1zM694 583h1v1h-1zM695 583h1v1h-1zM696 583h1v1h-1zM697 583h1v1h-1zM698 584h1v1h-1zM699 584h1v1h-1zM700 584h1v1h-1zM701 585h1v1h-1zM702 584h1v1h-1zM703 583h1v1h-1zM704 582h1v1h-1zM705 582h1v1h-1zM706 581h1v1h-1zM707 581h1v1h-1zM708 581h1v1h-1zM709 580h1v1h-1zM710 580h1v1h-1zM711 580h1v1h-1zM712 579h1v1h-1zM713 579h1v1h-1zM714 580h1v4h-1zM715 584h1v4h-1zM716 588h1v4h-1zM717 592h1v4h-1zM718 594h1v1h-1zM719 593h1v1h-1zM720 592h1v1h-1zM721 590h1v2h-1zM722 591h1v2h-1zM723 593h1v3h-1zM724 596h1v2h-1zM725 598h1v3h-1zM726 601h1v1h-1zM727 602h1v1h-1zM728 603h1v1h-1zM729 604h1v2h-1zM730 605h1v1h-1zM731 605h1v1h-1zM732 605h1v1h-1zM733 605h1v1h-1zM734 605h1v1h-1zM735 605h1v1h-1zM736 606h1v1h-1zM737 606h1v1h-1zM738 607h1v1h-1zM739 607h1v1h-1zM740 608h1v1h-1zM741 609h1v1h-1zM742 610h1v1h-1zM743 610h1v1h-1zM744 611h1v1h-1zM745 612h1v1h-1zM746 611h1v1h-1zM747 611h1v1h-1zM748 610h1v1h-1zM749 610h1v1h-1zM750 610h1v1h-1zM751 610h1v1h-1zM752 610h1v1h-1zM753 610h1v1h-1zM754 610h1v1h-1zM755 610h1v1h-1zM756 610h1v1h-1zM757 610h1v1h-1zM758 610h1v1h-1zM759 610h1v1h-1zM760 610h1v1h-1zM761 610h1v1h-1zM762 608h1v4h-1zM763 605h1v3h-1zM764 601h1v4h-1zM765 598h1v3h-1zM766 597h1v1h-1zM767 596h1v1h-1zM768 596h1v1h-1zM769 595h1v1h-1zM770 593h1v2h-1zM771 592h1v1h-1zM772 591h1v1h-1zM773 590h1v1h-1zM774 589h1v1h-1zM775 588h1v1h-1zM776 587h1v1h-1zM777 586h1v1h-1zM778 585h1v1h-1zM779 584h1v1h-1zM780 583h1v1h-1zM781 582h1v1h-1zM782 581h1v1h-1zM783 581h1v1h-1zM784 582h1v1h-1zM785 582h1v1h-1zM786 583h1v1h-1zM787 583h1v1h-1zM788 583h1v1h-1zM789 583h1v1h-1zM790 584h1v1h-1zM791 584h1v1h-1zM792 584h1v1h-1zM793 585h1v1h-1zM794 585h1v1h-1zM795 586h1v1h-1zM796 586h1v1h-1zM797 587h1v1h-1zM798 587h1v1h-1zM799 588h1v1h-1zM800 589h1v1h-1zM801 589h1v1h-1zM802 590h1v1h-1zM803 590h1v1h-1zM804 590h1v1h-1zM805 590h1v1h-1zM806 589h1v1h-1zM807 587h1v2h-1zM808 586h1v1h-1zM809 585h1v1h-1zM810 583h1v2h-1zM811 582h1v1h-1zM812 580h1v2h-1zM813 579h1v1h-1zM814 578h1v1h-1zM815 578h1v1h-1zM816 577h1v1h-1zM817 576h1v1h-1zM818 576h1v1h-1zM819 575h1v1h-1zM820 574h1v1h-1zM821 573h1v1h-1zM822 572h1v1h-1zM823 571h1v1h-1zM824 571h1v1h-1zM825 571h1v1h-1zM826 571h1v1h-1zM827 570h1v1h-1zM828 570h1v1h-1zM829 570h1v1h-1zM830 570h1v1h-1zM831 569h1v1h-1zM832 569h1v1h-1zM833 569h1v1h-1zM834 568h1v1h-1zM835 568h1v1h-1zM836 567h1v1h-1zM837 567h1v1h-1zM838 568h1v2h-1zM839 570h1v2h-1zM840 572h1v2h-1zM841 574h1v1h-1zM842 574h1v1h-1zM843 575h1v1h-1zM844 575h1v1h-1zM845 576h1v1h-1zM846 575h1v1h-1zM847 574h1v1h-1zM848 574h1v1h-1zM849 573h1v1h-1zM850 573h1v1h-1zM851 573h1v1h-1zM852 573h1v1h-1zM853 573h1v1h-1zM854 572h1v1h-1zM855 572h1v1h-1zM856 572h1v1h-1zM857 571h1v1h-1zM858 572h1v2h-1zM859 574h1v2h-1zM860 576h1v2h-1zM861 578h1v1h-1zM862 579h1v1h-1zM863 578h1v1h-1zM864 578h1v1h-1zM865 577h1v1h-1zM866 577h1v1h-1zM867 576h1v1h-1zM868 575h1v1h-1zM869 574h1v1h-1zM870 573h1v1h-1zM871 573h1v1h-1zM872 573h1v1h-1zM873 574h1v1h-1zM874 574h1v1h-1zM875 574h1v1h-1zM876 574h1v1h-1zM877 574h1v1h-1zM878 574h1v1h-1zM879 572h1v2h-1zM880 571h1v1h-1zM881 570h1v1h-1zM882 569h1v1h-1zM883 568h1v1h-1zM884 568h1v1h-1zM885 567h1v1h-1zM886 566h1v1h-1zM887 566h1v1h-1zM888 566h1v1h-1zM889 565h1v1h-1zM890 565h1v1h-1zM891 565h1v1h-1zM892 566h1v1h-1zM893 567h1v1h-1zM894 568h1v2h-1zM895 570h1v2h-1zM896 572h1v1h-1zM897 573h1v2h-1zM898 575h1v1h-1zM899 575h1v1h-1zM900 575h1v1h-1zM901 576h1v1h-1zM902 576h1v1h-1zM903 576h1v1h-1zM904 576h1v1h-1zM905 576h1v1h-1zM906 575h1v1h-1zM907 574h1v1h-1zM908 574h1v1h-1zM909 573h1v1h-1zM910 574h1v1h-1zM911 575h1v1h-1zM912 576h1v1h-1zM913 577h1v1h-1zM914 576h1v1h-1zM915 574h1v2h-1zM916 573h1v1h-1zM917 571h1v2h-1zM918 570h1v1h-1zM919 570h1v1h-1zM920 569h1v1h-1zM921 569h1v1h-1zM922 569h1v1h-1zM923 569h1v1h-1zM924 569h1v1h-1zM925 570h1v1h-1zM926 571h1v1h-1zM927 572h1v1h-1zM928 573h1v1h-1zM929 574h1v2h-1zM930 574h1v1h-1zM931 574h1v1h-1zM932 573h1v1h-1zM933 573h1v1h-1zM934 574h1v1h-1zM935 575h1v1h-1zM936 576h1v1h-1zM937 577h1v1h-1zM938 577h1v1h-1zM939 578h1v1h-1zM940 579h1v1h-1zM941 580h1v1h-1zM942 580h1v1h-1zM943 580h1v1h-1zM944 580h1v1h-1zM945 581h1v1h-1zM946 580h1v1h-1zM947 580h1v1h-1zM948 580h1v1h-1zM949 580h1v1h-1zM950 579h1v1h-1zM951 577h1v2h-1zM952 575h1v2h-1zM953 573h1v2h-1zM954 572h1v1h-1zM955 571h1v1h-1zM956 570h1v1h-1zM957 570h1v1h-1zM958 569h1v1h-1zM959 569h1v1h-1zM960 568h1v1h-1zM961 568h1v1h-1zM962 569h1v1h-1zM963 569h1v1h-1zM964 570h1v1h-1zM965 571h1v1h-1zM966 572h1v1h-1zM967 572h1v1h-1zM968 573h1v1h-1zM969 574h1v1h-1zM970 575h1v1h-1zM971 574h1v1h-1zM972 574h1v1h-1zM973 574h1v1h-1zM974 574h1v1h-1zM975 573h1v1h-1zM976 573h1v1h-1zM977 573h1v1h-1zM978 572h1v2h-1zM979 570h1v2h-1zM980 569h1v1h-1zM981 567h1v2h-1zM982 568h1v1h-1zM983 569h1v1h-1zM984 570h1v2h-1zM985 572h1v1h-1zM986 571h1v1h-1zM987 570h1v1h-1zM988 569h1v1h-1zM989 569h1v1h-1zM990 568h1v1h-1zM991 568h1v1h-1zM992 569h1v1h-1zM993 569h1v1h-1zM994 570h1v1h-1zM995 569h1v1h-1zM996 569h1v1h-1zM997 569h1v1h-1zM998 569h1v1h-1zM999 567h1v2h-1zM1000 566h1v1h-1zM1001 564h1v2h-1zM1002 563h1v1h-1zM1003 562h1v1h-1zM1004 561h1v1h-1zM1005 560h1v1h-1zM1006 559h1v1h-1zM1007 558h1v1h-1zM1008 558h1v1h-1zM1009 557h1v1h-1zM1010 557h1v1h-1zM1011 557h1v1h-1zM1012 557h1v1h-1zM1013 557h1v1h-1zM1014 557h1v1h-1zM1015 556h1v1h-1zM1016 556h1v1h-1zM1017 556h1v1h-1zM1018 556h1v1h-1zM1019 557h1v1h-1zM1020 557h1v1h-1zM1021 558h1v1h-1zM1022 557h1v1h-1zM1023 557h1v1h-1zM1024 557h1v1h-1zM1025 557h1v1h-1zM1026 558h1v1h-1zM1027 558h1v1h-1zM1028 559h1v1h-1zM1029 559h1v1h-1zM1030 559h1v1h-1zM1031 558h1v1h-1zM1032 558h1v1h-1zM1033 558h1v1h-1zM1034 559h1v3h-1zM1035 562h1v3h-1zM1036 565h1v3h-1zM1037 568h1v3h-1zM1038 570h1v1h-1zM1039 571h1v1h-1zM1040 572h1v1h-1zM1041 573h1v1h-1zM1042 573h1v1h-1zM1043 573h1v1h-1zM1044 573h1v1h-1zM1045 574h1v1h-1zM1046 573h1v1h-1zM1047 573h1v1h-1zM1048 573h1v1h-1zM1049 573h1v1h-1zM1050 572h1v1h-1zM1051 572h1v1h-1zM1052 571h1v1h-1zM1053 571h1v1h-1zM1054 571h1v1h-1zM1055 570h1v1h-1zM1056 570h1v1h-1zM1057 570h1v1h-1zM1058 571h1v1h-1zM1059 572h1v1h-1zM1060 573h1v1h-1zM1061 574h1v2h-1zM1062 575h1v1h-1zM1063 575h1v1h-1zM1064 575h1v1h-1zM1065 575h1v1h-1zM1066 575h1v1h-1zM1067 575h1v1h-1zM1068 575h1v1h-1zM1069 575h1v1h-1zM1070 574h1v1h-1zM1071 573h1v1h-1zM1072 572h1v1h-1zM1073 571h1v1h-1zM1074 570h1v1h-1zM1075 569h1v1h-1zM1076 569h1v1h-1zM1077 568h1v1h-1zM1078 569h1v2h-1zM1079 571h1v2h-1zM1080 573h1v2h-1zM1081 575h1v2h-1zM1082 576h1v1h-1zM1083 576h1v1h-1zM1084 576h1v1h-1zM1085 576h1v1h-1zM1086 576h1v1h-1zM1087 576h1v1h-1zM1088 576h1v1h-1zM1089 577h1v1h-1zM1090 577h1v1h-1zM1091 577h1v1h-1zM1092 577h1v1h-1zM1093 577h1v1h-1zM1094 577h1v1h-1zM1095 577h1v1h-1zM1096 577h1v1h-1zM1097 578h1v1h-1zM1098 578h1v1h-1zM1099 577h1v1h-1zM1100 576h1v1h-1zM1101 575h1v1h-1zM1102 575h1v1h-1zM1103 574h1v1h-1zM1104 573h1v1h-1zM1105 573h1v1h-1zM1106 572h1v1h-1zM1107 572h1v1h-1zM1108 572h1v1h-1zM1109 572h1v1h-1zM1110 572h1v1h-1zM1111 571h1v1h-1zM1112 571h1v1h-1zM1113 571h1v1h-1zM1114 570h1v1h-1zM1115 570h1v1h-1zM1116 570h1v1h-1zM1117 570h1v1h-1zM1118 570h1v1h-1zM1119 569h1v1h-1zM1120 568h1v1h-1zM1121 568h1v1h-1zM1122 567h1v1h-1zM1123 567h1v1h-1zM1124 568h1v1h-1zM1125 568h1v1h-1zM1126 568h1v1h-1zM1127 568h1v1h-1zM1128 568h1v1h-1zM1129 568h1v1h-1zM1130 568h1v1h-1zM1131 569h1v1h-1zM1132 569h1v1h-1zM1133 569h1v1h-1zM1134 570h1v1h-1zM1135 570h1v1h-1zM1136 570h1v1h-1zM1137 570h1v1h-1zM1138 570h1v1h-1zM1139 570h1v1h-1zM1140 571h1v1h-1zM1141 571h1v1h-1zM1142 572h1v1h-1zM1143 571h1v1h-1zM1144 570h1v1h-1zM1145 569h1v1h-1zM1146 568h1v1h-1zM1147 569h1v1h-1zM1148 569h1v1h-1zM1149 569h1v1h-1zM1150 570h1v1h-1zM1151 569h1v1h-1zM1152 568h1v1h-1zM1153 568h1v1h-1zM1154 567h1v1h-1zM1155 567h1v1h-1zM1156 566h1v1h-1zM1157 566h1v1h-1zM1158 567h1v1h-1zM1159 567h1v1h-1zM1160 568h1v1h-1zM1161 569h1v1h-1zM1162 569h1v1h-1zM1163 569h1v1h-1zM1164 569h1v1h-1zM1165 568h1v1h-1zM1166 568h1v1h-1zM1167 568h1v1h-1zM1168 567h1v1h-1zM1169 566h1v2h-1zM1170 565h1v1h-1zM1171 563h1v2h-1zM1172 561h1v2h-1zM1173 559h1v2h-1zM1174 558h1v1h-1zM1175 557h1v1h-1zM1176 556h1v1h-1zM1177 556h1v1h-1zM1178 556h1v1h-1zM1179 557h1v1h-1zM1180 557h1v1h-1zM1181 558h1v2h-1zM1182 560h1v1h-1zM1183 561h1v2h-1zM1184 563h1v2h-1zM1185 565h1v1h-1zM1186 565h1v1h-1zM1187 566h1v1h-1zM1188 566h1v1h-1zM1189 565h1v1h-1zM1190 565h1v1h-1zM1191 564h1v1h-1zM1192 563h1v1h-1zM1193 563h1v1h-1zM1194 562h1v1h-1zM1195 561h1v1h-1zM1196 561h1v1h-1zM1197 561h1v1h-1zM1198 560h1v1h-1zM1199 560h1v1h-1zM1200 560h1v1h-1zM1201 560h1v1h-1zM1202 561h1v1h-1zM1203 562h1v2h-1zM1204 564h1v1h-1zM1205 565h1v1h-1zM1206 564h1v1h-1zM1207 564h1v1h-1zM1208 564h1v1h-1zM1209 564h1v1h-1zM1210 564h1v1h-1zM1211 565h1v1h-1zM1212 565h1v1h-1zM1213 566h1v1h-1zM1214 567h1v2h-1zM1215 569h1v2h-1zM1216 571h1v1h-1zM1217 572h1v2h-1zM1218 572h1v1h-1zM1219 571h1v1h-1zM1220 569h1v2h-1zM1221 568h1v1h-1zM1222 567h1v1h-1zM1223 566h1v1h-1zM1224 564h1v2h-1zM1225 563h1v1h-1zM1226 562h1v1h-1zM1227 562h1v1h-1zM1228 562h1v1h-1zM1229 562h1v1h-1zM1230 563h1v2h-1zM1231 565h1v3h-1zM1232 568h1v2h-1zM1233 570h1v2h-1zM1234 572h1v1h-1zM1235 572h1v1h-1zM1236 573h1v1h-1zM1237 574h1v1h-1zM1238 573h1v1h-1zM1239 573h1v1h-1zM1240 573h1v1h-1zM1241 572h1v1h-1zM1242 573h1v1h-1zM1243 573h1v1h-1zM1244 573h1v1h-1zM1245 573h1v1h-1zM1246 573h1v1h-1zM1247 573h1v1h-1zM1248 572h1v1h-1zM1249 572h1v1h-1zM1250 572h1v1h-1zM1251 573h1v1h-1zM1252 573h1v1h-1zM1253 573h1v1h-1zM1254 573h1v1h-1zM1255 573h1v1h-1zM1256 572h1v1h-1zM1257 572h1v1h-1zM1258 572h1v1h-1zM1259 571h1v1h-1zM1260 571h1v1h-1zM1261 571h1v1h-1zM1262 570h1v1h-1zM1263 569h1v1h-1zM1264 568h1v1h-1zM1265 567h1v1h-1zM1266 567h1v1h-1zM1267 566h1v1h-1zM1268 565h1v1h-1zM1269 565h1v1h-1z" fill="#1e90ff"/>
<text x="9.10" y="547" font-size="9.7" textLength="67.71" lengthAdjust="spacingAndGlyphs" fill="#000">RSI(14) 66.7832</text>
<text x="1601.80" y="545" font-size="9.7" textLength="14.21" lengthAdjust="spacingAndGlyphs" fill="#000">100</text>
<text x="1601.20" y="566" font-size="9.7" textLength="9.00" lengthAdjust="spacingAndGlyphs" fill="#000">70</text>
<text x="1601.20" y="602" font-size="9.7" textLength="9.00" lengthAdjust="spacingAndGlyphs" fill="#000">30</text>
<text x="1601.60" y="623" font-size="9.7" textLength="4.60" lengthAdjust="spacingAndGlyphs" fill="#000">0</text>
<rect x="1598" y="536" width="1" height="1" fill="#000"/>
<rect x="1598" y="624" width="1" height="1" fill="#000"/>
<rect x="1596" y="562" width="3" height="1" fill="#c0c0c0"/>
<rect x="1596" y="598" width="3" height="1" fill="#c0c0c0"/>
<path d="M5 665h1v13h-1zM9 665h1v11h-1zM13 665h1v10h-1zM17 665h1v10h-1zM21 665h1v9h-1zM25 665h1v9h-1zM29 665h1v9h-1zM33 665h1v9h-1zM37 665h1v8h-1zM41 665h1v7h-1zM45 665h1v7h-1zM49 665h1v7h-1zM53 665h1v7h-1zM57 665h1v7h-1zM61 665h1v7h-1zM65 665h1v7h-1zM69 665h1v6h-1zM73 665h1v5h-1zM77 665h1v4h-1zM81 665h1v2h-1zM85 665h1v1h-1zM89 665h1v1h-1zM93 664h1v2h-1zM97 664h1v2h-1zM101 663h1v3h-1zM105 662h1v4h-1zM109 662h1v4h-1zM113 662h1v4h-1zM117 662h1v4h-1zM121 662h1v4h-1zM125 663h1v3h-1zM129 664h1v2h-1zM133 665h1v1h-1zM137 665h1v1h-1zM141 665h1v2h-1zM145 665h1v3h-1zM149 665h1v3h-1zM153 665h1v3h-1zM157 665h1v3h-1zM161 665h1v5h-1zM165 665h1v5h-1zM169 665h1v5h-1zM173 665h1v5h-1zM177 665h1v5h-1zM181 665h1v5h-1zM185 665h1v5h-1zM189 665h1v5h-1zM193 665h1v4h-1zM197 665h1v4h-1zM201 665h1v3h-1zM205 665h1v2h-1zM209 665h1v2h-1zM213 665h1v1h-1zM217 665h1v1h-1zM221 665h1v1h-1zM225 665h1v1h-1zM229 664h1v2h-1zM233 664h1v2h-1zM237 663h1v3h-1zM241 663h1v3h-1zM245 662h1v4h-1zM249 662h1v4h-1zM253 662h1v4h-1zM257 662h1v4h-1zM261 662h1v4h-1zM265 661h1v5h-1zM269 661h1v5h-1zM273 660h1v6h-1zM277 660h1v6h-1zM281 660h1v6h-1zM285 660h1v6h-1zM289 660h1v6h-1zM293 660h1v6h-1zM297 661h1v5h-1zM301 661h1v5h-1zM305 662h1v4h-1zM309 663h1v3h-1zM313 664h1v2h-1zM317 665h1v1h-1zM321 665h1v1h-1zM325 665h1v1h-1zM329 665h1v1h-1zM333 665h1v1h-1zM337 665h1v2h-1zM341 665h1v2h-1zM345 665h1v2h-1zM349 665h1v3h-1zM353 665h1v3h-1zM357 665h1v3h-1zM361 665h1v4h-1zM365 665h1v4h-1zM369 665h1v4h-1zM373 665h1v4h-1zM377 665h1v3h-1zM381 665h1v3h-1zM385 665h1v2h-1zM389 665h1v2h-1zM393 665h1v1h-1zM397 665h1v1h-1zM401 665h1v1h-1zM405 665h1v1h-1zM409 665h1v1h-1zM413 664h1v2h-1zM417 664h1v2h-1zM421 664h1v2h-1zM425 663h1v3h-1zM429 663h1v3h-1zM433 663h1v3h-1zM437 663h1v3h-1zM441 662h1v4h-1zM445 662h1v4h-1zM449 661h1v5h-1zM453 661h1v5h-1zM457 661h1v5h-1zM461 660h1v6h-1zM465 660h1v6h-1zM469 659h1v7h-1zM473 658h1v8h-1zM477 658h1v8h-1zM481 657h1v9h-1zM485 657h1v9h-1zM489 656h1v10h-1zM493 657h1v9h-1zM497 659h1v7h-1zM501 662h1v4h-1zM505 664h1v2h-1zM509 665h1v1h-1zM513 665h1v1h-1zM517 665h1v1h-1zM521 665h1v1h-1zM525 665h1v1h-1zM529 665h1v1h-1zM533 665h1v1h-1zM537 665h1v1h-1zM541 665h1v2h-1zM545 665h1v2h-1zM549 665h1v3h-1zM553 665h1v3h-1zM557 665h1v3h-1zM561 665h1v4h-1zM565 665h1v5h-1zM569 665h1v6h-1zM573 665h1v7h-1zM577 665h1v8h-1zM581 665h1v9h-1zM585 665h1v10h-1zM589 665h1v11h-1zM593 665h1v12h-1zM597 665h1v12h-1zM601 665h1v12h-1zM605 665h1v12h-1zM609 665h1v12h-1zM613 665h1v11h-1zM617 665h1v11h-1zM621 665h1v11h-1zM625 665h1v10h-1zM629 665h1v9h-1zM633 665h1v9h-1zM637 665h1v8h-1zM641 665h1v8h-1zM645 665h1v7h-1zM649 665h1v7h-1zM653 665h1v7h-1zM657 665h1v7h-1zM661 665h1v8h-1zM665 665h1v9h-1zM669 665h1v9h-1zM673 665h1v11h-1zM677 665h1v12h-1zM681 665h1v14h-1zM685 665h1v13h-1zM689 665h1v13h-1zM693 665h1v12h-1zM697 665h1v11h-1zM701 665h1v11h-1zM705 665h1v9h-1zM709 665h1v7h-1zM713 665h1v6h-1zM717 665h1v5h-1zM721 665h1v10h-1zM725 665h1v15h-1zM729 665h1v20h-1zM733 665h1v24h-1zM737 665h1v28h-1zM741 665h1v33h-1zM745 665h1v39h-1zM749 665h1v42h-1zM753 665h1v46h-1zM757 665h1v48h-1zM761 665h1v50h-1zM765 665h1v48h-1zM769 665h1v46h-1zM773 665h1v42h-1zM777 665h1v38h-1zM781 665h1v33h-1zM785 665h1v28h-1zM789 665h1v24h-1zM793 665h1v21h-1zM797 665h1v21h-1zM801 665h1v20h-1zM805 665h1v19h-1zM809 665h1v19h-1zM813 665h1v15h-1zM817 665h1v12h-1zM821 665h1v7h-1zM825 665h1v2h-1zM829 665h1v1h-1zM833 662h1v4h-1zM837 659h1v7h-1zM841 658h1v8h-1zM845 657h1v9h-1zM849 657h1v9h-1zM853 656h1v10h-1zM857 656h1v10h-1zM861 656h1v10h-1zM865 657h1v9h-1zM869 656h1v10h-1zM873 656h1v10h-1zM877 656h1v10h-1zM881 655h1v11h-1zM885 653h1v13h-1zM889 651h1v15h-1zM893 650h1v16h-1zM897 651h1v15h-1zM901 652h1v14h-1zM905 653h1v13h-1zM909 653h1v13h-1zM913 654h1v12h-1zM917 654h1v12h-1zM921 653h1v13h-1zM925 653h1v13h-1zM929 653h1v13h-1zM933 653h1v13h-1zM937 654h1v12h-1zM941 656h1v10h-1zM945 658h1v8h-1zM949 659h1v7h-1zM953 658h1v8h-1zM957 657h1v9h-1zM961 657h1v9h-1zM965 656h1v10h-1zM969 656h1v10h-1zM973 656h1v10h-1zM977 656h1v10h-1zM981 655h1v11h-1zM985 655h1v11h-1zM989 654h1v12h-1zM993 653h1v13h-1zM997 652h1v14h-1zM1001 650h1v16h-1zM1005 648h1v18h-1zM1009 644h1v22h-1zM1013 641h1v25h-1zM1017 639h1v27h-1zM1021 637h1v29h-1zM1025 636h1v30h-1zM1029 636h1v30h-1zM1033 636h1v30h-1zM1037 637h1v29h-1zM1041 639h1v27h-1zM1045 642h1v24h-1zM1049 644h1v22h-1zM1053 646h1v20h-1zM1057 646h1v20h-1zM1061 648h1v18h-1zM1065 650h1v16h-1zM1069 651h1v15h-1zM1073 652h1v14h-1zM1077 652h1v14h-1zM1081 653h1v13h-1zM1085 654h1v12h-1zM1089 656h1v10h-1zM1093 657h1v9h-1zM1097 657h1v9h-1zM1101 657h1v9h-1zM1105 657h1v9h-1zM1109 657h1v9h-1zM1113 657h1v9h-1zM1117 657h1v9h-1zM1121 657h1v9h-1zM1125 656h1v10h-1zM1129 656h1v10h-1zM1133 656h1v10h-1zM1137 657h1v9h-1zM1141 657h1v9h-1zM1145 657h1v9h-1zM1149 657h1v9h-1zM1153 657h1v9h-1zM1157 657h1v9h-1zM1161 657h1v9h-1zM1165 657h1v9h-1zM1169 656h1v10h-1zM1173 655h1v11h-1zM1177 654h1v12h-1zM1181 653h1v13h-1zM1185 653h1v13h-1zM1189 653h1v13h-1zM1193 652h1v14h-1zM1197 652h1v14h-1zM1201 652h1v14h-1zM1205 652h1v14h-1zM1209 652h1v14h-1zM1213 652h1v14h-1zM1217 652h1v14h-1zM1221 652h1v14h-1zM1225 653h1v13h-1zM1229 653h1v13h-1zM1233 653h1v13h-1zM1237 654h1v12h-1zM1241 655h1v11h-1zM1245 656h1v10h-1zM1249 656h1v10h-1zM1253 657h1v9h-1zM1257 657h1v9h-1zM1261 657h1v9h-1zM1265 657h1v9h-1zM1269 657h1v9h-1z" fill="#c0c0c0"/>
<path d="M6 677h1v1h-1zM7 677h1v1h-1zM8 677h1v1h-1zM12 677h1v1h-1zM13 677h1v1h-1zM14 676h1v1h-1zM18 676h1v1h-1zM19 676h1v1h-1zM20 676h1v1h-1zM24 676h1v1h-1zM25 676h1v1h-1zM26 675h1v1h-1zM30 675h1v1h-1zM31 675h1v1h-1zM32 675h1v1h-1zM36 675h1v1h-1zM37 674h1v1h-1zM38 674h1v1h-1zM42 674h1v1h-1zM43 674h1v1h-1zM44 674h1v1h-1zM48 674h1v1h-1zM49 674h1v1h-1zM50 673h1v1h-1zM54 673h1v1h-1zM55 673h1v1h-1zM56 673h1v1h-1zM60 673h1v1h-1zM61 673h1v1h-1zM62 673h1v1h-1zM66 672h1v1h-1zM67 672h1v1h-1zM68 672h1v1h-1zM72 672h1v1h-1zM73 672h1v1h-1zM74 672h1v1h-1zM78 672h1v1h-1zM79 671h1v1h-1zM80 671h1v1h-1zM84 670h1v1h-1zM85 670h1v1h-1zM86 670h1v1h-1zM90 669h1v1h-1zM91 668h1v1h-1zM92 668h1v1h-1zM96 667h1v1h-1zM97 667h1v1h-1zM98 667h1v1h-1zM102 666h1v1h-1zM103 665h1v1h-1zM104 665h1v1h-1zM108 664h1v1h-1zM109 664h1v1h-1zM110 664h1v1h-1zM114 663h1v1h-1zM115 663h1v1h-1zM116 662h1v1h-1zM120 661h1v1h-1zM121 661h1v1h-1zM122 661h1v1h-1zM126 661h1v1h-1zM127 661h1v1h-1zM128 661h1v1h-1zM132 662h1v1h-1zM133 662h1v1h-1zM134 662h1v1h-1zM138 662h1v1h-1zM139 662h1v1h-1zM140 663h1v1h-1zM144 663h1v1h-1zM145 663h1v1h-1zM146 663h1v1h-1zM150 664h1v1h-1zM151 664h1v1h-1zM152 665h1v1h-1zM156 666h1v1h-1zM157 666h1v1h-1zM158 666h1v1h-1zM162 666h1v1h-1zM163 666h1v1h-1zM164 667h1v1h-1zM168 669h1v1h-1zM169 669h1v1h-1zM170 669h1v1h-1zM174 669h1v1h-1zM175 669h1v1h-1zM176 669h1v1h-1zM180 669h1v1h-1zM181 669h1v1h-1zM182 669h1v1h-1zM186 669h1v1h-1zM187 669h1v1h-1zM188 669h1v1h-1zM192 669h1v1h-1zM193 669h1v1h-1zM194 669h1v1h-1zM198 669h1v1h-1zM199 669h1v1h-1zM200 669h1v1h-1zM204 668h1v1h-1zM205 668h1v1h-1zM206 668h1v1h-1zM210 668h1v1h-1zM211 668h1v1h-1zM212 668h1v1h-1zM216 668h1v1h-1zM217 667h1v1h-1zM218 667h1v1h-1zM222 667h1v1h-1zM223 667h1v1h-1zM224 667h1v1h-1zM228 666h1v1h-1zM229 666h1v1h-1zM230 666h1v1h-1zM234 665h1v1h-1zM235 665h1v1h-1zM236 665h1v1h-1zM240 664h1v1h-1zM241 664h1v1h-1zM242 664h1v1h-1zM246 663h1v1h-1zM247 663h1v1h-1zM248 662h1v1h-1zM252 662h1v1h-1zM253 662h1v1h-1zM254 662h1v1h-1zM258 661h1v1h-1zM259 661h1v1h-1zM260 661h1v1h-1zM264 661h1v1h-1zM265 660h1v1h-1zM266 660h1v1h-1zM270 660h1v1h-1zM271 660h1v1h-1zM272 660h1v1h-1zM276 659h1v1h-1zM277 659h1v1h-1zM278 659h1v1h-1zM282 659h1v1h-1zM283 659h1v1h-1zM284 659h1v1h-1zM288 659h1v1h-1zM289 659h1v1h-1zM290 659h1v1h-1zM294 659h1v1h-1zM295 659h1v1h-1zM296 659h1v1h-1zM300 659h1v1h-1zM301 659h1v1h-1zM302 659h1v1h-1zM306 659h1v1h-1zM307 659h1v1h-1zM308 659h1v1h-1zM312 659h1v1h-1zM313 659h1v1h-1zM314 659h1v1h-1zM318 660h1v1h-1zM319 660h1v1h-1zM320 660h1v1h-1zM324 661h1v1h-1zM325 661h1v1h-1zM326 662h1v1h-1zM330 663h1v1h-1zM331 663h1v1h-1zM332 663h1v1h-1zM336 664h1v1h-1zM337 664h1v1h-1zM338 664h1v1h-1zM342 665h1v1h-1zM343 665h1v1h-1zM344 665h1v1h-1zM348 666h1v1h-1zM349 666h1v1h-1zM350 666h1v1h-1zM354 666h1v1h-1zM355 666h1v1h-1zM356 666h1v1h-1zM360 667h1v1h-1zM361 667h1v1h-1zM362 667h1v1h-1zM366 667h1v1h-1zM367 667h1v1h-1zM368 667h1v1h-1zM372 667h1v1h-1zM373 667h1v1h-1zM374 667h1v1h-1zM378 667h1v1h-1zM379 668h1v1h-1zM380 668h1v1h-1zM384 667h1v1h-1zM385 667h1v1h-1zM386 667h1v1h-1zM390 667h1v1h-1zM391 667h1v1h-1zM392 667h1v1h-1zM396 667h1v1h-1zM397 666h1v1h-1zM398 666h1v1h-1zM402 666h1v1h-1zM403 666h1v1h-1zM404 666h1v1h-1zM408 665h1v1h-1zM409 665h1v1h-1zM410 665h1v1h-1zM414 665h1v1h-1zM415 664h1v1h-1zM416 664h1v1h-1zM420 664h1v1h-1zM421 664h1v1h-1zM422 664h1v1h-1zM426 663h1v1h-1zM427 663h1v1h-1zM428 663h1v1h-1zM432 663h1v1h-1zM433 663h1v1h-1zM434 662h1v1h-1zM438 662h1v1h-1zM439 662h1v1h-1zM440 662h1v1h-1zM444 661h1v1h-1zM445 661h1v1h-1zM446 661h1v1h-1zM450 661h1v1h-1zM451 661h1v1h-1zM452 661h1v1h-1zM456 660h1v1h-1zM457 660h1v1h-1zM458 660h1v1h-1zM462 660h1v1h-1zM463 659h1v1h-1zM464 659h1v1h-1zM468 659h1v1h-1zM469 659h1v1h-1zM470 659h1v1h-1zM474 658h1v1h-1zM475 658h1v1h-1zM476 658h1v1h-1zM480 657h1v1h-1zM481 657h1v1h-1zM482 657h1v1h-1zM486 656h1v1h-1zM487 656h1v1h-1zM488 656h1v1h-1zM492 656h1v1h-1zM493 656h1v1h-1zM494 656h1v1h-1zM498 656h1v1h-1zM499 656h1v1h-1zM500 656h1v1h-1zM504 656h1v1h-1zM505 656h1v1h-1zM506 657h1v1h-1zM510 658h1v1h-1zM511 658h1v1h-1zM512 658h1v1h-1zM516 658h1v1h-1zM517 659h1v1h-1zM518 659h1v1h-1zM522 661h1v1h-1zM523 661h1v1h-1zM524 661h1v1h-1zM528 662h1v1h-1zM529 662h1v1h-1zM530 662h1v1h-1zM534 663h1v1h-1zM535 663h1v1h-1zM536 663h1v1h-1zM540 664h1v1h-1zM541 664h1v1h-1zM542 664h1v1h-1zM546 664h1v1h-1zM547 664h1v1h-1zM548 665h1v1h-1zM552 665h1v1h-1zM553 665h1v1h-1zM554 665h1v1h-1zM558 666h1v1h-1zM559 666h1v1h-1zM560 666h1v1h-1zM564 667h1v1h-1zM565 667h1v1h-1zM566 667h1v1h-1zM570 668h1v1h-1zM571 668h1v1h-1zM572 668h1v1h-1zM576 669h1v1h-1zM577 669h1v1h-1zM578 670h1v1h-1zM582 671h1v1h-1zM583 671h1v1h-1zM584 671h1v1h-1zM588 672h1v1h-1zM589 672h1v1h-1zM590 673h1v1h-1zM594 673h1v1h-1zM595 674h1v1h-1zM596 674h1v1h-1zM600 674h1v1h-1zM601 674h1v1h-1zM602 674h1v1h-1zM606 675h1v1h-1zM607 675h1v1h-1zM608 675h1v1h-1zM612 675h1v1h-1zM613 676h1v1h-1zM614 676h1v1h-1zM618 676h1v1h-1zM619 676h1v1h-1zM620 676h1v1h-1zM624 675h1v1h-1zM625 675h1v1h-1zM626 675h1v1h-1zM630 675h1v1h-1zM631 675h1v1h-1zM632 675h1v1h-1zM636 674h1v1h-1zM637 674h1v1h-1zM638 674h1v1h-1zM642 674h1v1h-1zM643 674h1v1h-1zM644 673h1v1h-1zM648 673h1v1h-1zM649 673h1v1h-1zM650 673h1v1h-1zM654 673h1v1h-1zM655 673h1v1h-1zM656 673h1v1h-1zM660 673h1v1h-1zM661 673h1v1h-1zM662 673h1v1h-1zM666 673h1v1h-1zM667 673h1v1h-1zM668 673h1v1h-1zM672 673h1v1h-1zM673 673h1v1h-1zM674 674h1v1h-1zM678 674h1v1h-1zM679 675h1v1h-1zM680 675h1v1h-1zM684 676h1v1h-1zM685 676h1v1h-1zM686 676h1v1h-1zM690 676h1v1h-1zM691 677h1v1h-1zM692 677h1v1h-1zM696 677h1v1h-1zM697 677h1v1h-1zM698 677h1v1h-1zM702 677h1v1h-1zM703 677h1v1h-1zM704 677h1v1h-1zM708 677h1v1h-1zM709 677h1v1h-1zM710 677h1v1h-1zM714 676h1v1h-1zM715 676h1v1h-1zM716 676h1v1h-1zM720 675h1v1h-1zM721 675h1v1h-1zM722 675h1v1h-1zM726 675h1v1h-1zM727 675h1v1h-1zM728 675h1v1h-1zM732 676h1v1h-1zM733 676h1v1h-1zM734 676h1v1h-1zM738 678h1v1h-1zM739 679h1v1h-1zM740 680h1v1h-1zM744 683h1v1h-1zM745 684h1v1h-1zM746 685h1v1h-1zM750 689h1v1h-1zM751 690h1v1h-1zM752 691h1v1h-1zM756 695h1v1h-1zM757 696h1v1h-1zM758 697h1v1h-1zM761 701h1v1h-1zM762 702h1v1h-1zM763 703h1v1h-1zM767 705h1v1h-1zM768 706h1v1h-1zM769 707h1v1h-1zM773 708h1v1h-1zM774 708h1v1h-1zM775 708h1v1h-1zM779 708h1v1h-1zM780 708h1v1h-1zM781 708h1v1h-1zM785 707h1v1h-1zM786 706h1v1h-1zM787 705h1v1h-1zM791 702h1v1h-1zM792 702h1v1h-1zM793 701h1v1h-1zM797 698h1v1h-1zM798 697h1v1h-1zM799 697h1v1h-1zM803 694h1v1h-1zM804 693h1v1h-1zM805 692h1v1h-1zM809 689h1v1h-1zM810 688h1v1h-1zM811 688h1v1h-1zM815 686h1v1h-1zM816 685h1v1h-1zM817 685h1v1h-1zM821 683h1v1h-1zM822 682h1v1h-1zM823 681h1v1h-1zM827 678h1v1h-1zM828 678h1v1h-1zM829 677h1v1h-1zM833 674h1v1h-1zM834 673h1v1h-1zM835 673h1v1h-1zM839 669h1v1h-1zM840 669h1v1h-1zM841 668h1v1h-1zM845 665h1v1h-1zM846 665h1v1h-1zM847 664h1v1h-1zM851 662h1v1h-1zM852 661h1v1h-1zM853 661h1v1h-1zM857 658h1v1h-1zM858 658h1v1h-1zM859 657h1v1h-1zM863 656h1v1h-1zM864 656h1v1h-1zM865 656h1v1h-1zM869 656h1v1h-1zM870 656h1v1h-1zM871 655h1v1h-1zM875 655h1v1h-1zM876 655h1v1h-1zM877 655h1v1h-1zM881 655h1v1h-1zM882 655h1v1h-1zM883 654h1v1h-1zM887 654h1v1h-1zM888 654h1v1h-1zM889 653h1v1h-1zM893 653h1v1h-1zM894 653h1v1h-1zM895 652h1v1h-1zM899 652h1v1h-1zM900 652h1v1h-1zM901 652h1v1h-1zM905 651h1v1h-1zM906 651h1v1h-1zM907 651h1v1h-1zM911 651h1v1h-1zM912 651h1v1h-1zM913 651h1v1h-1zM917 651h1v1h-1zM918 651h1v1h-1zM919 651h1v1h-1zM923 651h1v1h-1zM924 651h1v1h-1zM925 651h1v1h-1zM929 651h1v1h-1zM930 651h1v1h-1zM931 652h1v1h-1zM935 652h1v1h-1zM936 652h1v1h-1zM937 652h1v1h-1zM941 652h1v1h-1zM942 652h1v1h-1zM943 652h1v1h-1zM947 653h1v1h-1zM948 653h1v1h-1zM949 654h1v1h-1zM953 654h1v1h-1zM954 654h1v1h-1zM955 655h1v1h-1zM959 655h1v1h-1zM960 655h1v1h-1zM961 655h1v1h-1zM965 655h1v1h-1zM966 656h1v1h-1zM967 656h1v1h-1zM971 656h1v1h-1zM972 656h1v1h-1zM973 656h1v1h-1zM977 656h1v1h-1zM978 656h1v1h-1zM979 656h1v1h-1zM983 655h1v1h-1zM984 655h1v1h-1zM985 655h1v1h-1zM989 654h1v1h-1zM990 654h1v1h-1zM991 654h1v1h-1zM995 653h1v1h-1zM996 653h1v1h-1zM997 653h1v1h-1zM1001 653h1v1h-1zM1002 652h1v1h-1zM1003 652h1v1h-1zM1007 651h1v1h-1zM1008 650h1v1h-1zM1009 650h1v1h-1zM1013 648h1v1h-1zM1014 648h1v1h-1zM1015 647h1v1h-1zM1019 645h1v1h-1zM1020 644h1v1h-1zM1021 644h1v1h-1zM1025 642h1v1h-1zM1026 641h1v1h-1zM1027 641h1v1h-1zM1031 640h1v1h-1zM1032 639h1v1h-1zM1033 639h1v1h-1zM1037 638h1v1h-1zM1038 637h1v1h-1zM1039 637h1v1h-1zM1043 636h1v1h-1zM1044 636h1v1h-1zM1045 636h1v1h-1zM1049 637h1v1h-1zM1050 637h1v1h-1zM1051 637h1v1h-1zM1055 638h1v1h-1zM1056 639h1v1h-1zM1057 639h1v1h-1zM1061 640h1v1h-1zM1062 640h1v1h-1zM1063 641h1v1h-1zM1067 643h1v1h-1zM1068 643h1v1h-1zM1069 644h1v1h-1zM1073 645h1v1h-1zM1074 645h1v1h-1zM1075 646h1v1h-1zM1079 647h1v1h-1zM1080 648h1v1h-1zM1081 648h1v1h-1zM1085 649h1v1h-1zM1086 649h1v1h-1zM1087 649h1v1h-1zM1091 650h1v1h-1zM1092 651h1v1h-1zM1093 651h1v1h-1zM1097 652h1v1h-1zM1098 652h1v1h-1zM1099 652h1v1h-1zM1103 653h1v1h-1zM1104 654h1v1h-1zM1105 654h1v1h-1zM1109 654h1v1h-1zM1110 654h1v1h-1zM1111 655h1v1h-1zM1115 655h1v1h-1zM1116 655h1v1h-1zM1117 655h1v1h-1zM1121 656h1v1h-1zM1122 656h1v1h-1zM1123 656h1v1h-1zM1127 656h1v1h-1zM1128 656h1v1h-1zM1129 656h1v1h-1zM1133 656h1v1h-1zM1134 656h1v1h-1zM1135 656h1v1h-1zM1139 655h1v1h-1zM1140 655h1v1h-1zM1141 655h1v1h-1zM1145 655h1v1h-1zM1146 655h1v1h-1zM1147 655h1v1h-1zM1151 655h1v1h-1zM1152 655h1v1h-1zM1153 655h1v1h-1zM1157 655h1v1h-1zM1158 655h1v1h-1zM1159 655h1v1h-1zM1163 655h1v1h-1zM1164 656h1v1h-1zM1165 656h1v1h-1zM1169 656h1v1h-1zM1170 656h1v1h-1zM1171 656h1v1h-1zM1175 655h1v1h-1zM1176 655h1v1h-1zM1177 655h1v1h-1zM1181 655h1v1h-1zM1182 655h1v1h-1zM1183 654h1v1h-1zM1187 653h1v1h-1zM1188 653h1v1h-1zM1189 653h1v1h-1zM1193 653h1v1h-1zM1194 653h1v1h-1zM1195 652h1v1h-1zM1199 652h1v1h-1zM1200 652h1v1h-1zM1201 651h1v1h-1zM1205 651h1v1h-1zM1206 651h1v1h-1zM1207 651h1v1h-1zM1211 651h1v1h-1zM1212 651h1v1h-1zM1213 651h1v1h-1zM1217 651h1v1h-1zM1218 651h1v1h-1zM1219 651h1v1h-1zM1223 651h1v1h-1zM1224 651h1v1h-1zM1225 651h1v1h-1zM1229 651h1v1h-1zM1230 651h1v1h-1zM1231 651h1v1h-1zM1235 651h1v1h-1zM1236 651h1v1h-1zM1237 651h1v1h-1zM1241 651h1v1h-1zM1242 651h1v1h-1zM1243 652h1v1h-1zM1247 652h1v1h-1zM1248 652h1v1h-1zM1249 652h1v1h-1zM1253 652h1v1h-1zM1254 652h1v1h-1zM1255 652h1v1h-1zM1259 653h1v1h-1zM1260 653h1v1h-1zM1261 653h1v1h-1zM1265 654h1v1h-1zM1266 654h1v1h-1zM1267 654h1v1h-1z" fill="#ff0000"/>
<text x="9.60" y="641.6" font-size="9.7" textLength="147.21" lengthAdjust="spacingAndGlyphs" fill="#000">MACD(12,26,9) 0.004172 0.004460</text>
<text x="1601.30" y="639.2" font-size="9.7" textLength="37.10" lengthAdjust="spacingAndGlyphs" fill="#000">0.015741</text>
<text x="1601.30" y="669" font-size="9.7" textLength="17.70" lengthAdjust="spacingAndGlyphs" fill="#000">0.00</text>
<text x="1601.00" y="717.5" font-size="9.7" textLength="41.23" lengthAdjust="spacingAndGlyphs" fill="#000">-0.024412</text>
<rect x="1598" y="665" width="2" height="1" fill="#000"/>
<rect x="5" y="721" width="1" height="3" fill="#000"/>
<text x="4.80" y="733.4" font-size="10" textLength="51.90" lengthAdjust="spacingAndGlyphs" fill="#000">15 Aug 2019</text>
<rect x="69" y="721" width="1" height="3" fill="#000"/>
<text x="68.70" y="733.4" font-size="10" textLength="46.30" lengthAdjust="spacingAndGlyphs" fill="#000">3 Sep 2019</text>
<rect x="133" y="721" width="1" height="3" fill="#000"/>
<text x="133.00" y="733.4" font-size="10" textLength="50.70" lengthAdjust="spacingAndGlyphs" fill="#000">21 Sep 2019</text>
<rect x="197" y="721" width="1" height="3" fill="#000"/>
<text x="197.00" y="733.4" font-size="10" textLength="49.40" lengthAdjust="spacingAndGlyphs" fill="#000">10 Oct 2019</text>
<rect x="261" y="721" width="1" height="3" fill="#000"/>
<text x="260.90" y="733.4" font-size="10" textLength="49.80" lengthAdjust="spacingAndGlyphs" fill="#000">29 Oct 2019</text>
<rect x="325" y="721" width="1" height="3" fill="#000"/>
<text x="324.80" y="733.4" font-size="10" textLength="53.01" lengthAdjust="spacingAndGlyphs" fill="#000">16 Nov 2019</text>
<rect x="389" y="721" width="1" height="3" fill="#000"/>
<text x="388.70" y="733.4" font-size="10" textLength="46.21" lengthAdjust="spacingAndGlyphs" fill="#000">5 Dec 2019</text>
<rect x="453" y="721" width="1" height="3" fill="#000"/>
<text x="453.00" y="733.4" font-size="10" textLength="50.61" lengthAdjust="spacingAndGlyphs" fill="#000">24 Dec 2019</text>
<rect x="517" y="721" width="1" height="3" fill="#000"/>
<text x="516.90" y="733.4" font-size="10" textLength="48.99" lengthAdjust="spacingAndGlyphs" fill="#000">11 Jan 2020</text>
<rect x="581" y="721" width="1" height="3" fill="#000"/>
<text x="580.80" y="733.4" font-size="10" textLength="49.00" lengthAdjust="spacingAndGlyphs" fill="#000">30 Jan 2020</text>
<rect x="645" y="721" width="1" height="3" fill="#000"/>
<text x="644.80" y="733.4" font-size="10" textLength="51.50" lengthAdjust="spacingAndGlyphs" fill="#000">18 Feb 2020</text>
<rect x="709" y="721" width="1" height="3" fill="#000"/>
<text x="708.70" y="733.4" font-size="10" textLength="46.29" lengthAdjust="spacingAndGlyphs" fill="#000">7 Mar 2020</text>
<rect x="773" y="721" width="1" height="3" fill="#000"/>
<text x="772.60" y="733.4" font-size="10" textLength="51.51" lengthAdjust="spacingAndGlyphs" fill="#000">26 Mar 2020</text>
<rect x="837" y="721" width="1" height="3" fill="#000"/>
<text x="837.00" y="733.4" font-size="10" textLength="49.40" lengthAdjust="spacingAndGlyphs" fill="#000">14 Apr 2020</text>
<rect x="901" y="721" width="1" height="3" fill="#000"/>
<text x="900.90" y="733.4" font-size="10" textLength="49.01" lengthAdjust="spacingAndGlyphs" fill="#000">2 May 2020</text>
<rect x="965" y="721" width="1" height="3" fill="#000"/>
<text x="964.80" y="733.4" font-size="10" textLength="54.20" lengthAdjust="spacingAndGlyphs" fill="#000">21 May 2020</text>
<rect x="1029" y="721" width="1" height="3" fill="#000"/>
<text x="1028.70" y="733.4" font-size="10" textLength="44.20" lengthAdjust="spacingAndGlyphs" fill="#000">9 Jun 2020</text>
<rect x="1093" y="721" width="1" height="3" fill="#000"/>
<text x="1093.00" y="733.4" font-size="10" textLength="48.60" lengthAdjust="spacingAndGlyphs" fill="#000">27 Jun 2020</text>
<rect x="1157" y="721" width="1" height="3" fill="#000"/>
<text x="1156.50" y="733.4" font-size="10" textLength="46.21" lengthAdjust="spacingAndGlyphs" fill="#000">16 Jul 2020</text>
<rect x="1221" y="721" width="1" height="3" fill="#000"/>
<text x="1220.80" y="733.4" font-size="10" textLength="47.00" lengthAdjust="spacingAndGlyphs" fill="#000">4 Aug 2020</text>
<rect x="210" y="743" width="104" height="19" fill="#000"/>
<rect x="211" y="742" width="102" height="19" fill="#ffffff"/>
<rect x="314" y="745" width="1" height="18" fill="#808080"/>
<text x="18.60" y="757.8" font-size="12" textLength="79.41" lengthAdjust="spacingAndGlyphs" fill="#707070">EURUSD,Daily</text>
<text x="120.50" y="757.8" font-size="12" textLength="78.70" lengthAdjust="spacingAndGlyphs" fill="#707070">USDCHF,Daily</text>
<text x="221.00" y="757.8" font-size="12" textLength="82.21" lengthAdjust="spacingAndGlyphs" fill="#000">AUDUSD,Daily</text>
<text x="325.00" y="757.8" font-size="12" textLength="81.01" lengthAdjust="spacingAndGlyphs" fill="#707070">USDCAD,Daily</text>
<text x="428.00" y="757.8" font-size="12" textLength="83.00" lengthAdjust="spacingAndGlyphs" fill="#707070">USDCNH,Daily</text>
<text x="534.00" y="757.8" font-size="12" textLength="80.31" lengthAdjust="spacingAndGlyphs" fill="#707070">EURUSD,Daily</text>
<text x="638.10" y="757.8" font-size="12" textLength="67.79" lengthAdjust="spacingAndGlyphs" fill="#707070">GBPUSD,H4</text>
<text x="728.90" y="757.8" font-size="12" textLength="68.50" lengthAdjust="spacingAndGlyphs" fill="#707070">XAUUSD,H1</text>
<text x="821.00" y="757.8" font-size="12" textLength="49.30" lengthAdjust="spacingAndGlyphs" fill="#707070">HK50,H1</text>
<text x="893.20" y="757.8" font-size="12" textLength="56.31" lengthAdjust="spacingAndGlyphs" fill="#707070">UK100,H1</text>
<text x="973.30" y="757.8" font-size="12" textLength="56.31" lengthAdjust="spacingAndGlyphs" fill="#707070">UK100,H1</text>
<text x="1053.60" y="757.8" font-size="12" textLength="55.79" lengthAdjust="spacingAndGlyphs" fill="#707070">GER30,H1</text>
<text x="1132.40" y="757.8" font-size="12" textLength="54.21" lengthAdjust="spacingAndGlyphs" fill="#707070">FRA40,H1</text>
<text x="1208.30" y="757.8" font-size="12" textLength="50.69" lengthAdjust="spacingAndGlyphs" fill="#707070">USOil,H4</text>
<text x="1280.30" y="757.8" font-size="12" textLength="62.40" lengthAdjust="spacingAndGlyphs" fill="#707070">USDJPY,H1</text>
<text x="1364.00" y="757.8" font-size="12" textLength="59.30" lengthAdjust="spacingAndGlyphs" fill="#707070">DJ30,Daily</text>
<text x="1444.00" y="757.8" font-size="12" textLength="78.50" lengthAdjust="spacingAndGlyphs" fill="#707070">CHINA300,H1</text>
<text x="1544.30" y="757.8" font-size="12" textLength="49.69" lengthAdjust="spacingAndGlyphs" fill="#707070">USOil,H1</text>
<rect x="110" y="746" width="1" height="14" fill="#505050"/>
<rect x="418" y="746" width="1" height="14" fill="#505050"/>
<rect x="522" y="746" width="1" height="14" fill="#505050"/>
<rect x="626" y="746" width="1" height="14" fill="#505050"/>
<rect x="718" y="746" width="1" height="14" fill="#505050"/>
<rect x="810" y="746" width="1" height="14" fill="#505050"/>
<rect x="882" y="746" width="1" height="14" fill="#505050"/>
<rect x="962" y="746" width="1" height="14" fill="#505050"/>
<rect x="1042" y="746" width="1" height="14" fill="#505050"/>
<rect x="1122" y="746" width="1" height="14" fill="#505050"/>
<rect x="1198" y="746" width="1" height="14" fill="#505050"/>
<rect x="1270" y="746" width="1" height="14" fill="#505050"/>
<rect x="1354" y="746" width="1" height="14" fill="#505050"/>
<rect x="1434" y="746" width="1" height="14" fill="#505050"/>
<rect x="1534" y="746" width="1" height="14" fill="#505050"/>
<rect x="1606" y="746" width="1" height="14" fill="#505050"/>
<path d="M1616.3 749 L1616.3 755.4 L1613 752.2 Z" fill="#a0a0a0" shape-rendering="auto"/>
<path d="M1631.8 749 L1631.8 755.4 L1635.2 752.2 Z" fill="#000" shape-rendering="auto"/>
</svg>
</body></html>
